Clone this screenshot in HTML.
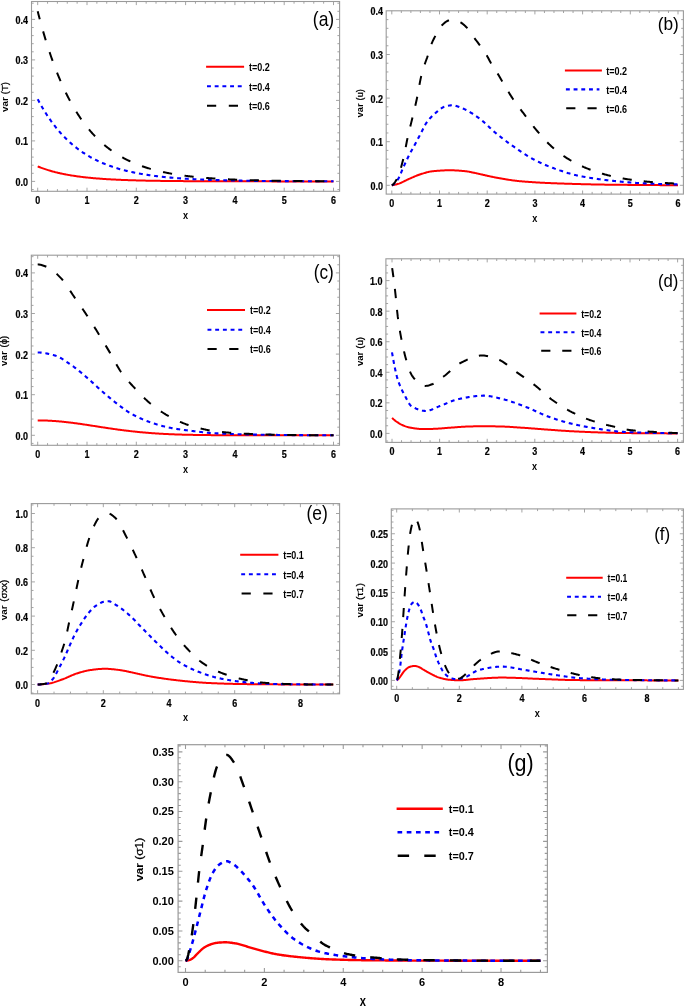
<!DOCTYPE html><html><head><meta charset="utf-8"><style>html,body{margin:0;padding:0;background:#fff;}svg text{font-family:"Liberation Sans", sans-serif;fill:#000;}</style></head><body>
<svg width="685" height="1008" viewBox="0 0 685 1008" style="display:block;filter:blur(0.3px)">
<rect width="685" height="1008" fill="#fff"/>
<g>
<rect x="31.5" y="1.5" width="308.10" height="189.80" fill="none" stroke="#9a9a9a" stroke-width="1.1"/>
<path d="M37.70,191.3v-3.60M37.70,1.5v3.60M47.56,191.3v-2.20M47.56,1.5v2.20M57.42,191.3v-2.20M57.42,1.5v2.20M67.28,191.3v-2.20M67.28,1.5v2.20M77.14,191.3v-2.20M77.14,1.5v2.20M87.00,191.3v-3.60M87.00,1.5v3.60M96.86,191.3v-2.20M96.86,1.5v2.20M106.72,191.3v-2.20M106.72,1.5v2.20M116.58,191.3v-2.20M116.58,1.5v2.20M126.44,191.3v-2.20M126.44,1.5v2.20M136.30,191.3v-3.60M136.30,1.5v3.60M146.16,191.3v-2.20M146.16,1.5v2.20M156.02,191.3v-2.20M156.02,1.5v2.20M165.88,191.3v-2.20M165.88,1.5v2.20M175.74,191.3v-2.20M175.74,1.5v2.20M185.60,191.3v-3.60M185.60,1.5v3.60M195.46,191.3v-2.20M195.46,1.5v2.20M205.32,191.3v-2.20M205.32,1.5v2.20M215.18,191.3v-2.20M215.18,1.5v2.20M225.04,191.3v-2.20M225.04,1.5v2.20M234.90,191.3v-3.60M234.90,1.5v3.60M244.76,191.3v-2.20M244.76,1.5v2.20M254.62,191.3v-2.20M254.62,1.5v2.20M264.48,191.3v-2.20M264.48,1.5v2.20M274.34,191.3v-2.20M274.34,1.5v2.20M284.20,191.3v-3.60M284.20,1.5v3.60M294.06,191.3v-2.20M294.06,1.5v2.20M303.92,191.3v-2.20M303.92,1.5v2.20M313.78,191.3v-2.20M313.78,1.5v2.20M323.64,191.3v-2.20M323.64,1.5v2.20M333.50,191.3v-3.60M333.50,1.5v3.60M31.5,189.50h2.20M339.6,189.50h-2.20M31.5,181.40h3.60M339.6,181.40h-3.60M31.5,173.30h2.20M339.6,173.30h-2.20M31.5,165.20h2.20M339.6,165.20h-2.20M31.5,157.10h2.20M339.6,157.10h-2.20M31.5,149.00h2.20M339.6,149.00h-2.20M31.5,140.90h3.60M339.6,140.90h-3.60M31.5,132.80h2.20M339.6,132.80h-2.20M31.5,124.70h2.20M339.6,124.70h-2.20M31.5,116.60h2.20M339.6,116.60h-2.20M31.5,108.50h2.20M339.6,108.50h-2.20M31.5,100.40h3.60M339.6,100.40h-3.60M31.5,92.30h2.20M339.6,92.30h-2.20M31.5,84.20h2.20M339.6,84.20h-2.20M31.5,76.10h2.20M339.6,76.10h-2.20M31.5,68.00h2.20M339.6,68.00h-2.20M31.5,59.90h3.60M339.6,59.90h-3.60M31.5,51.80h2.20M339.6,51.80h-2.20M31.5,43.70h2.20M339.6,43.70h-2.20M31.5,35.60h2.20M339.6,35.60h-2.20M31.5,27.50h2.20M339.6,27.50h-2.20M31.5,19.40h3.60M339.6,19.40h-3.60M31.5,11.30h2.20M339.6,11.30h-2.20M31.5,3.20h2.20M339.6,3.20h-2.20" stroke="#9a9a9a" stroke-width="0.90" fill="none"/>
<svg x="31.5" y="1.5" width="308.10" height="189.80" viewBox="31.5 1.5 308.10 189.80" overflow="hidden">
<path d="M37.70,166.42L38.44,166.72L39.18,167.01L39.92,167.30L40.67,167.58L41.41,167.86L42.15,168.13L42.89,168.40L43.63,168.66L44.37,168.92L45.11,169.17L45.85,169.41L46.60,169.65L47.34,169.89L48.08,170.12L48.82,170.35L49.56,170.57L50.30,170.79L51.04,171.00L51.79,171.21L52.53,171.42L53.27,171.62L54.01,171.81L54.75,172.01L55.49,172.19L56.23,172.38L56.98,172.56L57.72,172.74L58.46,172.91L59.20,173.08L59.94,173.25L60.68,173.41L61.42,173.57L62.16,173.73L62.91,173.89L63.65,174.04L64.39,174.18L65.13,174.33L65.87,174.47L66.61,174.61L67.35,174.75L68.10,174.88L68.84,175.01L69.58,175.14L70.32,175.27L71.06,175.39L71.80,175.51L72.54,175.63L73.28,175.74L74.03,175.86L74.77,175.97L75.51,176.08L76.25,176.19L76.99,176.29L77.73,176.39L78.47,176.49L79.22,176.59L79.96,176.69L80.70,176.78L81.44,176.88L82.18,176.97L82.92,177.06L83.66,177.14L84.41,177.23L85.15,177.31L85.89,177.40L86.63,177.48L87.37,177.55L88.11,177.63L88.85,177.71L89.59,177.78L90.34,177.85L91.08,177.93L91.82,178.00L92.56,178.06L93.30,178.13L94.04,178.20L94.78,178.26L95.53,178.32L96.27,178.39L97.01,178.45L97.75,178.51L98.49,178.56L99.23,178.62L99.97,178.68L100.72,178.73L101.46,178.79L102.20,178.84L102.94,178.89L103.68,178.94L104.42,178.99L105.16,179.04L105.90,179.09L106.65,179.13L107.39,179.18L108.13,179.22L108.87,179.27L109.61,179.31L110.35,179.35L111.09,179.39L111.84,179.43L112.58,179.47L113.32,179.51L114.06,179.55L114.80,179.59L115.54,179.62L116.28,179.66L117.02,179.69L117.77,179.73L118.51,179.76L119.25,179.79L119.99,179.83L120.73,179.86L121.47,179.89L122.21,179.92L122.96,179.95L123.70,179.98L124.44,180.01L125.18,180.03L125.92,180.06L126.66,180.09L127.40,180.12L128.15,180.14L128.89,180.17L129.63,180.19L130.37,180.22L131.11,180.24L131.85,180.26L132.59,180.29L133.33,180.31L134.08,180.33L134.82,180.35L135.56,180.37L136.30,180.39L137.04,180.41L137.78,180.43L138.52,180.45L139.27,180.47L140.01,180.49L140.75,180.51L141.49,180.53L142.23,180.54L142.97,180.56L143.71,180.58L144.45,180.59L145.20,180.61L145.94,180.63L146.68,180.64L147.42,180.66L148.16,180.67L148.90,180.69L149.64,180.70L150.39,180.72L151.13,180.73L151.87,180.74L152.61,180.76L153.35,180.77L154.09,180.78L154.83,180.79L155.58,180.81L156.32,180.82L157.06,180.83L157.80,180.84L158.54,180.85L159.28,180.86L160.02,180.87L160.76,180.88L161.51,180.89L162.25,180.91L162.99,180.92L163.73,180.92L164.47,180.93L165.21,180.94L165.95,180.95L166.70,180.96L167.44,180.97L168.18,180.98L168.92,180.99L169.66,181.00L170.40,181.00L171.14,181.01L171.88,181.02L172.63,181.03L173.37,181.04L174.11,181.04L174.85,181.05L175.59,181.06L176.33,181.06L177.07,181.07L177.82,181.08L178.56,181.08L179.30,181.09L180.04,181.10L180.78,181.10L181.52,181.11L182.26,181.11L183.01,181.12L183.75,181.13L184.49,181.13L185.23,181.14L185.97,181.14L186.71,181.15L187.45,181.15L188.19,181.16L188.94,181.16L189.68,181.17L190.42,181.17L191.16,181.18L191.90,181.18L192.64,181.18L193.38,181.19L194.13,181.19L194.87,181.20L195.61,181.20L196.35,181.21L197.09,181.21L197.83,181.21L198.57,181.22L199.32,181.22L200.06,181.22L200.80,181.23L201.54,181.23L202.28,181.23L203.02,181.24L203.76,181.24L204.50,181.24L205.25,181.25L205.99,181.25L206.73,181.25L207.47,181.26L208.21,181.26L208.95,181.26L209.69,181.27L210.44,181.27L211.18,181.27L211.92,181.27L212.66,181.28L213.40,181.28L214.14,181.28L214.88,181.28L215.62,181.29L216.37,181.29L217.11,181.29L217.85,181.29L218.59,181.29L219.33,181.30L220.07,181.30L220.81,181.30L221.56,181.30L222.30,181.30L223.04,181.31L223.78,181.31L224.52,181.31L225.26,181.31L226.00,181.31L226.75,181.32L227.49,181.32L228.23,181.32L228.97,181.32L229.71,181.32L230.45,181.32L231.19,181.33L231.93,181.33L232.68,181.33L233.42,181.33L234.16,181.33L234.90,181.33L235.64,181.33L236.38,181.34L237.12,181.34L237.87,181.34L238.61,181.34L239.35,181.34L240.09,181.34L240.83,181.34L241.57,181.34L242.31,181.34L243.05,181.35L243.80,181.35L244.54,181.35L245.28,181.35L246.02,181.35L246.76,181.35L247.50,181.35L248.24,181.35L248.99,181.35L249.73,181.35L250.47,181.36L251.21,181.36L251.95,181.36L252.69,181.36L253.43,181.36L254.18,181.36L254.92,181.36L255.66,181.36L256.40,181.36L257.14,181.36L257.88,181.36L258.62,181.36L259.36,181.37L260.11,181.37L260.85,181.37L261.59,181.37L262.33,181.37L263.07,181.37L263.81,181.37L264.55,181.37L265.30,181.37L266.04,181.37L266.78,181.37L267.52,181.37L268.26,181.37L269.00,181.37L269.74,181.37L270.48,181.37L271.23,181.37L271.97,181.38L272.71,181.38L273.45,181.38L274.19,181.38L274.93,181.38L275.67,181.38L276.42,181.38L277.16,181.38L277.90,181.38L278.64,181.38L279.38,181.38L280.12,181.38L280.86,181.38L281.61,181.38L282.35,181.38L283.09,181.38L283.83,181.38L284.57,181.38L285.31,181.38L286.05,181.38L286.79,181.38L287.54,181.38L288.28,181.38L289.02,181.38L289.76,181.38L290.50,181.39L291.24,181.39L291.98,181.39L292.73,181.39L293.47,181.39L294.21,181.39L294.95,181.39L295.69,181.39L296.43,181.39L297.17,181.39L297.92,181.39L298.66,181.39L299.40,181.39L300.14,181.39L300.88,181.39L301.62,181.39L302.36,181.39L303.10,181.39L303.85,181.39L304.59,181.39L305.33,181.39L306.07,181.39L306.81,181.39L307.55,181.39L308.29,181.39L309.04,181.39L309.78,181.39L310.52,181.39L311.26,181.39L312.00,181.39L312.74,181.39L313.48,181.39L314.22,181.39L314.97,181.39L315.71,181.39L316.45,181.39L317.19,181.39L317.93,181.39L318.67,181.39L319.41,181.39L320.16,181.39L320.90,181.39L321.64,181.39L322.38,181.39L323.12,181.39L323.86,181.39L324.60,181.39L325.35,181.39L326.09,181.39L326.83,181.39L327.57,181.39L328.31,181.39L329.05,181.39L329.79,181.39L330.53,181.40L331.28,181.40L332.02,181.40L332.76,181.40L333.50,181.40" fill="none" stroke="#ff0000" stroke-width="2.00" stroke-linejoin="round"/>
<path d="M37.70,99.19L38.44,100.58L39.18,101.96L39.92,103.31L40.67,104.63L41.41,105.94L42.15,107.22L42.89,108.48L43.63,109.72L44.37,110.94L45.11,112.14L45.85,113.31L46.60,114.47L47.34,115.61L48.08,116.73L48.82,117.83L49.56,118.91L50.30,119.97L51.04,121.01L51.79,122.04L52.53,123.05L53.27,124.04L54.01,125.02L54.75,125.97L55.49,126.92L56.23,127.84L56.98,128.75L57.72,129.65L58.46,130.53L59.20,131.39L59.94,132.24L60.68,133.08L61.42,133.90L62.16,134.71L62.91,135.50L63.65,136.28L64.39,137.05L65.13,137.80L65.87,138.54L66.61,139.27L67.35,139.99L68.10,140.69L68.84,141.38L69.58,142.06L70.32,142.73L71.06,143.39L71.80,144.03L72.54,144.67L73.28,145.29L74.03,145.91L74.77,146.51L75.51,147.10L76.25,147.69L76.99,148.26L77.73,148.82L78.47,149.38L79.22,149.92L79.96,150.46L80.70,150.98L81.44,151.50L82.18,152.01L82.92,152.51L83.66,153.00L84.41,153.48L85.15,153.95L85.89,154.42L86.63,154.88L87.37,155.33L88.11,155.77L88.85,156.21L89.59,156.64L90.34,157.06L91.08,157.47L91.82,157.88L92.56,158.28L93.30,158.67L94.04,159.06L94.78,159.44L95.53,159.81L96.27,160.18L97.01,160.54L97.75,160.89L98.49,161.24L99.23,161.58L99.97,161.92L100.72,162.25L101.46,162.58L102.20,162.90L102.94,163.21L103.68,163.52L104.42,163.82L105.16,164.12L105.90,164.42L106.65,164.71L107.39,164.99L108.13,165.27L108.87,165.54L109.61,165.81L110.35,166.08L111.09,166.34L111.84,166.59L112.58,166.85L113.32,167.09L114.06,167.34L114.80,167.57L115.54,167.81L116.28,168.04L117.02,168.27L117.77,168.49L118.51,168.71L119.25,168.93L119.99,169.14L120.73,169.35L121.47,169.55L122.21,169.75L122.96,169.95L123.70,170.15L124.44,170.34L125.18,170.52L125.92,170.71L126.66,170.89L127.40,171.07L128.15,171.25L128.89,171.42L129.63,171.59L130.37,171.75L131.11,171.92L131.85,172.08L132.59,172.24L133.33,172.39L134.08,172.55L134.82,172.70L135.56,172.85L136.30,172.99L137.04,173.13L137.78,173.27L138.52,173.41L139.27,173.55L140.01,173.68L140.75,173.81L141.49,173.94L142.23,174.07L142.97,174.19L143.71,174.32L144.45,174.44L145.20,174.55L145.94,174.67L146.68,174.79L147.42,174.90L148.16,175.01L148.90,175.12L149.64,175.22L150.39,175.33L151.13,175.43L151.87,175.53L152.61,175.63L153.35,175.73L154.09,175.83L154.83,175.92L155.58,176.01L156.32,176.11L157.06,176.20L157.80,176.28L158.54,176.37L159.28,176.46L160.02,176.54L160.76,176.62L161.51,176.71L162.25,176.78L162.99,176.86L163.73,176.94L164.47,177.02L165.21,177.09L165.95,177.16L166.70,177.24L167.44,177.31L168.18,177.38L168.92,177.44L169.66,177.51L170.40,177.58L171.14,177.64L171.88,177.71L172.63,177.77L173.37,177.83L174.11,177.89L174.85,177.95L175.59,178.01L176.33,178.07L177.07,178.12L177.82,178.18L178.56,178.23L179.30,178.29L180.04,178.34L180.78,178.39L181.52,178.44L182.26,178.49L183.01,178.54L183.75,178.59L184.49,178.64L185.23,178.69L185.97,178.73L186.71,178.78L187.45,178.82L188.19,178.87L188.94,178.91L189.68,178.95L190.42,178.99L191.16,179.04L191.90,179.08L192.64,179.11L193.38,179.15L194.13,179.19L194.87,179.23L195.61,179.27L196.35,179.30L197.09,179.34L197.83,179.37L198.57,179.41L199.32,179.44L200.06,179.47L200.80,179.51L201.54,179.54L202.28,179.57L203.02,179.60L203.76,179.63L204.50,179.66L205.25,179.69L205.99,179.72L206.73,179.75L207.47,179.78L208.21,179.81L208.95,179.83L209.69,179.86L210.44,179.89L211.18,179.91L211.92,179.94L212.66,179.96L213.40,179.99L214.14,180.01L214.88,180.03L215.62,180.06L216.37,180.08L217.11,180.10L217.85,180.12L218.59,180.15L219.33,180.17L220.07,180.19L220.81,180.21L221.56,180.23L222.30,180.25L223.04,180.27L223.78,180.29L224.52,180.31L225.26,180.33L226.00,180.34L226.75,180.36L227.49,180.38L228.23,180.40L228.97,180.41L229.71,180.43L230.45,180.45L231.19,180.46L231.93,180.48L232.68,180.49L233.42,180.51L234.16,180.52L234.90,180.54L235.64,180.55L236.38,180.57L237.12,180.58L237.87,180.60L238.61,180.61L239.35,180.62L240.09,180.64L240.83,180.65L241.57,180.66L242.31,180.68L243.05,180.69L243.80,180.70L244.54,180.71L245.28,180.72L246.02,180.73L246.76,180.75L247.50,180.76L248.24,180.77L248.99,180.78L249.73,180.79L250.47,180.80L251.21,180.81L251.95,180.82L252.69,180.83L253.43,180.84L254.18,180.85L254.92,180.86L255.66,180.87L256.40,180.88L257.14,180.89L257.88,180.89L258.62,180.90L259.36,180.91L260.11,180.92L260.85,180.93L261.59,180.94L262.33,180.94L263.07,180.95L263.81,180.96L264.55,180.97L265.30,180.97L266.04,180.98L266.78,180.99L267.52,181.00L268.26,181.00L269.00,181.01L269.74,181.02L270.48,181.02L271.23,181.03L271.97,181.03L272.71,181.04L273.45,181.05L274.19,181.05L274.93,181.06L275.67,181.06L276.42,181.07L277.16,181.08L277.90,181.08L278.64,181.09L279.38,181.09L280.12,181.10L280.86,181.10L281.61,181.11L282.35,181.11L283.09,181.12L283.83,181.12L284.57,181.13L285.31,181.13L286.05,181.14L286.79,181.14L287.54,181.15L288.28,181.15L289.02,181.15L289.76,181.16L290.50,181.16L291.24,181.17L291.98,181.17L292.73,181.17L293.47,181.18L294.21,181.18L294.95,181.19L295.69,181.19L296.43,181.19L297.17,181.20L297.92,181.20L298.66,181.20L299.40,181.21L300.14,181.21L300.88,181.21L301.62,181.22L302.36,181.22L303.10,181.22L303.85,181.23L304.59,181.23L305.33,181.23L306.07,181.23L306.81,181.24L307.55,181.24L308.29,181.24L309.04,181.25L309.78,181.25L310.52,181.25L311.26,181.25L312.00,181.26L312.74,181.26L313.48,181.26L314.22,181.26L314.97,181.26L315.71,181.27L316.45,181.27L317.19,181.27L317.93,181.27L318.67,181.28L319.41,181.28L320.16,181.28L320.90,181.28L321.64,181.28L322.38,181.29L323.12,181.29L323.86,181.29L324.60,181.29L325.35,181.29L326.09,181.30L326.83,181.30L327.57,181.30L328.31,181.30L329.05,181.30L329.79,181.30L330.53,181.31L331.28,181.31L332.02,181.31L332.76,181.31L333.50,181.31" fill="none" stroke="#0000ff" stroke-width="2.10" stroke-dasharray="3.90 3.80" stroke-linejoin="round"/>
<path d="M37.70,11.30L38.44,14.19L39.18,17.03L39.92,19.83L40.67,22.57L41.41,25.27L42.15,27.93L42.89,30.53L43.63,33.10L44.37,35.62L45.11,38.10L45.85,40.53L46.60,42.93L47.34,45.28L48.08,47.59L48.82,49.87L49.56,52.10L50.30,54.30L51.04,56.46L51.79,58.59L52.53,60.67L53.27,62.73L54.01,64.74L54.75,66.73L55.49,68.67L56.23,70.59L56.98,72.47L57.72,74.33L58.46,76.14L59.20,77.93L59.94,79.69L60.68,81.42L61.42,83.12L62.16,84.79L62.91,86.43L63.65,88.05L64.39,89.63L65.13,91.19L65.87,92.73L66.61,94.23L67.35,95.72L68.10,97.17L68.84,98.60L69.58,100.01L70.32,101.39L71.06,102.75L71.80,104.09L72.54,105.40L73.28,106.70L74.03,107.97L74.77,109.21L75.51,110.44L76.25,111.65L76.99,112.83L77.73,114.00L78.47,115.14L79.22,116.27L79.96,117.38L80.70,118.47L81.44,119.53L82.18,120.59L82.92,121.62L83.66,122.64L84.41,123.63L85.15,124.62L85.89,125.58L86.63,126.53L87.37,127.46L88.11,128.38L88.85,129.28L89.59,130.17L90.34,131.04L91.08,131.89L91.82,132.74L92.56,133.56L93.30,134.38L94.04,135.17L94.78,135.96L95.53,136.73L96.27,137.49L97.01,138.24L97.75,138.97L98.49,139.69L99.23,140.40L99.97,141.10L100.72,141.78L101.46,142.46L102.20,143.12L102.94,143.77L103.68,144.41L104.42,145.04L105.16,145.66L105.90,146.26L106.65,146.86L107.39,147.45L108.13,148.02L108.87,148.59L109.61,149.15L110.35,149.70L111.09,150.24L111.84,150.77L112.58,151.29L113.32,151.80L114.06,152.30L114.80,152.80L115.54,153.28L116.28,153.76L117.02,154.23L117.77,154.69L118.51,155.15L119.25,155.59L119.99,156.03L120.73,156.46L121.47,156.89L122.21,157.30L122.96,157.71L123.70,158.11L124.44,158.51L125.18,158.90L125.92,159.28L126.66,159.66L127.40,160.03L128.15,160.39L128.89,160.75L129.63,161.10L130.37,161.44L131.11,161.78L131.85,162.12L132.59,162.44L133.33,162.77L134.08,163.08L134.82,163.39L135.56,163.70L136.30,164.00L137.04,164.30L137.78,164.59L138.52,164.87L139.27,165.15L140.01,165.43L140.75,165.70L141.49,165.97L142.23,166.23L142.97,166.49L143.71,166.74L144.45,166.99L145.20,167.24L145.94,167.48L146.68,167.71L147.42,167.95L148.16,168.18L148.90,168.40L149.64,168.62L150.39,168.84L151.13,169.05L151.87,169.26L152.61,169.47L153.35,169.67L154.09,169.87L154.83,170.07L155.58,170.26L156.32,170.45L157.06,170.63L157.80,170.82L158.54,171.00L159.28,171.17L160.02,171.35L160.76,171.52L161.51,171.69L162.25,171.85L162.99,172.01L163.73,172.17L164.47,172.33L165.21,172.48L165.95,172.64L166.70,172.78L167.44,172.93L168.18,173.08L168.92,173.22L169.66,173.36L170.40,173.49L171.14,173.63L171.88,173.76L172.63,173.89L173.37,174.02L174.11,174.14L174.85,174.27L175.59,174.39L176.33,174.51L177.07,174.62L177.82,174.74L178.56,174.85L179.30,174.96L180.04,175.07L180.78,175.18L181.52,175.29L182.26,175.39L183.01,175.49L183.75,175.59L184.49,175.69L185.23,175.79L185.97,175.88L186.71,175.98L187.45,176.07L188.19,176.16L188.94,176.25L189.68,176.34L190.42,176.42L191.16,176.51L191.90,176.59L192.64,176.67L193.38,176.75L194.13,176.83L194.87,176.91L195.61,176.99L196.35,177.06L197.09,177.13L197.83,177.21L198.57,177.28L199.32,177.35L200.06,177.42L200.80,177.48L201.54,177.55L202.28,177.62L203.02,177.68L203.76,177.74L204.50,177.81L205.25,177.87L205.99,177.93L206.73,177.99L207.47,178.04L208.21,178.10L208.95,178.16L209.69,178.21L210.44,178.27L211.18,178.32L211.92,178.37L212.66,178.42L213.40,178.47L214.14,178.52L214.88,178.57L215.62,178.62L216.37,178.67L217.11,178.71L217.85,178.76L218.59,178.81L219.33,178.85L220.07,178.89L220.81,178.94L221.56,178.98L222.30,179.02L223.04,179.06L223.78,179.10L224.52,179.14L225.26,179.18L226.00,179.21L226.75,179.25L227.49,179.29L228.23,179.32L228.97,179.36L229.71,179.39L230.45,179.43L231.19,179.46L231.93,179.49L232.68,179.53L233.42,179.56L234.16,179.59L234.90,179.62L235.64,179.65L236.38,179.68L237.12,179.71L237.87,179.74L238.61,179.77L239.35,179.79L240.09,179.82L240.83,179.85L241.57,179.87L242.31,179.90L243.05,179.93L243.80,179.95L244.54,179.98L245.28,180.00L246.02,180.02L246.76,180.05L247.50,180.07L248.24,180.09L248.99,180.12L249.73,180.14L250.47,180.16L251.21,180.18L251.95,180.20L252.69,180.22L253.43,180.24L254.18,180.26L254.92,180.28L255.66,180.30L256.40,180.32L257.14,180.34L257.88,180.35L258.62,180.37L259.36,180.39L260.11,180.41L260.85,180.42L261.59,180.44L262.33,180.46L263.07,180.47L263.81,180.49L264.55,180.50L265.30,180.52L266.04,180.53L266.78,180.55L267.52,180.56L268.26,180.58L269.00,180.59L269.74,180.60L270.48,180.62L271.23,180.63L271.97,180.64L272.71,180.66L273.45,180.67L274.19,180.68L274.93,180.69L275.67,180.71L276.42,180.72L277.16,180.73L277.90,180.74L278.64,180.75L279.38,180.76L280.12,180.77L280.86,180.79L281.61,180.80L282.35,180.81L283.09,180.82L283.83,180.83L284.57,180.84L285.31,180.85L286.05,180.85L286.79,180.86L287.54,180.87L288.28,180.88L289.02,180.89L289.76,180.90L290.50,180.91L291.24,180.92L291.98,180.92L292.73,180.93L293.47,180.94L294.21,180.95L294.95,180.96L295.69,180.96L296.43,180.97L297.17,180.98L297.92,180.99L298.66,180.99L299.40,181.00L300.14,181.01L300.88,181.01L301.62,181.02L302.36,181.03L303.10,181.03L303.85,181.04L304.59,181.04L305.33,181.05L306.07,181.06L306.81,181.06L307.55,181.07L308.29,181.07L309.04,181.08L309.78,181.08L310.52,181.09L311.26,181.10L312.00,181.10L312.74,181.11L313.48,181.11L314.22,181.12L314.97,181.12L315.71,181.13L316.45,181.13L317.19,181.13L317.93,181.14L318.67,181.14L319.41,181.15L320.16,181.15L320.90,181.16L321.64,181.16L322.38,181.16L323.12,181.17L323.86,181.17L324.60,181.18L325.35,181.18L326.09,181.18L326.83,181.19L327.57,181.19L328.31,181.19L329.05,181.20L329.79,181.20L330.53,181.21L331.28,181.21L332.02,181.21L332.76,181.21L333.50,181.22" fill="none" stroke="#000000" stroke-width="2.00" stroke-dasharray="9.20 12.60" stroke-dashoffset="1.02" stroke-linejoin="round"/>
</svg>
<text transform="translate(37.70,204.05) scale(0.9,1)" text-anchor="middle" font-size="10" font-weight="bold" stroke="#000" stroke-width="0.2">0</text>
<text transform="translate(87.00,204.05) scale(0.9,1)" text-anchor="middle" font-size="10" font-weight="bold" stroke="#000" stroke-width="0.2">1</text>
<text transform="translate(136.30,204.05) scale(0.9,1)" text-anchor="middle" font-size="10" font-weight="bold" stroke="#000" stroke-width="0.2">2</text>
<text transform="translate(185.60,204.05) scale(0.9,1)" text-anchor="middle" font-size="10" font-weight="bold" stroke="#000" stroke-width="0.2">3</text>
<text transform="translate(234.90,204.05) scale(0.9,1)" text-anchor="middle" font-size="10" font-weight="bold" stroke="#000" stroke-width="0.2">4</text>
<text transform="translate(284.20,204.05) scale(0.9,1)" text-anchor="middle" font-size="10" font-weight="bold" stroke="#000" stroke-width="0.2">5</text>
<text transform="translate(333.50,204.05) scale(0.9,1)" text-anchor="middle" font-size="10" font-weight="bold" stroke="#000" stroke-width="0.2">6</text>
<text transform="translate(28.10,185.95) scale(0.9,1)" text-anchor="end" font-size="10" font-weight="bold" stroke="#000" stroke-width="0.2">0.0</text>
<text transform="translate(28.10,145.45) scale(0.9,1)" text-anchor="end" font-size="10" font-weight="bold" stroke="#000" stroke-width="0.2">0.1</text>
<text transform="translate(28.10,104.95) scale(0.9,1)" text-anchor="end" font-size="10" font-weight="bold" stroke="#000" stroke-width="0.2">0.2</text>
<text transform="translate(28.10,64.45) scale(0.9,1)" text-anchor="end" font-size="10" font-weight="bold" stroke="#000" stroke-width="0.2">0.3</text>
<text transform="translate(28.10,23.95) scale(0.9,1)" text-anchor="end" font-size="10" font-weight="bold" stroke="#000" stroke-width="0.2">0.4</text>
<text x="182.95" y="218.95" font-size="11.51" font-weight="bold" textLength="5.1" lengthAdjust="spacingAndGlyphs">x</text>
<g transform="translate(7.50,0) rotate(-90)">
<text x="-112.00" y="0" font-size="9.3" font-weight="bold" textLength="14.8" lengthAdjust="spacingAndGlyphs">var</text>
<text x="-94.20" y="0" font-size="8.3" stroke="#000" stroke-width="0.25" textLength="12.00" lengthAdjust="spacingAndGlyphs">(T)</text>
</g>
<text x="312.80" y="25.62" font-size="19.89" textLength="21.40" lengthAdjust="spacingAndGlyphs">(a)</text>
<path d="M206.10,66.70H244.10" fill="none" stroke="#ff0000" stroke-width="2.00"/>
<text x="249.00" y="71.05" font-size="10" font-weight="bold" textLength="20.8" lengthAdjust="spacingAndGlyphs">t=0.2</text>
<path d="M207.00,86.30H241.70" fill="none" stroke="#0000ff" stroke-width="2.10" stroke-dasharray="3.90 3.80"/>
<text x="249.00" y="90.65" font-size="10" font-weight="bold" textLength="20.8" lengthAdjust="spacingAndGlyphs">t=0.4</text>
<path d="M207.00,105.80H244.00" fill="none" stroke="#000000" stroke-width="2.00" stroke-dasharray="9.20 12.60" />
<text x="249.00" y="110.15" font-size="10" font-weight="bold" textLength="20.8" lengthAdjust="spacingAndGlyphs">t=0.6</text>
</g>
<g>
<rect x="386.2" y="10.8" width="297.20" height="183.30" fill="none" stroke="#9a9a9a" stroke-width="1.1"/>
<path d="M391.80,194.1v-3.60M391.80,10.8v3.60M401.34,194.1v-2.20M401.34,10.8v2.20M410.88,194.1v-2.20M410.88,10.8v2.20M420.42,194.1v-2.20M420.42,10.8v2.20M429.96,194.1v-2.20M429.96,10.8v2.20M439.50,194.1v-3.60M439.50,10.8v3.60M449.04,194.1v-2.20M449.04,10.8v2.20M458.58,194.1v-2.20M458.58,10.8v2.20M468.12,194.1v-2.20M468.12,10.8v2.20M477.66,194.1v-2.20M477.66,10.8v2.20M487.20,194.1v-3.60M487.20,10.8v3.60M496.74,194.1v-2.20M496.74,10.8v2.20M506.28,194.1v-2.20M506.28,10.8v2.20M515.82,194.1v-2.20M515.82,10.8v2.20M525.36,194.1v-2.20M525.36,10.8v2.20M534.90,194.1v-3.60M534.90,10.8v3.60M544.44,194.1v-2.20M544.44,10.8v2.20M553.98,194.1v-2.20M553.98,10.8v2.20M563.52,194.1v-2.20M563.52,10.8v2.20M573.06,194.1v-2.20M573.06,10.8v2.20M582.60,194.1v-3.60M582.60,10.8v3.60M592.14,194.1v-2.20M592.14,10.8v2.20M601.68,194.1v-2.20M601.68,10.8v2.20M611.22,194.1v-2.20M611.22,10.8v2.20M620.76,194.1v-2.20M620.76,10.8v2.20M630.30,194.1v-3.60M630.30,10.8v3.60M639.84,194.1v-2.20M639.84,10.8v2.20M649.38,194.1v-2.20M649.38,10.8v2.20M658.92,194.1v-2.20M658.92,10.8v2.20M668.46,194.1v-2.20M668.46,10.8v2.20M678.00,194.1v-3.60M678.00,10.8v3.60M386.2,185.30h3.60M683.4,185.30h-3.60M386.2,176.58h2.20M683.4,176.58h-2.20M386.2,167.86h2.20M683.4,167.86h-2.20M386.2,159.14h2.20M683.4,159.14h-2.20M386.2,150.42h2.20M683.4,150.42h-2.20M386.2,141.70h3.60M683.4,141.70h-3.60M386.2,132.98h2.20M683.4,132.98h-2.20M386.2,124.26h2.20M683.4,124.26h-2.20M386.2,115.54h2.20M683.4,115.54h-2.20M386.2,106.82h2.20M683.4,106.82h-2.20M386.2,98.10h3.60M683.4,98.10h-3.60M386.2,89.38h2.20M683.4,89.38h-2.20M386.2,80.66h2.20M683.4,80.66h-2.20M386.2,71.94h2.20M683.4,71.94h-2.20M386.2,63.22h2.20M683.4,63.22h-2.20M386.2,54.50h3.60M683.4,54.50h-3.60M386.2,45.78h2.20M683.4,45.78h-2.20M386.2,37.06h2.20M683.4,37.06h-2.20M386.2,28.34h2.20M683.4,28.34h-2.20M386.2,19.62h2.20M683.4,19.62h-2.20" stroke="#9a9a9a" stroke-width="0.90" fill="none"/>
<svg x="386.2" y="10.8" width="297.20" height="183.30" viewBox="386.2 10.8 297.20 183.30" overflow="hidden">
<path d="M391.80,185.30L392.52,185.19L393.23,185.06L393.95,184.92L394.67,184.77L395.39,184.60L396.10,184.43L396.82,184.24L397.54,184.04L398.26,183.83L398.97,183.59L399.69,183.32L400.41,183.03L401.12,182.73L401.84,182.40L402.56,182.06L403.28,181.72L403.99,181.36L404.71,181.00L405.43,180.64L406.15,180.28L406.86,179.93L407.58,179.58L408.30,179.25L409.02,178.93L409.73,178.62L410.45,178.31L411.17,178.00L411.88,177.69L412.60,177.37L413.32,177.06L414.04,176.75L414.75,176.44L415.47,176.14L416.19,175.84L416.91,175.55L417.62,175.27L418.34,175.00L419.06,174.74L419.77,174.49L420.49,174.25L421.21,174.03L421.93,173.81L422.64,173.59L423.36,173.36L424.08,173.14L424.80,172.93L425.51,172.72L426.23,172.51L426.95,172.32L427.66,172.13L428.38,171.95L429.10,171.79L429.82,171.64L430.53,171.51L431.25,171.39L431.97,171.29L432.69,171.22L433.40,171.15L434.12,171.08L434.84,171.02L435.55,170.96L436.27,170.90L436.99,170.84L437.71,170.78L438.42,170.73L439.14,170.68L439.86,170.63L440.58,170.58L441.29,170.54L442.01,170.49L442.73,170.46L443.45,170.42L444.16,170.39L444.88,170.36L445.60,170.33L446.31,170.31L447.03,170.29L447.75,170.28L448.47,170.27L449.18,170.26L449.90,170.26L450.62,170.26L451.34,170.27L452.05,170.28L452.77,170.30L453.49,170.32L454.20,170.35L454.92,170.38L455.64,170.41L456.36,170.45L457.07,170.50L457.79,170.54L458.51,170.59L459.23,170.65L459.94,170.70L460.66,170.76L461.38,170.82L462.09,170.89L462.81,170.95L463.53,171.02L464.25,171.09L464.96,171.16L465.68,171.23L466.40,171.30L467.12,171.40L467.83,171.51L468.55,171.64L469.27,171.78L469.98,171.93L470.70,172.08L471.42,172.24L472.14,172.40L472.85,172.55L473.57,172.70L474.29,172.84L475.01,172.99L475.72,173.14L476.44,173.30L477.16,173.45L477.88,173.61L478.59,173.77L479.31,173.93L480.03,174.10L480.74,174.26L481.46,174.42L482.18,174.59L482.90,174.75L483.61,174.92L484.33,175.09L485.05,175.25L485.77,175.42L486.48,175.58L487.20,175.74L487.92,175.91L488.63,176.07L489.35,176.23L490.07,176.38L490.79,176.54L491.50,176.69L492.22,176.84L492.94,176.99L493.66,177.13L494.37,177.27L495.09,177.41L495.81,177.55L496.52,177.68L497.24,177.80L497.96,177.93L498.68,178.06L499.39,178.18L500.11,178.31L500.83,178.44L501.55,178.56L502.26,178.69L502.98,178.81L503.70,178.93L504.42,179.06L505.13,179.18L505.85,179.30L506.57,179.42L507.28,179.53L508.00,179.65L508.72,179.76L509.44,179.87L510.15,179.98L510.87,180.09L511.59,180.19L512.31,180.30L513.02,180.39L513.74,180.49L514.46,180.58L515.17,180.67L515.89,180.76L516.61,180.85L517.33,180.93L518.04,181.00L518.76,181.08L519.48,181.14L520.20,181.21L520.91,181.27L521.63,181.33L522.35,181.39L523.06,181.45L523.78,181.51L524.50,181.57L525.22,181.63L525.93,181.68L526.65,181.74L527.37,181.79L528.09,181.85L528.80,181.90L529.52,181.95L530.24,182.00L530.95,182.05L531.67,182.10L532.39,182.15L533.11,182.20L533.82,182.24L534.54,182.29L535.26,182.33L535.98,182.38L536.69,182.42L537.41,182.46L538.13,182.51L538.85,182.55L539.56,182.59L540.28,182.63L541.00,182.67L541.71,182.71L542.43,182.74L543.15,182.78L543.87,182.82L544.58,182.85L545.30,182.89L546.02,182.92L546.74,182.95L547.45,182.99L548.17,183.02L548.89,183.05L549.60,183.08L550.32,183.11L551.04,183.14L551.76,183.17L552.47,183.20L553.19,183.23L553.91,183.26L554.63,183.28L555.34,183.31L556.06,183.34L556.78,183.36L557.49,183.39L558.21,183.41L558.93,183.44L559.65,183.46L560.36,183.49L561.08,183.51L561.80,183.54L562.52,183.56L563.23,183.59L563.95,183.61L564.67,183.64L565.38,183.66L566.10,183.69L566.82,183.71L567.54,183.73L568.25,183.76L568.97,183.78L569.69,183.80L570.41,183.82L571.12,183.85L571.84,183.87L572.56,183.89L573.28,183.91L573.99,183.93L574.71,183.95L575.43,183.98L576.14,184.00L576.86,184.02L577.58,184.04L578.30,184.06L579.01,184.08L579.73,184.10L580.45,184.12L581.17,184.14L581.88,184.16L582.60,184.17L583.32,184.19L584.03,184.21L584.75,184.23L585.47,184.25L586.19,184.26L586.90,184.28L587.62,184.30L588.34,184.32L589.06,184.33L589.77,184.35L590.49,184.36L591.21,184.38L591.92,184.40L592.64,184.41L593.36,184.43L594.08,184.44L594.79,184.45L595.51,184.47L596.23,184.48L596.95,184.50L597.66,184.51L598.38,184.52L599.10,184.54L599.82,184.55L600.53,184.56L601.25,184.57L601.97,184.58L602.68,184.59L603.40,184.61L604.12,184.62L604.84,184.63L605.55,184.64L606.27,184.65L606.99,184.66L607.71,184.66L608.42,184.67L609.14,184.68L609.86,184.69L610.57,184.70L611.29,184.71L612.01,184.71L612.73,184.72L613.44,184.73L614.16,184.74L614.88,184.75L615.60,184.75L616.31,184.76L617.03,184.77L617.75,184.78L618.46,184.79L619.18,184.79L619.90,184.80L620.62,184.81L621.33,184.82L622.05,184.82L622.77,184.83L623.49,184.84L624.20,184.85L624.92,184.85L625.64,184.86L626.35,184.87L627.07,184.87L627.79,184.88L628.51,184.89L629.22,184.90L629.94,184.90L630.66,184.91L631.38,184.92L632.09,184.92L632.81,184.93L633.53,184.94L634.25,184.94L634.96,184.95L635.68,184.96L636.40,184.96L637.11,184.97L637.83,184.98L638.55,184.98L639.27,184.99L639.98,184.99L640.70,185.00L641.42,185.01L642.14,185.01L642.85,185.02L643.57,185.02L644.29,185.03L645.00,185.03L645.72,185.04L646.44,185.04L647.16,185.05L647.87,185.05L648.59,185.06L649.31,185.06L650.03,185.07L650.74,185.07L651.46,185.08L652.18,185.08L652.89,185.09L653.61,185.09L654.33,185.10L655.05,185.10L655.76,185.10L656.48,185.11L657.20,185.11L657.92,185.12L658.63,185.12L659.35,185.12L660.07,185.13L660.78,185.13L661.50,185.13L662.22,185.14L662.94,185.14L663.65,185.14L664.37,185.14L665.09,185.15L665.81,185.15L666.52,185.15L667.24,185.15L667.96,185.16L668.68,185.16L669.39,185.16L670.11,185.16L670.83,185.16L671.54,185.16L672.26,185.16L672.98,185.17L673.70,185.17L674.41,185.17L675.13,185.17L675.85,185.17L676.57,185.17L677.28,185.17L678.00,185.17" fill="none" stroke="#ff0000" stroke-width="2.00" stroke-linejoin="round"/>
<path d="M391.80,185.30L392.52,185.01L393.23,184.57L393.95,184.02L394.67,183.35L395.39,182.60L396.10,181.77L396.82,180.88L397.54,179.95L398.26,178.92L398.97,177.61L399.69,176.09L400.41,174.42L401.12,172.65L401.84,170.86L402.56,169.11L403.28,167.45L403.99,165.90L404.71,164.35L405.43,162.81L406.15,161.28L406.86,159.76L407.58,158.27L408.30,156.80L409.02,155.36L409.73,153.97L410.45,152.62L411.17,151.30L411.88,150.01L412.60,148.73L413.32,147.46L414.04,146.18L414.75,144.87L415.47,143.54L416.19,142.19L416.91,140.82L417.62,139.44L418.34,138.05L419.06,136.67L419.77,135.29L420.49,133.92L421.21,132.57L421.93,131.18L422.64,129.75L423.36,128.32L424.08,126.90L424.80,125.54L425.51,124.25L426.23,123.07L426.95,122.03L427.66,121.07L428.38,120.17L429.10,119.30L429.82,118.48L430.53,117.70L431.25,116.95L431.97,116.23L432.69,115.54L433.40,114.87L434.12,114.22L434.84,113.60L435.55,112.98L436.27,112.35L436.99,111.72L437.71,111.10L438.42,110.49L439.14,109.90L439.86,109.33L440.58,108.80L441.29,108.30L442.01,107.85L442.73,107.46L443.45,107.12L444.16,106.85L444.88,106.63L445.60,106.42L446.31,106.21L447.03,106.02L447.75,105.84L448.47,105.68L449.18,105.55L449.90,105.43L450.62,105.35L451.34,105.31L452.05,105.30L452.77,105.33L453.49,105.41L454.20,105.52L454.92,105.68L455.64,105.86L456.36,106.07L457.07,106.30L457.79,106.55L458.51,106.82L459.23,107.09L459.94,107.37L460.66,107.65L461.38,107.92L462.09,108.19L462.81,108.47L463.53,108.77L464.25,109.08L464.96,109.42L465.68,109.76L466.40,110.12L467.12,110.50L467.83,110.89L468.55,111.29L469.27,111.71L469.98,112.13L470.70,112.57L471.42,113.01L472.14,113.47L472.85,113.93L473.57,114.40L474.29,114.87L475.01,115.35L475.72,115.84L476.44,116.33L477.16,116.82L477.88,117.32L478.59,117.82L479.31,118.35L480.03,118.89L480.74,119.46L481.46,120.04L482.18,120.64L482.90,121.26L483.61,121.89L484.33,122.53L485.05,123.18L485.77,123.84L486.48,124.51L487.20,125.18L487.92,125.86L488.63,126.54L489.35,127.22L490.07,127.90L490.79,128.57L491.50,129.24L492.22,129.91L492.94,130.56L493.66,131.21L494.37,131.85L495.09,132.47L495.81,133.08L496.52,133.68L497.24,134.26L497.96,134.83L498.68,135.41L499.39,135.98L500.11,136.55L500.83,137.11L501.55,137.67L502.26,138.23L502.98,138.78L503.70,139.34L504.42,139.88L505.13,140.43L505.85,140.97L506.57,141.51L507.28,142.04L508.00,142.57L508.72,143.10L509.44,143.62L510.15,144.15L510.87,144.66L511.59,145.18L512.31,145.69L513.02,146.19L513.74,146.69L514.46,147.19L515.17,147.69L515.89,148.18L516.61,148.67L517.33,149.17L518.04,149.66L518.76,150.15L519.48,150.64L520.20,151.12L520.91,151.61L521.63,152.09L522.35,152.57L523.06,153.05L523.78,153.52L524.50,153.99L525.22,154.45L525.93,154.91L526.65,155.36L527.37,155.81L528.09,156.25L528.80,156.68L529.52,157.11L530.24,157.53L530.95,157.95L531.67,158.35L532.39,158.75L533.11,159.13L533.82,159.51L534.54,159.88L535.26,160.25L535.98,160.61L536.69,160.97L537.41,161.32L538.13,161.67L538.85,162.02L539.56,162.36L540.28,162.70L541.00,163.03L541.71,163.36L542.43,163.69L543.15,164.01L543.87,164.33L544.58,164.64L545.30,164.95L546.02,165.26L546.74,165.56L547.45,165.86L548.17,166.15L548.89,166.44L549.60,166.73L550.32,167.01L551.04,167.29L551.76,167.56L552.47,167.83L553.19,168.10L553.91,168.36L554.63,168.62L555.34,168.88L556.06,169.13L556.78,169.38L557.49,169.64L558.21,169.89L558.93,170.13L559.65,170.38L560.36,170.63L561.08,170.87L561.80,171.11L562.52,171.35L563.23,171.58L563.95,171.82L564.67,172.05L565.38,172.28L566.10,172.50L566.82,172.72L567.54,172.94L568.25,173.15L568.97,173.36L569.69,173.57L570.41,173.77L571.12,173.97L571.84,174.17L572.56,174.36L573.28,174.54L573.99,174.73L574.71,174.90L575.43,175.07L576.14,175.24L576.86,175.40L577.58,175.56L578.30,175.71L579.01,175.85L579.73,176.00L580.45,176.14L581.17,176.28L581.88,176.42L582.60,176.55L583.32,176.69L584.03,176.82L584.75,176.95L585.47,177.08L586.19,177.20L586.90,177.33L587.62,177.45L588.34,177.57L589.06,177.69L589.77,177.81L590.49,177.93L591.21,178.04L591.92,178.15L592.64,178.26L593.36,178.37L594.08,178.48L594.79,178.59L595.51,178.69L596.23,178.80L596.95,178.90L597.66,179.00L598.38,179.10L599.10,179.20L599.82,179.29L600.53,179.39L601.25,179.48L601.97,179.57L602.68,179.67L603.40,179.75L604.12,179.84L604.84,179.93L605.55,180.02L606.27,180.10L606.99,180.19L607.71,180.27L608.42,180.35L609.14,180.43L609.86,180.51L610.57,180.59L611.29,180.67L612.01,180.75L612.73,180.83L613.44,180.90L614.16,180.98L614.88,181.06L615.60,181.13L616.31,181.21L617.03,181.28L617.75,181.36L618.46,181.43L619.18,181.50L619.90,181.57L620.62,181.64L621.33,181.71L622.05,181.78L622.77,181.85L623.49,181.92L624.20,181.98L624.92,182.05L625.64,182.11L626.35,182.18L627.07,182.24L627.79,182.30L628.51,182.36L629.22,182.42L629.94,182.47L630.66,182.53L631.38,182.59L632.09,182.64L632.81,182.69L633.53,182.74L634.25,182.79L634.96,182.84L635.68,182.88L636.40,182.93L637.11,182.97L637.83,183.01L638.55,183.05L639.27,183.09L639.98,183.13L640.70,183.16L641.42,183.20L642.14,183.23L642.85,183.27L643.57,183.31L644.29,183.34L645.00,183.38L645.72,183.41L646.44,183.45L647.16,183.48L647.87,183.51L648.59,183.55L649.31,183.58L650.03,183.61L650.74,183.65L651.46,183.68L652.18,183.71L652.89,183.74L653.61,183.77L654.33,183.81L655.05,183.84L655.76,183.87L656.48,183.89L657.20,183.92L657.92,183.95L658.63,183.98L659.35,184.01L660.07,184.03L660.78,184.06L661.50,184.08L662.22,184.11L662.94,184.13L663.65,184.15L664.37,184.18L665.09,184.20L665.81,184.22L666.52,184.24L667.24,184.26L667.96,184.28L668.68,184.29L669.39,184.31L670.11,184.32L670.83,184.34L671.54,184.35L672.26,184.37L672.98,184.38L673.70,184.39L674.41,184.40L675.13,184.41L675.85,184.41L676.57,184.42L677.28,184.42L678.00,184.43" fill="none" stroke="#0000ff" stroke-width="2.10" stroke-dasharray="3.90 3.80" stroke-linejoin="round"/>
<path d="M391.80,185.30L392.52,184.92L393.23,184.33L393.95,183.55L394.67,182.61L395.39,181.55L396.10,180.39L396.82,179.16L397.54,177.81L398.26,176.17L398.97,174.24L399.69,172.08L400.41,169.71L401.12,167.17L401.84,164.50L402.56,161.74L403.28,158.92L403.99,155.94L404.71,152.52L405.43,148.81L406.15,144.99L406.86,141.27L407.58,137.81L408.30,134.64L409.02,131.61L409.73,128.67L410.45,125.77L411.17,122.87L411.88,119.94L412.60,116.93L413.32,113.94L414.04,110.96L414.75,107.96L415.47,104.90L416.19,101.75L416.91,98.48L417.62,94.94L418.34,91.08L419.06,87.07L419.77,83.12L420.49,79.40L421.21,76.11L421.93,73.31L422.64,70.78L423.36,68.45L424.08,66.24L424.80,64.06L425.51,61.99L426.23,60.02L426.95,58.06L427.66,55.97L428.38,53.67L429.10,51.22L429.82,48.78L430.53,46.50L431.25,44.54L431.97,42.80L432.69,41.18L433.40,39.68L434.12,38.25L434.84,36.88L435.55,35.54L436.27,34.18L436.99,32.84L437.71,31.52L438.42,30.25L439.14,29.05L439.86,27.94L440.58,26.93L441.29,26.05L442.01,25.30L442.73,24.58L443.45,23.88L444.16,23.22L444.88,22.60L445.60,22.04L446.31,21.54L447.03,21.11L447.75,20.77L448.47,20.52L449.18,20.33L449.90,20.15L450.62,19.99L451.34,19.86L452.05,19.74L452.77,19.67L453.49,19.62L454.20,19.64L454.92,19.74L455.64,19.93L456.36,20.18L457.07,20.50L457.79,20.85L458.51,21.24L459.23,21.64L459.94,22.04L460.66,22.44L461.38,22.88L462.09,23.38L462.81,23.92L463.53,24.50L464.25,25.12L464.96,25.78L465.68,26.47L466.40,27.18L467.12,27.92L467.83,28.70L468.55,29.57L469.27,30.52L469.98,31.53L470.70,32.58L471.42,33.66L472.14,34.75L472.85,35.83L473.57,36.88L474.29,37.89L475.01,38.85L475.72,39.80L476.44,40.74L477.16,41.68L477.88,42.62L478.59,43.58L479.31,44.55L480.03,45.55L480.74,46.54L481.46,47.54L482.18,48.54L482.90,49.56L483.61,50.59L484.33,51.65L485.05,52.73L485.77,53.84L486.48,54.98L487.20,56.18L487.92,57.47L488.63,58.82L489.35,60.19L490.07,61.53L490.79,62.83L491.50,64.04L492.22,65.20L492.94,66.33L493.66,67.43L494.37,68.52L495.09,69.61L495.81,70.70L496.52,71.81L497.24,72.95L497.96,74.12L498.68,75.34L499.39,76.57L500.11,77.82L500.83,79.06L501.55,80.28L502.26,81.49L502.98,82.71L503.70,83.92L504.42,85.14L505.13,86.35L505.85,87.56L506.57,88.77L507.28,89.97L508.00,91.16L508.72,92.33L509.44,93.50L510.15,94.65L510.87,95.78L511.59,96.90L512.31,97.99L513.02,99.07L513.74,100.12L514.46,101.15L515.17,102.17L515.89,103.18L516.61,104.17L517.33,105.14L518.04,106.11L518.76,107.07L519.48,108.02L520.20,108.97L520.91,109.91L521.63,110.85L522.35,111.78L523.06,112.72L523.78,113.66L524.50,114.60L525.22,115.54L525.93,116.49L526.65,117.45L527.37,118.40L528.09,119.36L528.80,120.31L529.52,121.26L530.24,122.21L530.95,123.16L531.67,124.10L532.39,125.03L533.11,125.95L533.82,126.87L534.54,127.77L535.26,128.66L535.98,129.54L536.69,130.41L537.41,131.26L538.13,132.10L538.85,132.93L539.56,133.76L540.28,134.59L541.00,135.41L541.71,136.23L542.43,137.04L543.15,137.85L543.87,138.64L544.58,139.43L545.30,140.21L546.02,140.98L546.74,141.74L547.45,142.49L548.17,143.22L548.89,143.95L549.60,144.65L550.32,145.34L551.04,146.02L551.76,146.68L552.47,147.32L553.19,147.95L553.91,148.56L554.63,149.16L555.34,149.76L556.06,150.34L556.78,150.92L557.49,151.49L558.21,152.05L558.93,152.60L559.65,153.14L560.36,153.68L561.08,154.20L561.80,154.72L562.52,155.23L563.23,155.73L563.95,156.22L564.67,156.70L565.38,157.18L566.10,157.64L566.82,158.10L567.54,158.55L568.25,158.98L568.97,159.41L569.69,159.84L570.41,160.25L571.12,160.67L571.84,161.07L572.56,161.47L573.28,161.87L573.99,162.26L574.71,162.65L575.43,163.03L576.14,163.40L576.86,163.77L577.58,164.14L578.30,164.50L579.01,164.85L579.73,165.20L580.45,165.54L581.17,165.88L581.88,166.21L582.60,166.53L583.32,166.85L584.03,167.17L584.75,167.47L585.47,167.77L586.19,168.07L586.90,168.36L587.62,168.64L588.34,168.92L589.06,169.20L589.77,169.47L590.49,169.74L591.21,170.01L591.92,170.27L592.64,170.53L593.36,170.79L594.08,171.04L594.79,171.29L595.51,171.54L596.23,171.78L596.95,172.02L597.66,172.26L598.38,172.49L599.10,172.72L599.82,172.95L600.53,173.17L601.25,173.39L601.97,173.61L602.68,173.82L603.40,174.03L604.12,174.23L604.84,174.43L605.55,174.63L606.27,174.82L606.99,175.01L607.71,175.19L608.42,175.37L609.14,175.55L609.86,175.72L610.57,175.89L611.29,176.06L612.01,176.23L612.73,176.39L613.44,176.55L614.16,176.71L614.88,176.86L615.60,177.02L616.31,177.17L617.03,177.32L617.75,177.47L618.46,177.61L619.18,177.75L619.90,177.89L620.62,178.03L621.33,178.16L622.05,178.30L622.77,178.43L623.49,178.55L624.20,178.68L624.92,178.80L625.64,178.92L626.35,179.04L627.07,179.15L627.79,179.26L628.51,179.37L629.22,179.48L629.94,179.58L630.66,179.68L631.38,179.78L632.09,179.88L632.81,179.98L633.53,180.07L634.25,180.17L634.96,180.26L635.68,180.36L636.40,180.45L637.11,180.54L637.83,180.63L638.55,180.71L639.27,180.80L639.98,180.88L640.70,180.97L641.42,181.05L642.14,181.13L642.85,181.21L643.57,181.29L644.29,181.36L645.00,181.44L645.72,181.51L646.44,181.58L647.16,181.65L647.87,181.72L648.59,181.79L649.31,181.85L650.03,181.92L650.74,181.98L651.46,182.04L652.18,182.10L652.89,182.15L653.61,182.21L654.33,182.26L655.05,182.31L655.76,182.36L656.48,182.42L657.20,182.47L657.92,182.52L658.63,182.57L659.35,182.62L660.07,182.66L660.78,182.71L661.50,182.76L662.22,182.80L662.94,182.85L663.65,182.89L664.37,182.94L665.09,182.98L665.81,183.02L666.52,183.06L667.24,183.10L667.96,183.14L668.68,183.18L669.39,183.22L670.11,183.25L670.83,183.29L671.54,183.32L672.26,183.35L672.98,183.38L673.70,183.41L674.41,183.44L675.13,183.47L675.85,183.49L676.57,183.51L677.28,183.54L678.00,183.56" fill="none" stroke="#000000" stroke-width="2.00" stroke-dasharray="9.20 12.05" stroke-dashoffset="1.13" stroke-linejoin="round"/>
</svg>
<text transform="translate(391.80,207.15) scale(0.9,1)" text-anchor="middle" font-size="10" font-weight="bold" stroke="#000" stroke-width="0.2">0</text>
<text transform="translate(439.50,207.15) scale(0.9,1)" text-anchor="middle" font-size="10" font-weight="bold" stroke="#000" stroke-width="0.2">1</text>
<text transform="translate(487.20,207.15) scale(0.9,1)" text-anchor="middle" font-size="10" font-weight="bold" stroke="#000" stroke-width="0.2">2</text>
<text transform="translate(534.90,207.15) scale(0.9,1)" text-anchor="middle" font-size="10" font-weight="bold" stroke="#000" stroke-width="0.2">3</text>
<text transform="translate(582.60,207.15) scale(0.9,1)" text-anchor="middle" font-size="10" font-weight="bold" stroke="#000" stroke-width="0.2">4</text>
<text transform="translate(630.30,207.15) scale(0.9,1)" text-anchor="middle" font-size="10" font-weight="bold" stroke="#000" stroke-width="0.2">5</text>
<text transform="translate(678.00,207.15) scale(0.9,1)" text-anchor="middle" font-size="10" font-weight="bold" stroke="#000" stroke-width="0.2">6</text>
<text transform="translate(383.00,189.85) scale(0.9,1)" text-anchor="end" font-size="10" font-weight="bold" stroke="#000" stroke-width="0.2">0.0</text>
<text transform="translate(383.00,146.25) scale(0.9,1)" text-anchor="end" font-size="10" font-weight="bold" stroke="#000" stroke-width="0.2">0.1</text>
<text transform="translate(383.00,102.65) scale(0.9,1)" text-anchor="end" font-size="10" font-weight="bold" stroke="#000" stroke-width="0.2">0.2</text>
<text transform="translate(383.00,59.05) scale(0.9,1)" text-anchor="end" font-size="10" font-weight="bold" stroke="#000" stroke-width="0.2">0.3</text>
<text transform="translate(383.00,15.45) scale(0.9,1)" text-anchor="end" font-size="10" font-weight="bold" stroke="#000" stroke-width="0.2">0.4</text>
<text x="532.25" y="221.75" font-size="11.51" font-weight="bold" textLength="5.1" lengthAdjust="spacingAndGlyphs">x</text>
<g transform="translate(363.10,0) rotate(-90)">
<text x="-117.40" y="0" font-size="9.8" font-weight="bold" textLength="14.0" lengthAdjust="spacingAndGlyphs">var</text>
<text x="-100.40" y="0" font-size="8.2" stroke="#000" stroke-width="0.25" textLength="11.10" lengthAdjust="spacingAndGlyphs">(u)</text>
</g>
<text x="657.70" y="29.99" font-size="19.12" textLength="21.10" lengthAdjust="spacingAndGlyphs">(b)</text>
<path d="M564.90,70.50H601.90" fill="none" stroke="#ff0000" stroke-width="2.00"/>
<text x="606.20" y="74.85" font-size="10" font-weight="bold" textLength="20.8" lengthAdjust="spacingAndGlyphs">t=0.2</text>
<path d="M565.90,89.40H599.40" fill="none" stroke="#0000ff" stroke-width="2.10" stroke-dasharray="3.90 3.80"/>
<text x="606.20" y="93.75" font-size="10" font-weight="bold" textLength="20.8" lengthAdjust="spacingAndGlyphs">t=0.4</text>
<path d="M566.20,108.20H602.00" fill="none" stroke="#000000" stroke-width="2.00" stroke-dasharray="9.20 12.05" />
<text x="606.20" y="112.55" font-size="10" font-weight="bold" textLength="20.8" lengthAdjust="spacingAndGlyphs">t=0.6</text>
</g>
<g>
<rect x="31.3" y="255.2" width="308.20" height="190.10" fill="none" stroke="#9a9a9a" stroke-width="1.1"/>
<path d="M37.70,445.3v-3.60M37.70,255.2v3.60M47.56,445.3v-2.20M47.56,255.2v2.20M57.42,445.3v-2.20M57.42,255.2v2.20M67.28,445.3v-2.20M67.28,255.2v2.20M77.14,445.3v-2.20M77.14,255.2v2.20M87.00,445.3v-3.60M87.00,255.2v3.60M96.86,445.3v-2.20M96.86,255.2v2.20M106.72,445.3v-2.20M106.72,255.2v2.20M116.58,445.3v-2.20M116.58,255.2v2.20M126.44,445.3v-2.20M126.44,255.2v2.20M136.30,445.3v-3.60M136.30,255.2v3.60M146.16,445.3v-2.20M146.16,255.2v2.20M156.02,445.3v-2.20M156.02,255.2v2.20M165.88,445.3v-2.20M165.88,255.2v2.20M175.74,445.3v-2.20M175.74,255.2v2.20M185.60,445.3v-3.60M185.60,255.2v3.60M195.46,445.3v-2.20M195.46,255.2v2.20M205.32,445.3v-2.20M205.32,255.2v2.20M215.18,445.3v-2.20M215.18,255.2v2.20M225.04,445.3v-2.20M225.04,255.2v2.20M234.90,445.3v-3.60M234.90,255.2v3.60M244.76,445.3v-2.20M244.76,255.2v2.20M254.62,445.3v-2.20M254.62,255.2v2.20M264.48,445.3v-2.20M264.48,255.2v2.20M274.34,445.3v-2.20M274.34,255.2v2.20M284.20,445.3v-3.60M284.20,255.2v3.60M294.06,445.3v-2.20M294.06,255.2v2.20M303.92,445.3v-2.20M303.92,255.2v2.20M313.78,445.3v-2.20M313.78,255.2v2.20M323.64,445.3v-2.20M323.64,255.2v2.20M333.50,445.3v-3.60M333.50,255.2v3.60M31.3,443.42h2.20M339.5,443.42h-2.20M31.3,435.30h3.60M339.5,435.30h-3.60M31.3,427.18h2.20M339.5,427.18h-2.20M31.3,419.06h2.20M339.5,419.06h-2.20M31.3,410.94h2.20M339.5,410.94h-2.20M31.3,402.82h2.20M339.5,402.82h-2.20M31.3,394.70h3.60M339.5,394.70h-3.60M31.3,386.58h2.20M339.5,386.58h-2.20M31.3,378.46h2.20M339.5,378.46h-2.20M31.3,370.34h2.20M339.5,370.34h-2.20M31.3,362.22h2.20M339.5,362.22h-2.20M31.3,354.10h3.60M339.5,354.10h-3.60M31.3,345.98h2.20M339.5,345.98h-2.20M31.3,337.86h2.20M339.5,337.86h-2.20M31.3,329.74h2.20M339.5,329.74h-2.20M31.3,321.62h2.20M339.5,321.62h-2.20M31.3,313.50h3.60M339.5,313.50h-3.60M31.3,305.38h2.20M339.5,305.38h-2.20M31.3,297.26h2.20M339.5,297.26h-2.20M31.3,289.14h2.20M339.5,289.14h-2.20M31.3,281.02h2.20M339.5,281.02h-2.20M31.3,272.90h3.60M339.5,272.90h-3.60M31.3,264.78h2.20M339.5,264.78h-2.20M31.3,256.66h2.20M339.5,256.66h-2.20" stroke="#9a9a9a" stroke-width="0.90" fill="none"/>
<svg x="31.3" y="255.2" width="308.20" height="190.10" viewBox="31.3 255.2 308.20 190.10" overflow="hidden">
<path d="M37.70,420.40L38.44,420.40L39.18,420.40L39.92,420.41L40.67,420.42L41.41,420.43L42.15,420.44L42.89,420.46L43.63,420.48L44.37,420.50L45.11,420.52L45.85,420.55L46.60,420.57L47.34,420.60L48.08,420.64L48.82,420.67L49.56,420.71L50.30,420.75L51.04,420.79L51.79,420.83L52.53,420.88L53.27,420.93L54.01,420.98L54.75,421.03L55.49,421.08L56.23,421.14L56.98,421.20L57.72,421.26L58.46,421.32L59.20,421.39L59.94,421.45L60.68,421.52L61.42,421.59L62.16,421.66L62.91,421.74L63.65,421.81L64.39,421.89L65.13,421.97L65.87,422.05L66.61,422.14L67.35,422.22L68.10,422.31L68.84,422.39L69.58,422.48L70.32,422.57L71.06,422.66L71.80,422.76L72.54,422.85L73.28,422.95L74.03,423.05L74.77,423.14L75.51,423.24L76.25,423.34L76.99,423.45L77.73,423.55L78.47,423.65L79.22,423.76L79.96,423.86L80.70,423.97L81.44,424.08L82.18,424.18L82.92,424.29L83.66,424.40L84.41,424.51L85.15,424.62L85.89,424.74L86.63,424.85L87.37,424.96L88.11,425.07L88.85,425.19L89.59,425.30L90.34,425.42L91.08,425.53L91.82,425.64L92.56,425.76L93.30,425.87L94.04,425.99L94.78,426.10L95.53,426.22L96.27,426.34L97.01,426.45L97.75,426.57L98.49,426.68L99.23,426.80L99.97,426.91L100.72,427.03L101.46,427.14L102.20,427.25L102.94,427.37L103.68,427.48L104.42,427.59L105.16,427.71L105.90,427.82L106.65,427.93L107.39,428.04L108.13,428.15L108.87,428.26L109.61,428.37L110.35,428.48L111.09,428.59L111.84,428.70L112.58,428.81L113.32,428.91L114.06,429.02L114.80,429.12L115.54,429.23L116.28,429.33L117.02,429.43L117.77,429.53L118.51,429.64L119.25,429.74L119.99,429.83L120.73,429.93L121.47,430.03L122.21,430.13L122.96,430.22L123.70,430.32L124.44,430.41L125.18,430.50L125.92,430.60L126.66,430.69L127.40,430.78L128.15,430.86L128.89,430.95L129.63,431.04L130.37,431.12L131.11,431.21L131.85,431.29L132.59,431.37L133.33,431.46L134.08,431.54L134.82,431.61L135.56,431.69L136.30,431.77L137.04,431.85L137.78,431.92L138.52,431.99L139.27,432.07L140.01,432.14L140.75,432.21L141.49,432.28L142.23,432.35L142.97,432.41L143.71,432.48L144.45,432.55L145.20,432.61L145.94,432.67L146.68,432.73L147.42,432.80L148.16,432.85L148.90,432.91L149.64,432.97L150.39,433.03L151.13,433.08L151.87,433.14L152.61,433.19L153.35,433.25L154.09,433.30L154.83,433.35L155.58,433.40L156.32,433.45L157.06,433.49L157.80,433.54L158.54,433.59L159.28,433.63L160.02,433.68L160.76,433.72L161.51,433.76L162.25,433.80L162.99,433.84L163.73,433.88L164.47,433.92L165.21,433.96L165.95,434.00L166.70,434.03L167.44,434.07L168.18,434.10L168.92,434.14L169.66,434.17L170.40,434.20L171.14,434.23L171.88,434.26L172.63,434.30L173.37,434.32L174.11,434.35L174.85,434.38L175.59,434.41L176.33,434.44L177.07,434.46L177.82,434.49L178.56,434.51L179.30,434.54L180.04,434.56L180.78,434.58L181.52,434.60L182.26,434.63L183.01,434.65L183.75,434.67L184.49,434.69L185.23,434.71L185.97,434.73L186.71,434.74L187.45,434.76L188.19,434.78L188.94,434.80L189.68,434.81L190.42,434.83L191.16,434.84L191.90,434.86L192.64,434.87L193.38,434.89L194.13,434.90L194.87,434.92L195.61,434.93L196.35,434.94L197.09,434.95L197.83,434.97L198.57,434.98L199.32,434.99L200.06,435.00L200.80,435.01L201.54,435.02L202.28,435.03L203.02,435.04L203.76,435.05L204.50,435.06L205.25,435.07L205.99,435.08L206.73,435.08L207.47,435.09L208.21,435.10L208.95,435.11L209.69,435.11L210.44,435.12L211.18,435.13L211.92,435.13L212.66,435.14L213.40,435.15L214.14,435.15L214.88,435.16L215.62,435.16L216.37,435.17L217.11,435.17L217.85,435.18L218.59,435.18L219.33,435.19L220.07,435.19L220.81,435.20L221.56,435.20L222.30,435.20L223.04,435.21L223.78,435.21L224.52,435.22L225.26,435.22L226.00,435.22L226.75,435.23L227.49,435.23L228.23,435.23L228.97,435.23L229.71,435.24L230.45,435.24L231.19,435.24L231.93,435.24L232.68,435.25L233.42,435.25L234.16,435.25L234.90,435.25L235.64,435.26L236.38,435.26L237.12,435.26L237.87,435.26L238.61,435.26L239.35,435.26L240.09,435.27L240.83,435.27L241.57,435.27L242.31,435.27L243.05,435.27L243.80,435.27L244.54,435.27L245.28,435.27L246.02,435.28L246.76,435.28L247.50,435.28L248.24,435.28L248.99,435.28L249.73,435.28L250.47,435.28L251.21,435.28L251.95,435.28L252.69,435.28L253.43,435.28L254.18,435.29L254.92,435.29L255.66,435.29L256.40,435.29L257.14,435.29L257.88,435.29L258.62,435.29L259.36,435.29L260.11,435.29L260.85,435.29L261.59,435.29L262.33,435.29L263.07,435.29L263.81,435.29L264.55,435.29L265.30,435.29L266.04,435.29L266.78,435.29L267.52,435.29L268.26,435.29L269.00,435.29L269.74,435.29L270.48,435.30L271.23,435.30L271.97,435.30L272.71,435.30L273.45,435.30L274.19,435.30L274.93,435.30L275.67,435.30L276.42,435.30L277.16,435.30L277.90,435.30L278.64,435.30L279.38,435.30L280.12,435.30L280.86,435.30L281.61,435.30L282.35,435.30L283.09,435.30L283.83,435.30L284.57,435.30L285.31,435.30L286.05,435.30L286.79,435.30L287.54,435.30L288.28,435.30L289.02,435.30L289.76,435.30L290.50,435.30L291.24,435.30L291.98,435.30L292.73,435.30L293.47,435.30L294.21,435.30L294.95,435.30L295.69,435.30L296.43,435.30L297.17,435.30L297.92,435.30L298.66,435.30L299.40,435.30L300.14,435.30L300.88,435.30L301.62,435.30L302.36,435.30L303.10,435.30L303.85,435.30L304.59,435.30L305.33,435.30L306.07,435.30L306.81,435.30L307.55,435.30L308.29,435.30L309.04,435.30L309.78,435.30L310.52,435.30L311.26,435.30L312.00,435.30L312.74,435.30L313.48,435.30L314.22,435.30L314.97,435.30L315.71,435.30L316.45,435.30L317.19,435.30L317.93,435.30L318.67,435.30L319.41,435.30L320.16,435.30L320.90,435.30L321.64,435.30L322.38,435.30L323.12,435.30L323.86,435.30L324.60,435.30L325.35,435.30L326.09,435.30L326.83,435.30L327.57,435.30L328.31,435.30L329.05,435.30L329.79,435.30L330.53,435.30L331.28,435.30L332.02,435.30L332.76,435.30L333.50,435.30" fill="none" stroke="#ff0000" stroke-width="2.00" stroke-linejoin="round"/>
<path d="M37.70,352.48L38.44,352.48L39.18,352.51L39.92,352.55L40.67,352.60L41.41,352.66L42.15,352.74L42.89,352.83L43.63,352.94L44.37,353.05L45.11,353.17L45.85,353.30L46.60,353.45L47.34,353.60L48.08,353.75L48.82,353.92L49.56,354.09L50.30,354.26L51.04,354.44L51.79,354.63L52.53,354.82L53.27,355.01L54.01,355.20L54.75,355.40L55.49,355.62L56.23,355.88L56.98,356.17L57.72,356.49L58.46,356.83L59.20,357.20L59.94,357.60L60.68,358.01L61.42,358.44L62.16,358.89L62.91,359.36L63.65,359.84L64.39,360.32L65.13,360.82L65.87,361.33L66.61,361.83L67.35,362.35L68.10,362.86L68.84,363.37L69.58,363.88L70.32,364.38L71.06,364.88L71.80,365.39L72.54,365.91L73.28,366.44L74.03,366.99L74.77,367.54L75.51,368.11L76.25,368.68L76.99,369.27L77.73,369.86L78.47,370.46L79.22,371.07L79.96,371.68L80.70,372.30L81.44,372.92L82.18,373.54L82.92,374.17L83.66,374.80L84.41,375.43L85.15,376.07L85.89,376.70L86.63,377.33L87.37,377.96L88.11,378.61L88.85,379.26L89.59,379.92L90.34,380.59L91.08,381.26L91.82,381.94L92.56,382.63L93.30,383.32L94.04,384.01L94.78,384.70L95.53,385.39L96.27,386.08L97.01,386.77L97.75,387.45L98.49,388.13L99.23,388.80L99.97,389.47L100.72,390.13L101.46,390.78L102.20,391.43L102.94,392.07L103.68,392.72L104.42,393.36L105.16,394.00L105.90,394.64L106.65,395.28L107.39,395.91L108.13,396.54L108.87,397.17L109.61,397.79L110.35,398.40L111.09,399.02L111.84,399.62L112.58,400.22L113.32,400.81L114.06,401.40L114.80,401.98L115.54,402.55L116.28,403.13L117.02,403.70L117.77,404.28L118.51,404.85L119.25,405.43L119.99,406.00L120.73,406.57L121.47,407.13L122.21,407.69L122.96,408.24L123.70,408.79L124.44,409.32L125.18,409.85L125.92,410.37L126.66,410.88L127.40,411.37L128.15,411.85L128.89,412.32L129.63,412.78L130.37,413.22L131.11,413.64L131.85,414.05L132.59,414.45L133.33,414.84L134.08,415.23L134.82,415.62L135.56,416.00L136.30,416.37L137.04,416.74L137.78,417.10L138.52,417.46L139.27,417.81L140.01,418.16L140.75,418.50L141.49,418.83L142.23,419.16L142.97,419.48L143.71,419.80L144.45,420.11L145.20,420.42L145.94,420.72L146.68,421.01L147.42,421.30L148.16,421.58L148.90,421.85L149.64,422.12L150.39,422.38L151.13,422.64L151.87,422.89L152.61,423.13L153.35,423.37L154.09,423.61L154.83,423.84L155.58,424.07L156.32,424.30L157.06,424.52L157.80,424.74L158.54,424.95L159.28,425.16L160.02,425.37L160.76,425.57L161.51,425.77L162.25,425.96L162.99,426.15L163.73,426.34L164.47,426.52L165.21,426.70L165.95,426.87L166.70,427.04L167.44,427.21L168.18,427.37L168.92,427.52L169.66,427.67L170.40,427.82L171.14,427.96L171.88,428.10L172.63,428.23L173.37,428.36L174.11,428.49L174.85,428.62L175.59,428.74L176.33,428.86L177.07,428.97L177.82,429.09L178.56,429.20L179.30,429.31L180.04,429.42L180.78,429.52L181.52,429.63L182.26,429.73L183.01,429.83L183.75,429.93L184.49,430.03L185.23,430.12L185.97,430.22L186.71,430.31L187.45,430.40L188.19,430.49L188.94,430.58L189.68,430.67L190.42,430.76L191.16,430.85L191.90,430.94L192.64,431.03L193.38,431.12L194.13,431.21L194.87,431.30L195.61,431.39L196.35,431.48L197.09,431.57L197.83,431.65L198.57,431.74L199.32,431.83L200.06,431.92L200.80,432.00L201.54,432.08L202.28,432.17L203.02,432.25L203.76,432.33L204.50,432.41L205.25,432.48L205.99,432.56L206.73,432.63L207.47,432.70L208.21,432.77L208.95,432.83L209.69,432.90L210.44,432.96L211.18,433.01L211.92,433.07L212.66,433.12L213.40,433.17L214.14,433.21L214.88,433.25L215.62,433.29L216.37,433.33L217.11,433.37L217.85,433.40L218.59,433.44L219.33,433.47L220.07,433.51L220.81,433.54L221.56,433.58L222.30,433.61L223.04,433.64L223.78,433.68L224.52,433.71L225.26,433.74L226.00,433.77L226.75,433.80L227.49,433.83L228.23,433.86L228.97,433.89L229.71,433.92L230.45,433.95L231.19,433.98L231.93,434.00L232.68,434.03L233.42,434.06L234.16,434.08L234.90,434.11L235.64,434.13L236.38,434.16L237.12,434.18L237.87,434.20L238.61,434.23L239.35,434.25L240.09,434.27L240.83,434.29L241.57,434.31L242.31,434.34L243.05,434.36L243.80,434.38L244.54,434.39L245.28,434.41L246.02,434.43L246.76,434.45L247.50,434.47L248.24,434.48L248.99,434.50L249.73,434.52L250.47,434.53L251.21,434.55L251.95,434.56L252.69,434.58L253.43,434.59L254.18,434.61L254.92,434.62L255.66,434.63L256.40,434.64L257.14,434.66L257.88,434.67L258.62,434.68L259.36,434.69L260.11,434.70L260.85,434.71L261.59,434.72L262.33,434.73L263.07,434.74L263.81,434.75L264.55,434.76L265.30,434.77L266.04,434.78L266.78,434.79L267.52,434.80L268.26,434.81L269.00,434.82L269.74,434.83L270.48,434.84L271.23,434.85L271.97,434.86L272.71,434.86L273.45,434.87L274.19,434.88L274.93,434.89L275.67,434.90L276.42,434.91L277.16,434.92L277.90,434.93L278.64,434.94L279.38,434.95L280.12,434.95L280.86,434.96L281.61,434.97L282.35,434.98L283.09,434.99L283.83,435.00L284.57,435.00L285.31,435.01L286.05,435.02L286.79,435.03L287.54,435.04L288.28,435.04L289.02,435.05L289.76,435.06L290.50,435.07L291.24,435.07L291.98,435.08L292.73,435.09L293.47,435.09L294.21,435.10L294.95,435.11L295.69,435.12L296.43,435.12L297.17,435.13L297.92,435.14L298.66,435.14L299.40,435.15L300.14,435.15L300.88,435.16L301.62,435.17L302.36,435.17L303.10,435.18L303.85,435.18L304.59,435.19L305.33,435.19L306.07,435.20L306.81,435.20L307.55,435.21L308.29,435.21L309.04,435.22L309.78,435.22L310.52,435.23L311.26,435.23L312.00,435.24L312.74,435.24L313.48,435.24L314.22,435.25L314.97,435.25L315.71,435.26L316.45,435.26L317.19,435.26L317.93,435.27L318.67,435.27L319.41,435.27L320.16,435.27L320.90,435.28L321.64,435.28L322.38,435.28L323.12,435.28L323.86,435.29L324.60,435.29L325.35,435.29L326.09,435.29L326.83,435.29L327.57,435.29L328.31,435.30L329.05,435.30L329.79,435.30L330.53,435.30L331.28,435.30L332.02,435.30L332.76,435.30L333.50,435.30" fill="none" stroke="#0000ff" stroke-width="2.10" stroke-dasharray="3.90 3.80" stroke-linejoin="round"/>
<path d="M37.70,264.37L38.44,264.44L39.18,264.54L39.92,264.67L40.67,264.83L41.41,265.01L42.15,265.22L42.89,265.44L43.63,265.69L44.37,265.96L45.11,266.23L45.85,266.52L46.60,266.82L47.34,267.12L48.08,267.44L48.82,267.81L49.56,268.21L50.30,268.66L51.04,269.14L51.79,269.67L52.53,270.22L53.27,270.81L54.01,271.42L54.75,272.06L55.49,272.73L56.23,273.42L56.98,274.12L57.72,274.85L58.46,275.59L59.20,276.34L59.94,277.10L60.68,277.87L61.42,278.65L62.16,279.46L62.91,280.33L63.65,281.25L64.39,282.22L65.13,283.23L65.87,284.28L66.61,285.35L67.35,286.46L68.10,287.58L68.84,288.72L69.58,289.86L70.32,291.01L71.06,292.16L71.80,293.30L72.54,294.43L73.28,295.54L74.03,296.63L74.77,297.70L75.51,298.76L76.25,299.83L76.99,300.89L77.73,301.96L78.47,303.02L79.22,304.09L79.96,305.16L80.70,306.23L81.44,307.30L82.18,308.38L82.92,309.46L83.66,310.55L84.41,311.65L85.15,312.75L85.89,313.85L86.63,314.97L87.37,316.09L88.11,317.22L88.85,318.36L89.59,319.51L90.34,320.66L91.08,321.82L91.82,322.98L92.56,324.15L93.30,325.32L94.04,326.50L94.78,327.69L95.53,328.87L96.27,330.06L97.01,331.26L97.75,332.45L98.49,333.65L99.23,334.86L99.97,336.06L100.72,337.27L101.46,338.49L102.20,339.71L102.94,340.94L103.68,342.16L104.42,343.40L105.16,344.63L105.90,345.88L106.65,347.12L107.39,348.37L108.13,349.62L108.87,350.87L109.61,352.13L110.35,353.40L111.09,354.69L111.84,356.01L112.58,357.35L113.32,358.71L114.06,360.08L114.80,361.45L115.54,362.82L116.28,364.17L117.02,365.50L117.77,366.80L118.51,368.06L119.25,369.28L119.99,370.45L120.73,371.56L121.47,372.60L122.21,373.62L122.96,374.61L123.70,375.57L124.44,376.51L125.18,377.43L125.92,378.33L126.66,379.21L127.40,380.08L128.15,380.93L128.89,381.76L129.63,382.59L130.37,383.40L131.11,384.21L131.85,385.01L132.59,385.81L133.33,386.61L134.08,387.40L134.82,388.20L135.56,389.00L136.30,389.79L137.04,390.59L137.78,391.38L138.52,392.17L139.27,392.95L140.01,393.73L140.75,394.50L141.49,395.26L142.23,396.02L142.97,396.76L143.71,397.50L144.45,398.22L145.20,398.94L145.94,399.64L146.68,400.33L147.42,401.00L148.16,401.66L148.90,402.30L149.64,402.93L150.39,403.54L151.13,404.14L151.87,404.73L152.61,405.32L153.35,405.90L154.09,406.47L154.83,407.04L155.58,407.60L156.32,408.15L157.06,408.69L157.80,409.23L158.54,409.76L159.28,410.28L160.02,410.79L160.76,411.30L161.51,411.79L162.25,412.28L162.99,412.76L163.73,413.23L164.47,413.69L165.21,414.14L165.95,414.59L166.70,415.02L167.44,415.44L168.18,415.86L168.92,416.26L169.66,416.66L170.40,417.06L171.14,417.45L171.88,417.83L172.63,418.22L173.37,418.60L174.11,418.97L174.85,419.34L175.59,419.71L176.33,420.07L177.07,420.42L177.82,420.77L178.56,421.12L179.30,421.46L180.04,421.79L180.78,422.11L181.52,422.43L182.26,422.74L183.01,423.05L183.75,423.35L184.49,423.64L185.23,423.92L185.97,424.20L186.71,424.46L187.45,424.72L188.19,424.97L188.94,425.21L189.68,425.45L190.42,425.67L191.16,425.89L191.90,426.11L192.64,426.33L193.38,426.54L194.13,426.75L194.87,426.96L195.61,427.17L196.35,427.37L197.09,427.57L197.83,427.77L198.57,427.97L199.32,428.16L200.06,428.34L200.80,428.53L201.54,428.71L202.28,428.88L203.02,429.06L203.76,429.23L204.50,429.39L205.25,429.55L205.99,429.71L206.73,429.86L207.47,430.01L208.21,430.15L208.95,430.29L209.69,430.42L210.44,430.55L211.18,430.67L211.92,430.79L212.66,430.90L213.40,431.01L214.14,431.11L214.88,431.20L215.62,431.29L216.37,431.38L217.11,431.47L217.85,431.56L218.59,431.64L219.33,431.72L220.07,431.80L220.81,431.88L221.56,431.96L222.30,432.04L223.04,432.11L223.78,432.19L224.52,432.26L225.26,432.33L226.00,432.40L226.75,432.46L227.49,432.53L228.23,432.59L228.97,432.66L229.71,432.72L230.45,432.78L231.19,432.84L231.93,432.90L232.68,432.95L233.42,433.01L234.16,433.06L234.90,433.11L235.64,433.16L236.38,433.21L237.12,433.26L237.87,433.31L238.61,433.35L239.35,433.39L240.09,433.44L240.83,433.48L241.57,433.52L242.31,433.56L243.05,433.59L243.80,433.63L244.54,433.67L245.28,433.70L246.02,433.73L246.76,433.77L247.50,433.80L248.24,433.83L248.99,433.86L249.73,433.90L250.47,433.93L251.21,433.96L251.95,433.99L252.69,434.02L253.43,434.05L254.18,434.08L254.92,434.11L255.66,434.14L256.40,434.16L257.14,434.19L257.88,434.22L258.62,434.25L259.36,434.27L260.11,434.30L260.85,434.33L261.59,434.35L262.33,434.38L263.07,434.40L263.81,434.42L264.55,434.45L265.30,434.47L266.04,434.49L266.78,434.52L267.52,434.54L268.26,434.56L269.00,434.58L269.74,434.60L270.48,434.62L271.23,434.64L271.97,434.66L272.71,434.68L273.45,434.69L274.19,434.71L274.93,434.73L275.67,434.74L276.42,434.76L277.16,434.78L277.90,434.79L278.64,434.80L279.38,434.82L280.12,434.83L280.86,434.84L281.61,434.86L282.35,434.87L283.09,434.88L283.83,434.89L284.57,434.90L285.31,434.91L286.05,434.92L286.79,434.93L287.54,434.94L288.28,434.95L289.02,434.96L289.76,434.97L290.50,434.98L291.24,434.99L291.98,434.99L292.73,435.00L293.47,435.01L294.21,435.02L294.95,435.03L295.69,435.04L296.43,435.05L297.17,435.06L297.92,435.07L298.66,435.07L299.40,435.08L300.14,435.09L300.88,435.10L301.62,435.11L302.36,435.11L303.10,435.12L303.85,435.13L304.59,435.14L305.33,435.15L306.07,435.15L306.81,435.16L307.55,435.17L308.29,435.17L309.04,435.18L309.78,435.19L310.52,435.19L311.26,435.20L312.00,435.21L312.74,435.21L313.48,435.22L314.22,435.22L314.97,435.23L315.71,435.23L316.45,435.24L317.19,435.24L317.93,435.25L318.67,435.25L319.41,435.26L320.16,435.26L320.90,435.27L321.64,435.27L322.38,435.27L323.12,435.28L323.86,435.28L324.60,435.28L325.35,435.29L326.09,435.29L326.83,435.29L327.57,435.29L328.31,435.29L329.05,435.30L329.79,435.30L330.53,435.30L331.28,435.30L332.02,435.30L332.76,435.30L333.50,435.30" fill="none" stroke="#000000" stroke-width="2.00" stroke-dasharray="9.20 12.55" stroke-dashoffset="0.22" stroke-linejoin="round"/>
</svg>
<text transform="translate(37.70,458.25) scale(0.9,1)" text-anchor="middle" font-size="10" font-weight="bold" stroke="#000" stroke-width="0.2">0</text>
<text transform="translate(87.00,458.25) scale(0.9,1)" text-anchor="middle" font-size="10" font-weight="bold" stroke="#000" stroke-width="0.2">1</text>
<text transform="translate(136.30,458.25) scale(0.9,1)" text-anchor="middle" font-size="10" font-weight="bold" stroke="#000" stroke-width="0.2">2</text>
<text transform="translate(185.60,458.25) scale(0.9,1)" text-anchor="middle" font-size="10" font-weight="bold" stroke="#000" stroke-width="0.2">3</text>
<text transform="translate(234.90,458.25) scale(0.9,1)" text-anchor="middle" font-size="10" font-weight="bold" stroke="#000" stroke-width="0.2">4</text>
<text transform="translate(284.20,458.25) scale(0.9,1)" text-anchor="middle" font-size="10" font-weight="bold" stroke="#000" stroke-width="0.2">5</text>
<text transform="translate(333.50,458.25) scale(0.9,1)" text-anchor="middle" font-size="10" font-weight="bold" stroke="#000" stroke-width="0.2">6</text>
<text transform="translate(28.10,439.85) scale(0.9,1)" text-anchor="end" font-size="10" font-weight="bold" stroke="#000" stroke-width="0.2">0.0</text>
<text transform="translate(28.10,399.25) scale(0.9,1)" text-anchor="end" font-size="10" font-weight="bold" stroke="#000" stroke-width="0.2">0.1</text>
<text transform="translate(28.10,358.65) scale(0.9,1)" text-anchor="end" font-size="10" font-weight="bold" stroke="#000" stroke-width="0.2">0.2</text>
<text transform="translate(28.10,318.05) scale(0.9,1)" text-anchor="end" font-size="10" font-weight="bold" stroke="#000" stroke-width="0.2">0.3</text>
<text transform="translate(28.10,277.45) scale(0.9,1)" text-anchor="end" font-size="10" font-weight="bold" stroke="#000" stroke-width="0.2">0.4</text>
<text x="182.95" y="472.95" font-size="11.51" font-weight="bold" textLength="5.1" lengthAdjust="spacingAndGlyphs">x</text>
<g transform="translate(7.20,0) rotate(-90)">
<text x="-365.90" y="0" font-size="9.2" font-weight="bold" textLength="14.6" lengthAdjust="spacingAndGlyphs">var</text>
<text x="-347.50" y="0" font-size="8.3" stroke="#000" stroke-width="0.25" textLength="11.70" lengthAdjust="spacingAndGlyphs">(ϕ)</text>
</g>
<text x="313.80" y="279.32" font-size="19.89" textLength="20.00" lengthAdjust="spacingAndGlyphs">(c)</text>
<path d="M207.00,310.00H245.00" fill="none" stroke="#ff0000" stroke-width="2.00"/>
<text x="250.00" y="314.35" font-size="10" font-weight="bold" textLength="20.8" lengthAdjust="spacingAndGlyphs">t=0.2</text>
<path d="M207.50,329.70H242.50" fill="none" stroke="#0000ff" stroke-width="2.10" stroke-dasharray="3.90 3.80"/>
<text x="250.00" y="334.05" font-size="10" font-weight="bold" textLength="20.8" lengthAdjust="spacingAndGlyphs">t=0.4</text>
<path d="M207.50,348.90H245.00" fill="none" stroke="#000000" stroke-width="2.00" stroke-dasharray="9.20 12.55" />
<text x="250.00" y="353.25" font-size="10" font-weight="bold" textLength="20.8" lengthAdjust="spacingAndGlyphs">t=0.6</text>
</g>
<g>
<rect x="385.9" y="258.8" width="297.50" height="183.60" fill="none" stroke="#9a9a9a" stroke-width="1.1"/>
<path d="M392.00,442.4v-3.60M392.00,258.8v3.60M401.52,442.4v-2.20M401.52,258.8v2.20M411.04,442.4v-2.20M411.04,258.8v2.20M420.56,442.4v-2.20M420.56,258.8v2.20M430.08,442.4v-2.20M430.08,258.8v2.20M439.60,442.4v-3.60M439.60,258.8v3.60M449.12,442.4v-2.20M449.12,258.8v2.20M458.64,442.4v-2.20M458.64,258.8v2.20M468.16,442.4v-2.20M468.16,258.8v2.20M477.68,442.4v-2.20M477.68,258.8v2.20M487.20,442.4v-3.60M487.20,258.8v3.60M496.72,442.4v-2.20M496.72,258.8v2.20M506.24,442.4v-2.20M506.24,258.8v2.20M515.76,442.4v-2.20M515.76,258.8v2.20M525.28,442.4v-2.20M525.28,258.8v2.20M534.80,442.4v-3.60M534.80,258.8v3.60M544.32,442.4v-2.20M544.32,258.8v2.20M553.84,442.4v-2.20M553.84,258.8v2.20M563.36,442.4v-2.20M563.36,258.8v2.20M572.88,442.4v-2.20M572.88,258.8v2.20M582.40,442.4v-3.60M582.40,258.8v3.60M591.92,442.4v-2.20M591.92,258.8v2.20M601.44,442.4v-2.20M601.44,258.8v2.20M610.96,442.4v-2.20M610.96,258.8v2.20M620.48,442.4v-2.20M620.48,258.8v2.20M630.00,442.4v-3.60M630.00,258.8v3.60M639.52,442.4v-2.20M639.52,258.8v2.20M649.04,442.4v-2.20M649.04,258.8v2.20M658.56,442.4v-2.20M658.56,258.8v2.20M668.08,442.4v-2.20M668.08,258.8v2.20M677.60,442.4v-3.60M677.60,258.8v3.60M385.9,441.04h2.20M683.4,441.04h-2.20M385.9,433.40h3.60M683.4,433.40h-3.60M385.9,425.76h2.20M683.4,425.76h-2.20M385.9,418.12h2.20M683.4,418.12h-2.20M385.9,410.48h2.20M683.4,410.48h-2.20M385.9,402.84h3.60M683.4,402.84h-3.60M385.9,395.20h2.20M683.4,395.20h-2.20M385.9,387.56h2.20M683.4,387.56h-2.20M385.9,379.92h2.20M683.4,379.92h-2.20M385.9,372.28h3.60M683.4,372.28h-3.60M385.9,364.64h2.20M683.4,364.64h-2.20M385.9,357.00h2.20M683.4,357.00h-2.20M385.9,349.36h2.20M683.4,349.36h-2.20M385.9,341.72h3.60M683.4,341.72h-3.60M385.9,334.08h2.20M683.4,334.08h-2.20M385.9,326.44h2.20M683.4,326.44h-2.20M385.9,318.80h2.20M683.4,318.80h-2.20M385.9,311.16h3.60M683.4,311.16h-3.60M385.9,303.52h2.20M683.4,303.52h-2.20M385.9,295.88h2.20M683.4,295.88h-2.20M385.9,288.24h2.20M683.4,288.24h-2.20M385.9,280.60h3.60M683.4,280.60h-3.60M385.9,272.96h2.20M683.4,272.96h-2.20M385.9,265.32h2.20M683.4,265.32h-2.20" stroke="#9a9a9a" stroke-width="0.90" fill="none"/>
<svg x="385.9" y="258.8" width="297.50" height="183.60" viewBox="385.9 258.8 297.50 183.60" overflow="hidden">
<path d="M392.00,417.97L392.72,418.60L393.43,419.22L394.15,419.81L394.86,420.38L395.58,420.93L396.29,421.46L397.01,421.96L397.73,422.45L398.44,422.93L399.16,423.39L399.87,423.82L400.59,424.22L401.31,424.59L402.02,424.92L402.74,425.24L403.45,425.55L404.17,425.84L404.88,426.12L405.60,426.38L406.32,426.63L407.03,426.85L407.75,427.06L408.46,427.24L409.18,427.41L409.89,427.56L410.61,427.71L411.33,427.85L412.04,427.98L412.76,428.10L413.47,428.21L414.19,428.31L414.91,428.41L415.62,428.49L416.34,428.57L417.05,428.65L417.77,428.73L418.48,428.81L419.20,428.88L419.92,428.95L420.63,429.01L421.35,429.06L422.06,429.09L422.78,429.11L423.49,429.12L424.21,429.12L424.93,429.11L425.64,429.10L426.36,429.09L427.07,429.08L427.79,429.06L428.51,429.04L429.22,429.02L429.94,429.00L430.65,428.97L431.37,428.95L432.08,428.92L432.80,428.89L433.52,428.87L434.23,428.84L434.95,428.81L435.66,428.78L436.38,428.75L437.09,428.71L437.81,428.67L438.53,428.62L439.24,428.57L439.96,428.52L440.67,428.47L441.39,428.41L442.11,428.36L442.82,428.30L443.54,428.24L444.25,428.18L444.97,428.12L445.68,428.05L446.40,427.99L447.12,427.93L447.83,427.87L448.55,427.82L449.26,427.76L449.98,427.70L450.69,427.65L451.41,427.60L452.13,427.55L452.84,427.50L453.56,427.45L454.27,427.39L454.99,427.34L455.71,427.29L456.42,427.23L457.14,427.18L457.85,427.12L458.57,427.07L459.28,427.02L460.00,426.97L460.72,426.92L461.43,426.87L462.15,426.82L462.86,426.77L463.58,426.73L464.29,426.69L465.01,426.65L465.73,426.62L466.44,426.59L467.16,426.56L467.87,426.53L468.59,426.51L469.31,426.49L470.02,426.47L470.74,426.45L471.45,426.43L472.17,426.41L472.88,426.39L473.60,426.37L474.32,426.35L475.03,426.34L475.75,426.32L476.46,426.30L477.18,426.29L477.89,426.28L478.61,426.26L479.33,426.25L480.04,426.24L480.76,426.23L481.47,426.23L482.19,426.22L482.91,426.22L483.62,426.22L484.34,426.22L485.05,426.22L485.77,426.22L486.48,426.23L487.20,426.23L487.92,426.24L488.63,426.25L489.35,426.26L490.06,426.27L490.78,426.28L491.49,426.29L492.21,426.30L492.93,426.32L493.64,426.33L494.36,426.35L495.07,426.36L495.79,426.38L496.51,426.40L497.22,426.42L497.94,426.43L498.65,426.45L499.37,426.47L500.08,426.49L500.80,426.51L501.52,426.52L502.23,426.55L502.95,426.57L503.66,426.59L504.38,426.62L505.09,426.65L505.81,426.68L506.53,426.71L507.24,426.75L507.96,426.79L508.67,426.82L509.39,426.86L510.11,426.91L510.82,426.95L511.54,426.99L512.25,427.04L512.97,427.08L513.68,427.13L514.40,427.18L515.12,427.23L515.83,427.28L516.55,427.33L517.26,427.38L517.98,427.43L518.69,427.48L519.41,427.53L520.13,427.58L520.84,427.63L521.56,427.68L522.27,427.73L522.99,427.78L523.71,427.83L524.42,427.87L525.14,427.92L525.85,427.97L526.57,428.02L527.28,428.07L528.00,428.12L528.72,428.17L529.43,428.22L530.15,428.28L530.86,428.33L531.58,428.38L532.29,428.44L533.01,428.49L533.73,428.55L534.44,428.61L535.16,428.66L535.87,428.72L536.59,428.77L537.31,428.83L538.02,428.89L538.74,428.94L539.45,429.00L540.17,429.06L540.88,429.11L541.60,429.17L542.32,429.23L543.03,429.28L543.75,429.34L544.46,429.39L545.18,429.45L545.89,429.50L546.61,429.55L547.33,429.61L548.04,429.66L548.76,429.71L549.47,429.76L550.19,429.81L550.91,429.86L551.62,429.91L552.34,429.97L553.05,430.02L553.77,430.07L554.48,430.12L555.20,430.17L555.92,430.22L556.63,430.28L557.35,430.33L558.06,430.38L558.78,430.43L559.49,430.48L560.21,430.53L560.93,430.58L561.64,430.63L562.36,430.68L563.07,430.72L563.79,430.77L564.51,430.82L565.22,430.87L565.94,430.91L566.65,430.96L567.37,431.00L568.08,431.04L568.80,431.09L569.52,431.13L570.23,431.17L570.95,431.21L571.66,431.25L572.38,431.28L573.09,431.32L573.81,431.36L574.53,431.40L575.24,431.43L575.96,431.47L576.67,431.50L577.39,431.54L578.11,431.57L578.82,431.61L579.54,431.64L580.25,431.67L580.97,431.71L581.68,431.74L582.40,431.77L583.12,431.80L583.83,431.83L584.55,431.86L585.26,431.90L585.98,431.93L586.69,431.96L587.41,431.98L588.13,432.01L588.84,432.04L589.56,432.07L590.27,432.10L590.99,432.13L591.71,432.15L592.42,432.18L593.14,432.21L593.85,432.23L594.57,432.26L595.28,432.28L596.00,432.31L596.72,432.33L597.43,432.36L598.15,432.38L598.86,432.40L599.58,432.43L600.29,432.45L601.01,432.48L601.73,432.50L602.44,432.52L603.16,432.54L603.87,432.57L604.59,432.59L605.31,432.61L606.02,432.63L606.74,432.66L607.45,432.68L608.17,432.70L608.88,432.72L609.60,432.74L610.32,432.76L611.03,432.78L611.75,432.80L612.46,432.81L613.18,432.83L613.89,432.85L614.61,432.86L615.33,432.88L616.04,432.89L616.76,432.91L617.47,432.92L618.19,432.93L618.91,432.95L619.62,432.96L620.34,432.97L621.05,432.98L621.77,432.99L622.48,433.00L623.20,433.02L623.92,433.03L624.63,433.04L625.35,433.05L626.06,433.06L626.78,433.07L627.49,433.08L628.21,433.09L628.93,433.10L629.64,433.10L630.36,433.11L631.07,433.12L631.79,433.13L632.51,433.14L633.22,433.15L633.94,433.16L634.65,433.16L635.37,433.17L636.08,433.18L636.80,433.19L637.52,433.19L638.23,433.20L638.95,433.21L639.66,433.21L640.38,433.22L641.09,433.22L641.81,433.23L642.53,433.23L643.24,433.24L643.96,433.25L644.67,433.25L645.39,433.25L646.11,433.26L646.82,433.26L647.54,433.27L648.25,433.27L648.97,433.28L649.68,433.28L650.40,433.29L651.12,433.29L651.83,433.30L652.55,433.30L653.26,433.31L653.98,433.31L654.69,433.31L655.41,433.32L656.13,433.32L656.84,433.33L657.56,433.33L658.27,433.34L658.99,433.34L659.71,433.34L660.42,433.35L661.14,433.35L661.85,433.35L662.57,433.36L663.28,433.36L664.00,433.36L664.72,433.37L665.43,433.37L666.15,433.37L666.86,433.38L667.58,433.38L668.29,433.38L669.01,433.38L669.73,433.39L670.44,433.39L671.16,433.39L671.87,433.39L672.59,433.39L673.31,433.39L674.02,433.40L674.74,433.40L675.45,433.40L676.17,433.40L676.88,433.40L677.60,433.40" fill="none" stroke="#ff0000" stroke-width="2.00" stroke-linejoin="round"/>
<path d="M392.00,352.42L392.72,356.53L393.43,360.51L394.15,364.32L394.86,367.92L395.58,371.27L396.29,374.34L397.01,377.10L397.73,379.51L398.44,381.64L399.16,383.61L399.87,385.43L400.59,387.13L401.31,388.72L402.02,390.23L402.74,391.66L403.45,393.04L404.17,394.39L404.88,395.72L405.60,397.08L406.32,398.47L407.03,399.85L407.75,401.20L408.46,402.47L409.18,403.62L409.89,404.64L410.61,405.47L411.33,406.08L412.04,406.51L412.76,406.92L413.47,407.31L414.19,407.69L414.91,408.05L415.62,408.39L416.34,408.72L417.05,409.02L417.77,409.31L418.48,409.57L419.20,409.82L419.92,410.04L420.63,410.24L421.35,410.41L422.06,410.57L422.78,410.69L423.49,410.79L424.21,410.87L424.93,410.92L425.64,410.94L426.36,410.92L427.07,410.86L427.79,410.76L428.51,410.62L429.22,410.44L429.94,410.23L430.65,409.99L431.37,409.73L432.08,409.45L432.80,409.15L433.52,408.83L434.23,408.51L434.95,408.19L435.66,407.86L436.38,407.53L437.09,407.22L437.81,406.91L438.53,406.61L439.24,406.33L439.96,406.07L440.67,405.80L441.39,405.53L442.11,405.24L442.82,404.95L443.54,404.65L444.25,404.34L444.97,404.03L445.68,403.72L446.40,403.41L447.12,403.10L447.83,402.78L448.55,402.48L449.26,402.17L449.98,401.87L450.69,401.58L451.41,401.29L452.13,401.01L452.84,400.74L453.56,400.48L454.27,400.24L454.99,400.01L455.71,399.79L456.42,399.59L457.14,399.40L457.85,399.24L458.57,399.09L459.28,398.94L460.00,398.80L460.72,398.65L461.43,398.50L462.15,398.36L462.86,398.22L463.58,398.08L464.29,397.94L465.01,397.80L465.73,397.66L466.44,397.53L467.16,397.40L467.87,397.27L468.59,397.15L469.31,397.03L470.02,396.91L470.74,396.80L471.45,396.69L472.17,396.58L472.88,396.48L473.60,396.39L474.32,396.29L475.03,396.21L475.75,396.13L476.46,396.05L477.18,395.98L477.89,395.92L478.61,395.86L479.33,395.81L480.04,395.77L480.76,395.73L481.47,395.70L482.19,395.68L482.91,395.67L483.62,395.66L484.34,395.66L485.05,395.68L485.77,395.72L486.48,395.77L487.20,395.83L487.92,395.91L488.63,396.00L489.35,396.10L490.06,396.21L490.78,396.33L491.49,396.47L492.21,396.61L492.93,396.75L493.64,396.91L494.36,397.07L495.07,397.24L495.79,397.41L496.51,397.58L497.22,397.76L497.94,397.94L498.65,398.12L499.37,398.30L500.08,398.48L500.80,398.66L501.52,398.84L502.23,399.01L502.95,399.18L503.66,399.35L504.38,399.53L505.09,399.72L505.81,399.91L506.53,400.11L507.24,400.32L507.96,400.53L508.67,400.74L509.39,400.96L510.11,401.19L510.82,401.42L511.54,401.65L512.25,401.89L512.97,402.13L513.68,402.38L514.40,402.63L515.12,402.88L515.83,403.14L516.55,403.40L517.26,403.66L517.98,403.92L518.69,404.18L519.41,404.45L520.13,404.72L520.84,404.98L521.56,405.25L522.27,405.52L522.99,405.79L523.71,406.07L524.42,406.34L525.14,406.61L525.85,406.88L526.57,407.16L527.28,407.45L528.00,407.74L528.72,408.04L529.43,408.35L530.15,408.66L530.86,408.97L531.58,409.29L532.29,409.62L533.01,409.94L533.73,410.27L534.44,410.60L535.16,410.94L535.87,411.27L536.59,411.60L537.31,411.93L538.02,412.27L538.74,412.60L539.45,412.93L540.17,413.25L540.88,413.58L541.60,413.90L542.32,414.22L543.03,414.53L543.75,414.84L544.46,415.14L545.18,415.43L545.89,415.72L546.61,416.00L547.33,416.28L548.04,416.54L548.76,416.80L549.47,417.05L550.19,417.30L550.91,417.55L551.62,417.80L552.34,418.04L553.05,418.29L553.77,418.53L554.48,418.76L555.20,419.00L555.92,419.23L556.63,419.46L557.35,419.69L558.06,419.92L558.78,420.14L559.49,420.37L560.21,420.58L560.93,420.80L561.64,421.01L562.36,421.23L563.07,421.43L563.79,421.64L564.51,421.84L565.22,422.04L565.94,422.24L566.65,422.43L567.37,422.63L568.08,422.81L568.80,423.00L569.52,423.18L570.23,423.36L570.95,423.54L571.66,423.71L572.38,423.88L573.09,424.05L573.81,424.22L574.53,424.38L575.24,424.54L575.96,424.70L576.67,424.86L577.39,425.02L578.11,425.18L578.82,425.33L579.54,425.48L580.25,425.63L580.97,425.78L581.68,425.93L582.40,426.07L583.12,426.22L583.83,426.36L584.55,426.50L585.26,426.63L585.98,426.77L586.69,426.90L587.41,427.04L588.13,427.17L588.84,427.29L589.56,427.42L590.27,427.54L590.99,427.67L591.71,427.79L592.42,427.91L593.14,428.02L593.85,428.14L594.57,428.25L595.28,428.36L596.00,428.47L596.72,428.58L597.43,428.70L598.15,428.81L598.86,428.92L599.58,429.03L600.29,429.14L601.01,429.25L601.73,429.37L602.44,429.48L603.16,429.59L603.87,429.69L604.59,429.80L605.31,429.91L606.02,430.02L606.74,430.12L607.45,430.22L608.17,430.33L608.88,430.43L609.60,430.52L610.32,430.62L611.03,430.71L611.75,430.81L612.46,430.90L613.18,430.98L613.89,431.07L614.61,431.15L615.33,431.23L616.04,431.30L616.76,431.38L617.47,431.44L618.19,431.51L618.91,431.57L619.62,431.63L620.34,431.69L621.05,431.74L621.77,431.78L622.48,431.83L623.20,431.87L623.92,431.90L624.63,431.93L625.35,431.97L626.06,432.00L626.78,432.03L627.49,432.07L628.21,432.10L628.93,432.13L629.64,432.16L630.36,432.19L631.07,432.22L631.79,432.25L632.51,432.27L633.22,432.30L633.94,432.33L634.65,432.35L635.37,432.38L636.08,432.40L636.80,432.43L637.52,432.45L638.23,432.48L638.95,432.50L639.66,432.52L640.38,432.54L641.09,432.57L641.81,432.59L642.53,432.61L643.24,432.63L643.96,432.65L644.67,432.67L645.39,432.69L646.11,432.71L646.82,432.72L647.54,432.74L648.25,432.76L648.97,432.78L649.68,432.79L650.40,432.81L651.12,432.83L651.83,432.84L652.55,432.86L653.26,432.87L653.98,432.89L654.69,432.90L655.41,432.92L656.13,432.93L656.84,432.95L657.56,432.96L658.27,432.97L658.99,432.99L659.71,433.00L660.42,433.01L661.14,433.03L661.85,433.04L662.57,433.05L663.28,433.06L664.00,433.07L664.72,433.09L665.43,433.10L666.15,433.11L666.86,433.12L667.58,433.13L668.29,433.14L669.01,433.15L669.73,433.16L670.44,433.17L671.16,433.18L671.87,433.19L672.59,433.20L673.31,433.20L674.02,433.21L674.74,433.22L675.45,433.23L676.17,433.23L676.88,433.24L677.60,433.25" fill="none" stroke="#0000ff" stroke-width="2.10" stroke-dasharray="3.90 3.80" stroke-linejoin="round"/>
<path d="M392.00,267.15L392.72,271.98L393.43,277.23L394.15,282.85L394.86,288.79L395.58,295.08L396.29,302.43L397.01,309.98L397.73,316.47L398.44,321.74L399.16,326.50L399.87,330.84L400.59,334.86L401.31,338.65L402.02,342.27L402.74,345.72L403.45,349.00L404.17,352.09L404.88,354.97L405.60,357.65L406.32,360.16L407.03,362.61L407.75,364.99L408.46,367.25L409.18,369.35L409.89,371.27L410.61,372.96L411.33,374.39L412.04,375.58L412.76,376.66L413.47,377.63L414.19,378.50L414.91,379.28L415.62,379.97L416.34,380.58L417.05,381.16L417.77,381.74L418.48,382.31L419.20,382.86L419.92,383.39L420.63,383.89L421.35,384.36L422.06,384.77L422.78,385.13L423.49,385.43L424.21,385.66L424.93,385.81L425.64,385.88L426.36,385.86L427.07,385.79L427.79,385.66L428.51,385.49L429.22,385.29L429.94,385.06L430.65,384.81L431.37,384.54L432.08,384.28L432.80,384.01L433.52,383.71L434.23,383.36L434.95,382.98L435.66,382.55L436.38,382.09L437.09,381.59L437.81,381.08L438.53,380.54L439.24,379.99L439.96,379.42L440.67,378.85L441.39,378.27L442.11,377.70L442.82,377.13L443.54,376.57L444.25,376.03L444.97,375.49L445.68,374.92L446.40,374.34L447.12,373.73L447.83,373.11L448.55,372.48L449.26,371.84L449.98,371.19L450.69,370.54L451.41,369.89L452.13,369.25L452.84,368.61L453.56,367.98L454.27,367.36L454.99,366.76L455.71,366.18L456.42,365.61L457.14,365.08L457.85,364.57L458.57,364.09L459.28,363.65L460.00,363.24L460.72,362.87L461.43,362.52L462.15,362.16L462.86,361.80L463.58,361.44L464.29,361.08L465.01,360.73L465.73,360.38L466.44,360.03L467.16,359.69L467.87,359.36L468.59,359.03L469.31,358.71L470.02,358.40L470.74,358.10L471.45,357.81L472.17,357.53L472.88,357.27L473.60,357.02L474.32,356.78L475.03,356.56L475.75,356.36L476.46,356.18L477.18,356.01L477.89,355.87L478.61,355.75L479.33,355.64L480.04,355.56L480.76,355.51L481.47,355.48L482.19,355.47L482.91,355.49L483.62,355.53L484.34,355.60L485.05,355.68L485.77,355.78L486.48,355.90L487.20,356.04L487.92,356.19L488.63,356.36L489.35,356.54L490.06,356.74L490.78,356.94L491.49,357.16L492.21,357.38L492.93,357.61L493.64,357.85L494.36,358.10L495.07,358.35L495.79,358.60L496.51,358.85L497.22,359.11L497.94,359.37L498.65,359.63L499.37,359.93L500.08,360.26L500.80,360.63L501.52,361.02L502.23,361.43L502.95,361.88L503.66,362.34L504.38,362.82L505.09,363.33L505.81,363.84L506.53,364.38L507.24,364.92L507.96,365.48L508.67,366.04L509.39,366.61L510.11,367.18L510.82,367.75L511.54,368.33L512.25,368.90L512.97,369.47L513.68,370.03L514.40,370.58L515.12,371.12L515.83,371.65L516.55,372.16L517.26,372.67L517.98,373.17L518.69,373.66L519.41,374.16L520.13,374.66L520.84,375.15L521.56,375.65L522.27,376.14L522.99,376.64L523.71,377.13L524.42,377.63L525.14,378.13L525.85,378.63L526.57,379.13L527.28,379.64L528.00,380.14L528.72,380.66L529.43,381.17L530.15,381.69L530.86,382.21L531.58,382.74L532.29,383.27L533.01,383.81L533.73,384.35L534.44,384.90L535.16,385.46L535.87,386.03L536.59,386.62L537.31,387.22L538.02,387.82L538.74,388.44L539.45,389.06L540.17,389.68L540.88,390.32L541.60,390.95L542.32,391.59L543.03,392.22L543.75,392.86L544.46,393.50L545.18,394.13L545.89,394.75L546.61,395.38L547.33,395.99L548.04,396.60L548.76,397.20L549.47,397.78L550.19,398.36L550.91,398.92L551.62,399.47L552.34,400.00L553.05,400.51L553.77,401.02L554.48,401.52L555.20,402.02L555.92,402.51L556.63,403.00L557.35,403.48L558.06,403.96L558.78,404.44L559.49,404.90L560.21,405.37L560.93,405.83L561.64,406.28L562.36,406.73L563.07,407.17L563.79,407.60L564.51,408.04L565.22,408.46L565.94,408.88L566.65,409.30L567.37,409.70L568.08,410.11L568.80,410.50L569.52,410.89L570.23,411.28L570.95,411.65L571.66,412.03L572.38,412.39L573.09,412.75L573.81,413.11L574.53,413.47L575.24,413.82L575.96,414.17L576.67,414.51L577.39,414.86L578.11,415.19L578.82,415.53L579.54,415.85L580.25,416.18L580.97,416.50L581.68,416.81L582.40,417.12L583.12,417.43L583.83,417.73L584.55,418.03L585.26,418.32L585.98,418.60L586.69,418.88L587.41,419.15L588.13,419.42L588.84,419.68L589.56,419.94L590.27,420.18L590.99,420.43L591.71,420.67L592.42,420.90L593.14,421.13L593.85,421.36L594.57,421.58L595.28,421.80L596.00,422.02L596.72,422.23L597.43,422.44L598.15,422.65L598.86,422.86L599.58,423.06L600.29,423.25L601.01,423.45L601.73,423.64L602.44,423.83L603.16,424.02L603.87,424.21L604.59,424.39L605.31,424.58L606.02,424.76L606.74,424.93L607.45,425.11L608.17,425.28L608.88,425.46L609.60,425.63L610.32,425.80L611.03,425.97L611.75,426.14L612.46,426.31L613.18,426.48L613.89,426.65L614.61,426.82L615.33,427.00L616.04,427.17L616.76,427.34L617.47,427.51L618.19,427.68L618.91,427.85L619.62,428.02L620.34,428.19L621.05,428.35L621.77,428.51L622.48,428.67L623.20,428.82L623.92,428.97L624.63,429.11L625.35,429.26L626.06,429.39L626.78,429.52L627.49,429.65L628.21,429.77L628.93,429.89L629.64,429.99L630.36,430.10L631.07,430.19L631.79,430.28L632.51,430.36L633.22,430.43L633.94,430.51L634.65,430.58L635.37,430.64L636.08,430.71L636.80,430.77L637.52,430.83L638.23,430.89L638.95,430.95L639.66,431.00L640.38,431.06L641.09,431.11L641.81,431.16L642.53,431.21L643.24,431.26L643.96,431.31L644.67,431.35L645.39,431.40L646.11,431.44L646.82,431.49L647.54,431.53L648.25,431.57L648.97,431.61L649.68,431.66L650.40,431.70L651.12,431.74L651.83,431.78L652.55,431.83L653.26,431.87L653.98,431.91L654.69,431.95L655.41,432.00L656.13,432.04L656.84,432.08L657.56,432.12L658.27,432.16L658.99,432.20L659.71,432.24L660.42,432.28L661.14,432.32L661.85,432.36L662.57,432.40L663.28,432.44L664.00,432.47L664.72,432.51L665.43,432.55L666.15,432.58L666.86,432.62L667.58,432.65L668.29,432.69L669.01,432.72L669.73,432.76L670.44,432.79L671.16,432.82L671.87,432.86L672.59,432.89L673.31,432.92L674.02,432.95L674.74,432.98L675.45,433.01L676.17,433.04L676.88,433.07L677.60,433.09" fill="none" stroke="#000000" stroke-width="2.00" stroke-dasharray="9.20 11.85" stroke-dashoffset="-0.96" stroke-linejoin="round"/>
</svg>
<text transform="translate(392.00,455.45) scale(0.9,1)" text-anchor="middle" font-size="10" font-weight="bold" stroke="#000" stroke-width="0.2">0</text>
<text transform="translate(439.60,455.45) scale(0.9,1)" text-anchor="middle" font-size="10" font-weight="bold" stroke="#000" stroke-width="0.2">1</text>
<text transform="translate(487.20,455.45) scale(0.9,1)" text-anchor="middle" font-size="10" font-weight="bold" stroke="#000" stroke-width="0.2">2</text>
<text transform="translate(534.80,455.45) scale(0.9,1)" text-anchor="middle" font-size="10" font-weight="bold" stroke="#000" stroke-width="0.2">3</text>
<text transform="translate(582.40,455.45) scale(0.9,1)" text-anchor="middle" font-size="10" font-weight="bold" stroke="#000" stroke-width="0.2">4</text>
<text transform="translate(630.00,455.45) scale(0.9,1)" text-anchor="middle" font-size="10" font-weight="bold" stroke="#000" stroke-width="0.2">5</text>
<text transform="translate(677.60,455.45) scale(0.9,1)" text-anchor="middle" font-size="10" font-weight="bold" stroke="#000" stroke-width="0.2">6</text>
<text transform="translate(382.60,437.95) scale(0.9,1)" text-anchor="end" font-size="10" font-weight="bold" stroke="#000" stroke-width="0.2">0.0</text>
<text transform="translate(382.60,407.39) scale(0.9,1)" text-anchor="end" font-size="10" font-weight="bold" stroke="#000" stroke-width="0.2">0.2</text>
<text transform="translate(382.60,376.83) scale(0.9,1)" text-anchor="end" font-size="10" font-weight="bold" stroke="#000" stroke-width="0.2">0.4</text>
<text transform="translate(382.60,346.27) scale(0.9,1)" text-anchor="end" font-size="10" font-weight="bold" stroke="#000" stroke-width="0.2">0.6</text>
<text transform="translate(382.60,315.71) scale(0.9,1)" text-anchor="end" font-size="10" font-weight="bold" stroke="#000" stroke-width="0.2">0.8</text>
<text transform="translate(382.60,285.15) scale(0.9,1)" text-anchor="end" font-size="10" font-weight="bold" stroke="#000" stroke-width="0.2">1.0</text>
<text x="532.05" y="470.05" font-size="11.51" font-weight="bold" textLength="5.1" lengthAdjust="spacingAndGlyphs">x</text>
<g transform="translate(363.20,0) rotate(-90)">
<text x="-366.10" y="0" font-size="9.8" font-weight="bold" textLength="14.3" lengthAdjust="spacingAndGlyphs">var</text>
<text x="-348.80" y="0" font-size="8.2" stroke="#000" stroke-width="0.25" textLength="11.90" lengthAdjust="spacingAndGlyphs">(u)</text>
</g>
<text x="657.90" y="286.91" font-size="19.01" textLength="20.50" lengthAdjust="spacingAndGlyphs">(d)</text>
<path d="M539.60,313.40H576.40" fill="none" stroke="#ff0000" stroke-width="2.00"/>
<text x="581.20" y="317.75" font-size="10" font-weight="bold" textLength="20.2" lengthAdjust="spacingAndGlyphs">t=0.2</text>
<path d="M540.50,332.20H574.50" fill="none" stroke="#0000ff" stroke-width="2.10" stroke-dasharray="3.90 3.80"/>
<text x="581.20" y="336.55" font-size="10" font-weight="bold" textLength="20.2" lengthAdjust="spacingAndGlyphs">t=0.4</text>
<path d="M541.20,350.80H576.00" fill="none" stroke="#000000" stroke-width="2.00" stroke-dasharray="9.20 11.85" />
<text x="581.20" y="355.15" font-size="10" font-weight="bold" textLength="20.2" lengthAdjust="spacingAndGlyphs">t=0.6</text>
</g>
<g>
<rect x="31.3" y="503.6" width="308.30" height="190.20" fill="none" stroke="#9a9a9a" stroke-width="1.1"/>
<path d="M37.60,693.8v-3.60M37.60,503.6v3.60M54.03,693.8v-2.20M54.03,503.6v2.20M70.45,693.8v-2.20M70.45,503.6v2.20M86.88,693.8v-2.20M86.88,503.6v2.20M103.30,693.8v-3.60M103.30,503.6v3.60M119.72,693.8v-2.20M119.72,503.6v2.20M136.15,693.8v-2.20M136.15,503.6v2.20M152.58,693.8v-2.20M152.58,503.6v2.20M169.00,693.8v-3.60M169.00,503.6v3.60M185.43,693.8v-2.20M185.43,503.6v2.20M201.85,693.8v-2.20M201.85,503.6v2.20M218.28,693.8v-2.20M218.28,503.6v2.20M234.70,693.8v-3.60M234.70,503.6v3.60M251.12,693.8v-2.20M251.12,503.6v2.20M267.55,693.8v-2.20M267.55,503.6v2.20M283.98,693.8v-2.20M283.98,503.6v2.20M300.40,693.8v-3.60M300.40,503.6v3.60M316.83,693.8v-2.20M316.83,503.6v2.20M333.25,693.8v-2.20M333.25,503.6v2.20M31.3,693.05h2.20M339.6,693.05h-2.20M31.3,684.50h3.60M339.6,684.50h-3.60M31.3,675.95h2.20M339.6,675.95h-2.20M31.3,667.40h2.20M339.6,667.40h-2.20M31.3,658.85h2.20M339.6,658.85h-2.20M31.3,650.30h3.60M339.6,650.30h-3.60M31.3,641.75h2.20M339.6,641.75h-2.20M31.3,633.20h2.20M339.6,633.20h-2.20M31.3,624.65h2.20M339.6,624.65h-2.20M31.3,616.10h3.60M339.6,616.10h-3.60M31.3,607.55h2.20M339.6,607.55h-2.20M31.3,599.00h2.20M339.6,599.00h-2.20M31.3,590.45h2.20M339.6,590.45h-2.20M31.3,581.90h3.60M339.6,581.90h-3.60M31.3,573.35h2.20M339.6,573.35h-2.20M31.3,564.80h2.20M339.6,564.80h-2.20M31.3,556.25h2.20M339.6,556.25h-2.20M31.3,547.70h3.60M339.6,547.70h-3.60M31.3,539.15h2.20M339.6,539.15h-2.20M31.3,530.60h2.20M339.6,530.60h-2.20M31.3,522.05h2.20M339.6,522.05h-2.20M31.3,513.50h3.60M339.6,513.50h-3.60M31.3,504.95h2.20M339.6,504.95h-2.20" stroke="#9a9a9a" stroke-width="0.90" fill="none"/>
<svg x="31.3" y="503.6" width="308.30" height="190.20" viewBox="31.3 503.6 308.30 190.20" overflow="hidden">
<path d="M37.60,684.50L38.34,684.49L39.08,684.48L39.82,684.45L40.56,684.41L41.30,684.36L42.05,684.30L42.79,684.24L43.53,684.16L44.27,684.09L45.01,684.00L45.75,683.91L46.49,683.82L47.23,683.72L47.97,683.63L48.71,683.53L49.46,683.42L50.20,683.30L50.94,683.15L51.68,682.99L52.42,682.80L53.16,682.60L53.90,682.39L54.64,682.16L55.38,681.92L56.12,681.67L56.87,681.41L57.61,681.14L58.35,680.87L59.09,680.60L59.83,680.32L60.57,680.05L61.31,679.77L62.05,679.50L62.79,679.23L63.53,678.97L64.28,678.68L65.02,678.39L65.76,678.08L66.50,677.76L67.24,677.43L67.98,677.10L68.72,676.77L69.46,676.43L70.20,676.10L70.94,675.76L71.68,675.43L72.43,675.11L73.17,674.80L73.91,674.50L74.65,674.21L75.39,673.93L76.13,673.67L76.87,673.43L77.61,673.20L78.35,672.98L79.09,672.76L79.84,672.54L80.58,672.32L81.32,672.11L82.06,671.90L82.80,671.70L83.54,671.50L84.28,671.31L85.02,671.13L85.76,670.95L86.50,670.78L87.25,670.63L87.99,670.48L88.73,670.34L89.47,670.21L90.21,670.09L90.95,669.99L91.69,669.90L92.43,669.80L93.17,669.71L93.91,669.61L94.66,669.52L95.40,669.43L96.14,669.35L96.88,669.27L97.62,669.19L98.36,669.12L99.10,669.05L99.84,668.99L100.58,668.93L101.32,668.88L102.07,668.84L102.81,668.81L103.55,668.79L104.29,668.77L105.03,668.77L105.77,668.77L106.51,668.79L107.25,668.82L107.99,668.85L108.73,668.89L109.47,668.94L110.22,669.00L110.96,669.06L111.70,669.13L112.44,669.20L113.18,669.28L113.92,669.36L114.66,669.44L115.40,669.53L116.14,669.62L116.88,669.70L117.63,669.79L118.37,669.88L119.11,669.97L119.85,670.06L120.59,670.17L121.33,670.28L122.07,670.40L122.81,670.53L123.55,670.66L124.29,670.80L125.04,670.95L125.78,671.10L126.52,671.26L127.26,671.41L128.00,671.57L128.74,671.74L129.48,671.90L130.22,672.06L130.96,672.22L131.70,672.39L132.45,672.54L133.19,672.70L133.93,672.86L134.67,673.02L135.41,673.18L136.15,673.35L136.89,673.52L137.63,673.69L138.37,673.86L139.11,674.04L139.85,674.21L140.60,674.39L141.34,674.56L142.08,674.73L142.82,674.90L143.56,675.07L144.30,675.23L145.04,675.39L145.78,675.54L146.52,675.69L147.26,675.83L148.01,675.97L148.75,676.11L149.49,676.25L150.23,676.38L150.97,676.52L151.71,676.65L152.45,676.78L153.19,676.91L153.93,677.04L154.67,677.16L155.42,677.29L156.16,677.41L156.90,677.53L157.64,677.65L158.38,677.77L159.12,677.89L159.86,678.00L160.60,678.11L161.34,678.23L162.08,678.34L162.83,678.45L163.57,678.55L164.31,678.66L165.05,678.76L165.79,678.87L166.53,678.97L167.27,679.07L168.01,679.17L168.75,679.27L169.49,679.37L170.23,679.46L170.98,679.56L171.72,679.65L172.46,679.75L173.20,679.84L173.94,679.93L174.68,680.02L175.42,680.11L176.16,680.20L176.90,680.28L177.64,680.37L178.39,680.45L179.13,680.53L179.87,680.61L180.61,680.69L181.35,680.77L182.09,680.85L182.83,680.92L183.57,681.00L184.31,681.07L185.05,681.14L185.80,681.21L186.54,681.28L187.28,681.35L188.02,681.42L188.76,681.49L189.50,681.56L190.24,681.63L190.98,681.70L191.72,681.76L192.46,681.83L193.21,681.90L193.95,681.96L194.69,682.03L195.43,682.09L196.17,682.15L196.91,682.21L197.65,682.27L198.39,682.33L199.13,682.39L199.87,682.45L200.62,682.50L201.36,682.55L202.10,682.61L202.84,682.66L203.58,682.70L204.32,682.75L205.06,682.80L205.80,682.84L206.54,682.88L207.28,682.92L208.02,682.96L208.77,682.99L209.51,683.03L210.25,683.06L210.99,683.10L211.73,683.13L212.47,683.17L213.21,683.20L213.95,683.23L214.69,683.26L215.43,683.30L216.18,683.33L216.92,683.36L217.66,683.39L218.40,683.42L219.14,683.45L219.88,683.48L220.62,683.50L221.36,683.53L222.10,683.56L222.84,683.58L223.59,683.61L224.33,683.64L225.07,683.66L225.81,683.68L226.55,683.71L227.29,683.73L228.03,683.75L228.77,683.77L229.51,683.80L230.25,683.82L231.00,683.83L231.74,683.85L232.48,683.87L233.22,683.89L233.96,683.91L234.70,683.92L235.44,683.94L236.18,683.95L236.92,683.97L237.66,683.98L238.40,683.99L239.15,684.01L239.89,684.02L240.63,684.03L241.37,684.04L242.11,684.06L242.85,684.07L243.59,684.08L244.33,684.09L245.07,684.10L245.81,684.11L246.56,684.12L247.30,684.13L248.04,684.14L248.78,684.15L249.52,684.16L250.26,684.17L251.00,684.18L251.74,684.19L252.48,684.20L253.22,684.21L253.97,684.22L254.71,684.23L255.45,684.24L256.19,684.24L256.93,684.25L257.67,684.26L258.41,684.26L259.15,684.27L259.89,684.28L260.63,684.28L261.38,684.29L262.12,684.30L262.86,684.30L263.60,684.31L264.34,684.31L265.08,684.32L265.82,684.32L266.56,684.32L267.30,684.33L268.04,684.33L268.78,684.33L269.53,684.34L270.27,684.34L271.01,684.34L271.75,684.35L272.49,684.35L273.23,684.35L273.97,684.36L274.71,684.36L275.45,684.36L276.19,684.37L276.94,684.37L277.68,684.37L278.42,684.38L279.16,684.38L279.90,684.38L280.64,684.39L281.38,684.39L282.12,684.39L282.86,684.39L283.60,684.40L284.35,684.40L285.09,684.40L285.83,684.41L286.57,684.41L287.31,684.41L288.05,684.41L288.79,684.42L289.53,684.42L290.27,684.42L291.01,684.42L291.76,684.43L292.50,684.43L293.24,684.43L293.98,684.43L294.72,684.44L295.46,684.44L296.20,684.44L296.94,684.44L297.68,684.44L298.42,684.45L299.17,684.45L299.91,684.45L300.65,684.45L301.39,684.46L302.13,684.46L302.87,684.46L303.61,684.46L304.35,684.46L305.09,684.46L305.83,684.47L306.57,684.47L307.32,684.47L308.06,684.47L308.80,684.47L309.54,684.47L310.28,684.48L311.02,684.48L311.76,684.48L312.50,684.48L313.24,684.48L313.98,684.48L314.73,684.48L315.47,684.49L316.21,684.49L316.95,684.49L317.69,684.49L318.43,684.49L319.17,684.49L319.91,684.49L320.65,684.49L321.39,684.49L322.14,684.49L322.88,684.49L323.62,684.50L324.36,684.50L325.10,684.50L325.84,684.50L326.58,684.50L327.32,684.50L328.06,684.50L328.80,684.50L329.55,684.50L330.29,684.50L331.03,684.50L331.77,684.50L332.51,684.50L333.25,684.50" fill="none" stroke="#ff0000" stroke-width="2.00" stroke-linejoin="round"/>
<path d="M37.60,684.50L38.34,684.49L39.08,684.48L39.82,684.45L40.56,684.41L41.30,684.36L42.05,684.30L42.79,684.23L43.53,684.15L44.27,684.05L45.01,683.95L45.75,683.84L46.49,683.71L47.23,683.58L47.97,683.43L48.71,683.12L49.46,682.64L50.20,682.00L50.94,681.24L51.68,680.40L52.42,679.51L53.16,678.60L53.90,677.64L54.64,676.50L55.38,675.22L56.12,673.83L56.87,672.37L57.61,670.89L58.35,669.42L59.09,668.00L59.83,666.60L60.57,665.20L61.31,663.78L62.05,662.34L62.79,660.88L63.53,659.39L64.28,657.86L65.02,656.28L65.76,654.64L66.50,652.94L67.24,651.22L67.98,649.49L68.72,647.77L69.46,646.08L70.20,644.43L70.94,642.78L71.68,641.12L72.43,639.48L73.17,637.86L73.91,636.29L74.65,634.78L75.39,633.35L76.13,631.98L76.87,630.66L77.61,629.38L78.35,628.14L79.09,626.92L79.84,625.73L80.58,624.56L81.32,623.41L82.06,622.25L82.80,621.10L83.54,619.95L84.28,618.80L85.02,617.68L85.76,616.59L86.50,615.54L87.25,614.54L87.99,613.61L88.73,612.73L89.47,611.86L90.21,611.01L90.95,610.18L91.69,609.39L92.43,608.63L93.17,607.91L93.91,607.24L94.66,606.63L95.40,606.08L96.14,605.58L96.88,605.10L97.62,604.63L98.36,604.17L99.10,603.73L99.84,603.32L100.58,602.93L101.32,602.58L102.07,602.27L102.81,602.00L103.55,601.78L104.29,601.62L105.03,601.51L105.77,601.41L106.51,601.32L107.25,601.26L107.99,601.23L108.73,601.25L109.47,601.37L110.22,601.57L110.96,601.86L111.70,602.20L112.44,602.61L113.18,603.05L113.92,603.53L114.66,604.02L115.40,604.52L116.14,605.02L116.88,605.50L117.63,605.96L118.37,606.43L119.11,606.92L119.85,607.42L120.59,607.95L121.33,608.50L122.07,609.06L122.81,609.63L123.55,610.22L124.29,610.83L125.04,611.44L125.78,612.06L126.52,612.69L127.26,613.33L128.00,613.98L128.74,614.62L129.48,615.28L130.22,615.95L130.96,616.64L131.70,617.35L132.45,618.07L133.19,618.81L133.93,619.56L134.67,620.32L135.41,621.09L136.15,621.87L136.89,622.65L137.63,623.44L138.37,624.23L139.11,625.01L139.85,625.80L140.60,626.57L141.34,627.35L142.08,628.11L142.82,628.86L143.56,629.61L144.30,630.35L145.04,631.10L145.78,631.84L146.52,632.59L147.26,633.33L148.01,634.08L148.75,634.82L149.49,635.56L150.23,636.30L150.97,637.04L151.71,637.77L152.45,638.51L153.19,639.24L153.93,639.97L154.67,640.69L155.42,641.42L156.16,642.14L156.90,642.85L157.64,643.57L158.38,644.28L159.12,645.00L159.86,645.73L160.60,646.45L161.34,647.18L162.08,647.90L162.83,648.62L163.57,649.34L164.31,650.05L165.05,650.76L165.79,651.46L166.53,652.14L167.27,652.82L168.01,653.49L168.75,654.15L169.49,654.79L170.23,655.41L170.98,656.02L171.72,656.62L172.46,657.21L173.20,657.79L173.94,658.36L174.68,658.93L175.42,659.48L176.16,660.03L176.90,660.56L177.64,661.09L178.39,661.60L179.13,662.10L179.87,662.59L180.61,663.06L181.35,663.51L182.09,663.95L182.83,664.38L183.57,664.80L184.31,665.21L185.05,665.62L185.80,666.02L186.54,666.41L187.28,666.80L188.02,667.17L188.76,667.55L189.50,667.91L190.24,668.27L190.98,668.62L191.72,668.97L192.46,669.31L193.21,669.64L193.95,669.97L194.69,670.29L195.43,670.60L196.17,670.90L196.91,671.20L197.65,671.49L198.39,671.78L199.13,672.06L199.87,672.34L200.62,672.62L201.36,672.89L202.10,673.16L202.84,673.43L203.58,673.69L204.32,673.96L205.06,674.21L205.80,674.47L206.54,674.72L207.28,674.97L208.02,675.21L208.77,675.45L209.51,675.69L210.25,675.92L210.99,676.14L211.73,676.36L212.47,676.58L213.21,676.79L213.95,676.99L214.69,677.19L215.43,677.38L216.18,677.57L216.92,677.75L217.66,677.92L218.40,678.09L219.14,678.25L219.88,678.40L220.62,678.55L221.36,678.70L222.10,678.85L222.84,678.99L223.59,679.13L224.33,679.27L225.07,679.41L225.81,679.55L226.55,679.68L227.29,679.81L228.03,679.94L228.77,680.06L229.51,680.19L230.25,680.31L231.00,680.43L231.74,680.54L232.48,680.66L233.22,680.77L233.96,680.88L234.70,680.99L235.44,681.09L236.18,681.19L236.92,681.29L237.66,681.39L238.40,681.49L239.15,681.58L239.89,681.67L240.63,681.76L241.37,681.84L242.11,681.93L242.85,682.01L243.59,682.08L244.33,682.16L245.07,682.23L245.81,682.30L246.56,682.37L247.30,682.44L248.04,682.51L248.78,682.58L249.52,682.65L250.26,682.71L251.00,682.78L251.74,682.84L252.48,682.91L253.22,682.97L253.97,683.03L254.71,683.09L255.45,683.15L256.19,683.21L256.93,683.26L257.67,683.32L258.41,683.37L259.15,683.42L259.89,683.46L260.63,683.51L261.38,683.55L262.12,683.59L262.86,683.63L263.60,683.67L264.34,683.70L265.08,683.73L265.82,683.76L266.56,683.79L267.30,683.81L268.04,683.83L268.78,683.85L269.53,683.87L270.27,683.89L271.01,683.90L271.75,683.92L272.49,683.94L273.23,683.95L273.97,683.97L274.71,683.99L275.45,684.00L276.19,684.02L276.94,684.03L277.68,684.04L278.42,684.06L279.16,684.07L279.90,684.08L280.64,684.10L281.38,684.11L282.12,684.12L282.86,684.13L283.60,684.14L284.35,684.16L285.09,684.17L285.83,684.18L286.57,684.19L287.31,684.20L288.05,684.21L288.79,684.21L289.53,684.22L290.27,684.23L291.01,684.24L291.76,684.25L292.50,684.26L293.24,684.26L293.98,684.27L294.72,684.28L295.46,684.29L296.20,684.29L296.94,684.30L297.68,684.31L298.42,684.31L299.17,684.32L299.91,684.33L300.65,684.33L301.39,684.34L302.13,684.34L302.87,684.35L303.61,684.35L304.35,684.36L305.09,684.37L305.83,684.37L306.57,684.38L307.32,684.38L308.06,684.39L308.80,684.39L309.54,684.40L310.28,684.40L311.02,684.41L311.76,684.41L312.50,684.42L313.24,684.42L313.98,684.43L314.73,684.43L315.47,684.44L316.21,684.44L316.95,684.45L317.69,684.45L318.43,684.46L319.17,684.46L319.91,684.46L320.65,684.47L321.39,684.47L322.14,684.47L322.88,684.48L323.62,684.48L324.36,684.48L325.10,684.49L325.84,684.49L326.58,684.49L327.32,684.49L328.06,684.49L328.80,684.50L329.55,684.50L330.29,684.50L331.03,684.50L331.77,684.50L332.51,684.50L333.25,684.50" fill="none" stroke="#0000ff" stroke-width="2.10" stroke-dasharray="3.90 3.80" stroke-linejoin="round"/>
<path d="M37.60,684.50L38.34,684.49L39.08,684.47L39.82,684.43L40.56,684.37L41.30,684.30L42.05,684.21L42.79,684.11L43.53,683.99L44.27,683.86L45.01,683.71L45.75,683.55L46.49,683.38L47.23,683.13L47.97,682.55L48.71,681.67L49.46,680.54L50.20,679.23L50.94,677.79L51.68,676.28L52.42,674.75L53.16,673.27L53.90,671.83L54.64,670.27L55.38,668.62L56.12,666.88L56.87,665.06L57.61,663.19L58.35,661.27L59.09,659.24L59.83,657.10L60.57,654.90L61.31,652.66L62.05,650.42L62.79,648.21L63.53,645.96L64.28,643.60L65.02,641.06L65.76,638.26L66.50,635.00L67.24,631.42L67.98,627.74L68.72,624.19L69.46,620.86L70.20,617.61L70.94,614.37L71.68,611.10L72.43,607.73L73.17,604.29L73.91,600.80L74.65,597.30L75.39,593.81L76.13,590.30L76.87,586.76L77.61,583.25L78.35,579.85L79.09,576.60L79.84,573.44L80.58,570.35L81.32,567.32L82.06,564.36L82.80,561.46L83.54,558.59L84.28,555.73L85.02,552.88L85.76,550.06L86.50,547.30L87.25,544.63L87.99,542.08L88.73,539.67L89.47,537.42L90.21,535.26L90.95,533.20L91.69,531.25L92.43,529.43L93.17,527.75L93.91,526.21L94.66,524.67L95.40,523.17L96.14,521.75L96.88,520.46L97.62,519.32L98.36,518.40L99.10,517.72L99.84,517.16L100.58,516.63L101.32,516.12L102.07,515.64L102.81,515.20L103.55,514.80L104.29,514.44L105.03,514.14L105.77,513.88L106.51,513.69L107.25,513.56L107.99,513.50L108.73,513.54L109.47,513.71L110.22,514.00L110.96,514.41L111.70,514.90L112.44,515.46L113.18,516.07L113.92,516.71L114.66,517.37L115.40,518.03L116.14,518.79L116.88,519.68L117.63,520.67L118.37,521.77L119.11,522.95L119.85,524.22L120.59,525.54L121.33,526.92L122.07,528.35L122.81,529.80L123.55,531.27L124.29,532.75L125.04,534.23L125.78,535.69L126.52,537.13L127.26,538.53L128.00,539.96L128.74,541.41L129.48,542.89L130.22,544.40L130.96,545.93L131.70,547.48L132.45,549.04L133.19,550.62L133.93,552.21L134.67,553.81L135.41,555.41L136.15,557.02L136.89,558.63L137.63,560.24L138.37,561.86L139.11,563.50L139.85,565.16L140.60,566.82L141.34,568.50L142.08,570.18L142.82,571.87L143.56,573.56L144.30,575.24L145.04,576.93L145.78,578.62L146.52,580.33L147.26,582.07L148.01,583.82L148.75,585.57L149.49,587.32L150.23,589.05L150.97,590.76L151.71,592.44L152.45,594.08L153.19,595.67L153.93,597.20L154.67,598.71L155.42,600.19L156.16,601.65L156.90,603.09L157.64,604.51L158.38,605.91L159.12,607.29L159.86,608.65L160.60,609.99L161.34,611.32L162.08,612.63L162.83,613.94L163.57,615.23L164.31,616.50L165.05,617.77L165.79,619.04L166.53,620.29L167.27,621.54L168.01,622.77L168.75,623.99L169.49,625.20L170.23,626.39L170.98,627.57L171.72,628.73L172.46,629.87L173.20,630.99L173.94,632.10L174.68,633.18L175.42,634.24L176.16,635.28L176.90,636.30L177.64,637.30L178.39,638.29L179.13,639.26L179.87,640.21L180.61,641.15L181.35,642.06L182.09,642.96L182.83,643.83L183.57,644.69L184.31,645.52L185.05,646.34L185.80,647.15L186.54,647.95L187.28,648.76L188.02,649.55L188.76,650.35L189.50,651.14L190.24,651.92L190.98,652.69L191.72,653.45L192.46,654.21L193.21,654.95L193.95,655.68L194.69,656.40L195.43,657.10L196.17,657.79L196.91,658.47L197.65,659.13L198.39,659.77L199.13,660.39L199.87,661.00L200.62,661.58L201.36,662.14L202.10,662.68L202.84,663.20L203.58,663.69L204.32,664.17L205.06,664.64L205.80,665.10L206.54,665.56L207.28,666.00L208.02,666.43L208.77,666.86L209.51,667.28L210.25,667.69L210.99,668.09L211.73,668.48L212.47,668.87L213.21,669.24L213.95,669.61L214.69,669.97L215.43,670.33L216.18,670.67L216.92,671.01L217.66,671.34L218.40,671.67L219.14,671.98L219.88,672.29L220.62,672.59L221.36,672.89L222.10,673.18L222.84,673.46L223.59,673.73L224.33,674.00L225.07,674.26L225.81,674.52L226.55,674.78L227.29,675.03L228.03,675.27L228.77,675.52L229.51,675.76L230.25,675.99L231.00,676.22L231.74,676.45L232.48,676.67L233.22,676.89L233.96,677.10L234.70,677.31L235.44,677.52L236.18,677.72L236.92,677.92L237.66,678.11L238.40,678.30L239.15,678.48L239.89,678.66L240.63,678.84L241.37,679.01L242.11,679.18L242.85,679.34L243.59,679.49L244.33,679.65L245.07,679.79L245.81,679.94L246.56,680.08L247.30,680.22L248.04,680.36L248.78,680.50L249.52,680.63L250.26,680.77L251.00,680.90L251.74,681.03L252.48,681.16L253.22,681.29L253.97,681.41L254.71,681.54L255.45,681.66L256.19,681.77L256.93,681.88L257.67,681.99L258.41,682.10L259.15,682.20L259.89,682.30L260.63,682.39L261.38,682.48L262.12,682.56L262.86,682.64L263.60,682.72L264.34,682.79L265.08,682.85L265.82,682.91L266.56,682.96L267.30,683.01L268.04,683.06L268.78,683.11L269.53,683.15L270.27,683.20L271.01,683.24L271.75,683.29L272.49,683.33L273.23,683.37L273.97,683.42L274.71,683.46L275.45,683.50L276.19,683.54L276.94,683.58L277.68,683.62L278.42,683.65L279.16,683.69L279.90,683.73L280.64,683.76L281.38,683.80L282.12,683.83L282.86,683.86L283.60,683.89L284.35,683.92L285.09,683.95L285.83,683.98L286.57,684.01L287.31,684.03L288.05,684.06L288.79,684.08L289.53,684.11L290.27,684.13L291.01,684.15L291.76,684.17L292.50,684.19L293.24,684.21L293.98,684.23L294.72,684.24L295.46,684.26L296.20,684.27L296.94,684.28L297.68,684.30L298.42,684.31L299.17,684.32L299.91,684.32L300.65,684.33L301.39,684.34L302.13,684.34L302.87,684.35L303.61,684.36L304.35,684.36L305.09,684.37L305.83,684.38L306.57,684.38L307.32,684.39L308.06,684.39L308.80,684.40L309.54,684.41L310.28,684.41L311.02,684.42L311.76,684.42L312.50,684.43L313.24,684.43L313.98,684.44L314.73,684.44L315.47,684.44L316.21,684.45L316.95,684.45L317.69,684.46L318.43,684.46L319.17,684.46L319.91,684.47L320.65,684.47L321.39,684.47L322.14,684.48L322.88,684.48L323.62,684.48L324.36,684.49L325.10,684.49L325.84,684.49L326.58,684.49L327.32,684.49L328.06,684.49L328.80,684.50L329.55,684.50L330.29,684.50L331.03,684.50L331.77,684.50L332.51,684.50L333.25,684.50" fill="none" stroke="#000000" stroke-width="2.00" stroke-dasharray="9.20 12.55" stroke-dashoffset="-0.22" stroke-linejoin="round"/>
</svg>
<text transform="translate(37.60,707.15) scale(0.9,1)" text-anchor="middle" font-size="10" font-weight="bold" stroke="#000" stroke-width="0.2">0</text>
<text transform="translate(103.30,707.15) scale(0.9,1)" text-anchor="middle" font-size="10" font-weight="bold" stroke="#000" stroke-width="0.2">2</text>
<text transform="translate(169.00,707.15) scale(0.9,1)" text-anchor="middle" font-size="10" font-weight="bold" stroke="#000" stroke-width="0.2">4</text>
<text transform="translate(234.70,707.15) scale(0.9,1)" text-anchor="middle" font-size="10" font-weight="bold" stroke="#000" stroke-width="0.2">6</text>
<text transform="translate(300.40,707.15) scale(0.9,1)" text-anchor="middle" font-size="10" font-weight="bold" stroke="#000" stroke-width="0.2">8</text>
<text transform="translate(28.10,689.05) scale(0.9,1)" text-anchor="end" font-size="10" font-weight="bold" stroke="#000" stroke-width="0.2">0.0</text>
<text transform="translate(28.10,654.85) scale(0.9,1)" text-anchor="end" font-size="10" font-weight="bold" stroke="#000" stroke-width="0.2">0.2</text>
<text transform="translate(28.10,620.65) scale(0.9,1)" text-anchor="end" font-size="10" font-weight="bold" stroke="#000" stroke-width="0.2">0.4</text>
<text transform="translate(28.10,586.45) scale(0.9,1)" text-anchor="end" font-size="10" font-weight="bold" stroke="#000" stroke-width="0.2">0.6</text>
<text transform="translate(28.10,552.25) scale(0.9,1)" text-anchor="end" font-size="10" font-weight="bold" stroke="#000" stroke-width="0.2">0.8</text>
<text transform="translate(28.10,518.05) scale(0.9,1)" text-anchor="end" font-size="10" font-weight="bold" stroke="#000" stroke-width="0.2">1.0</text>
<text x="182.95" y="721.45" font-size="11.51" font-weight="bold" textLength="5.1" lengthAdjust="spacingAndGlyphs">x</text>
<g transform="translate(7.45,0) rotate(-90)">
<text x="-620.20" y="0" font-size="9.5" font-weight="bold" textLength="14.7" lengthAdjust="spacingAndGlyphs">var</text>
<text x="-601.80" y="0" font-size="8.8" stroke="#000" stroke-width="0.25" textLength="22.10" lengthAdjust="spacingAndGlyphs">(σxx)</text>
</g>
<text x="306.40" y="520.30" font-size="20.00" textLength="21.30" lengthAdjust="spacingAndGlyphs">(e)</text>
<path d="M240.20,554.70H278.40" fill="none" stroke="#ff0000" stroke-width="2.00"/>
<text x="283.20" y="559.05" font-size="10" font-weight="bold" textLength="20.6" lengthAdjust="spacingAndGlyphs">t=0.1</text>
<path d="M241.20,574.20H276.00" fill="none" stroke="#0000ff" stroke-width="2.10" stroke-dasharray="3.90 3.80"/>
<text x="283.20" y="578.55" font-size="10" font-weight="bold" textLength="20.6" lengthAdjust="spacingAndGlyphs">t=0.4</text>
<path d="M241.60,593.50H278.00" fill="none" stroke="#000000" stroke-width="2.00" stroke-dasharray="9.20 12.55" />
<text x="283.20" y="597.85" font-size="10" font-weight="bold" textLength="20.6" lengthAdjust="spacingAndGlyphs">t=0.7</text>
</g>
<g>
<rect x="391.3" y="508.9" width="292.10" height="180.50" fill="none" stroke="#9a9a9a" stroke-width="1.1"/>
<path d="M396.70,689.4v-3.60M396.70,508.9v3.60M412.35,689.4v-2.20M412.35,508.9v2.20M428.00,689.4v-2.20M428.00,508.9v2.20M443.65,689.4v-2.20M443.65,508.9v2.20M459.30,689.4v-3.60M459.30,508.9v3.60M474.95,689.4v-2.20M474.95,508.9v2.20M490.60,689.4v-2.20M490.60,508.9v2.20M506.25,689.4v-2.20M506.25,508.9v2.20M521.90,689.4v-3.60M521.90,508.9v3.60M537.55,689.4v-2.20M537.55,508.9v2.20M553.20,689.4v-2.20M553.20,508.9v2.20M568.85,689.4v-2.20M568.85,508.9v2.20M584.50,689.4v-3.60M584.50,508.9v3.60M600.15,689.4v-2.20M600.15,508.9v2.20M615.80,689.4v-2.20M615.80,508.9v2.20M631.45,689.4v-2.20M631.45,508.9v2.20M647.10,689.4v-3.60M647.10,508.9v3.60M662.75,689.4v-2.20M662.75,508.9v2.20M678.40,689.4v-2.20M678.40,508.9v2.20M391.3,686.27h2.20M683.4,686.27h-2.20M391.3,680.40h3.60M683.4,680.40h-3.60M391.3,674.53h2.20M683.4,674.53h-2.20M391.3,668.67h2.20M683.4,668.67h-2.20M391.3,662.80h2.20M683.4,662.80h-2.20M391.3,656.94h2.20M683.4,656.94h-2.20M391.3,651.07h3.60M683.4,651.07h-3.60M391.3,645.20h2.20M683.4,645.20h-2.20M391.3,639.34h2.20M683.4,639.34h-2.20M391.3,633.47h2.20M683.4,633.47h-2.20M391.3,627.61h2.20M683.4,627.61h-2.20M391.3,621.74h3.60M683.4,621.74h-3.60M391.3,615.87h2.20M683.4,615.87h-2.20M391.3,610.01h2.20M683.4,610.01h-2.20M391.3,604.14h2.20M683.4,604.14h-2.20M391.3,598.28h2.20M683.4,598.28h-2.20M391.3,592.41h3.60M683.4,592.41h-3.60M391.3,586.54h2.20M683.4,586.54h-2.20M391.3,580.68h2.20M683.4,580.68h-2.20M391.3,574.81h2.20M683.4,574.81h-2.20M391.3,568.95h2.20M683.4,568.95h-2.20M391.3,563.08h3.60M683.4,563.08h-3.60M391.3,557.21h2.20M683.4,557.21h-2.20M391.3,551.35h2.20M683.4,551.35h-2.20M391.3,545.48h2.20M683.4,545.48h-2.20M391.3,539.62h2.20M683.4,539.62h-2.20M391.3,533.75h3.60M683.4,533.75h-3.60M391.3,527.88h2.20M683.4,527.88h-2.20M391.3,522.02h2.20M683.4,522.02h-2.20M391.3,516.15h2.20M683.4,516.15h-2.20M391.3,510.29h2.20M683.4,510.29h-2.20" stroke="#9a9a9a" stroke-width="0.90" fill="none"/>
<svg x="391.3" y="508.9" width="292.10" height="180.50" viewBox="391.3 508.9 292.10 180.50" overflow="hidden">
<path d="M396.70,680.40L397.41,679.90L398.11,679.31L398.82,678.59L399.52,677.73L400.23,676.76L400.94,675.72L401.64,674.65L402.35,673.59L403.05,672.57L403.76,671.63L404.47,670.80L405.17,670.11L405.88,669.45L406.58,668.81L407.29,668.21L408.00,667.69L408.70,667.26L409.41,666.95L410.11,666.73L410.82,666.53L411.53,666.35L412.23,666.19L412.94,666.06L413.64,665.97L414.35,665.92L415.06,665.92L415.76,666.00L416.47,666.16L417.17,666.37L417.88,666.63L418.59,666.92L419.29,667.22L420.00,667.53L420.70,667.90L421.41,668.34L422.12,668.82L422.82,669.27L423.53,669.69L424.23,670.11L424.94,670.54L425.65,670.96L426.35,671.38L427.06,671.79L427.76,672.19L428.47,672.59L429.18,672.97L429.88,673.34L430.59,673.70L431.29,674.07L432.00,674.43L432.71,674.80L433.41,675.16L434.12,675.51L434.82,675.86L435.53,676.19L436.24,676.51L436.94,676.81L437.65,677.09L438.35,677.36L439.06,677.60L439.77,677.81L440.47,678.01L441.18,678.20L441.88,678.39L442.59,678.57L443.30,678.74L444.00,678.91L444.71,679.07L445.42,679.22L446.12,679.35L446.83,679.47L447.53,679.58L448.24,679.68L448.95,679.76L449.65,679.82L450.36,679.87L451.06,679.92L451.77,679.97L452.48,680.02L453.18,680.06L453.89,680.10L454.59,680.14L455.30,680.18L456.01,680.21L456.71,680.23L457.42,680.25L458.12,680.27L458.83,680.28L459.54,680.28L460.24,680.28L460.95,680.26L461.65,680.24L462.36,680.20L463.07,680.16L463.77,680.10L464.48,680.05L465.18,679.98L465.89,679.91L466.60,679.84L467.30,679.76L468.01,679.68L468.71,679.60L469.42,679.52L470.13,679.44L470.83,679.37L471.54,679.29L472.24,679.22L472.95,679.15L473.66,679.09L474.36,679.03L475.07,678.98L475.77,678.94L476.48,678.89L477.19,678.84L477.89,678.79L478.60,678.74L479.30,678.69L480.01,678.64L480.72,678.59L481.42,678.54L482.13,678.49L482.83,678.44L483.54,678.39L484.25,678.34L484.95,678.29L485.66,678.25L486.36,678.20L487.07,678.15L487.78,678.11L488.48,678.06L489.19,678.02L489.89,677.98L490.60,677.94L491.31,677.90L492.01,677.86L492.72,677.83L493.42,677.79L494.13,677.76L494.84,677.73L495.54,677.71L496.25,677.68L496.95,677.66L497.66,677.64L498.37,677.62L499.07,677.61L499.78,677.60L500.48,677.59L501.19,677.59L501.90,677.58L502.60,677.59L503.31,677.59L504.01,677.59L504.72,677.60L505.43,677.61L506.13,677.62L506.84,677.63L507.54,677.64L508.25,677.65L508.96,677.67L509.66,677.68L510.37,677.70L511.07,677.72L511.78,677.74L512.49,677.76L513.19,677.78L513.90,677.80L514.60,677.83L515.31,677.85L516.02,677.88L516.72,677.91L517.43,677.93L518.13,677.96L518.84,677.99L519.55,678.02L520.25,678.05L520.96,678.08L521.66,678.11L522.37,678.14L523.08,678.17L523.78,678.21L524.49,678.24L525.19,678.27L525.90,678.30L526.61,678.34L527.31,678.37L528.02,678.40L528.72,678.44L529.43,678.47L530.14,678.50L530.84,678.53L531.55,678.57L532.25,678.60L532.96,678.63L533.67,678.66L534.37,678.69L535.08,678.72L535.78,678.76L536.49,678.79L537.20,678.81L537.90,678.84L538.61,678.87L539.32,678.90L540.02,678.92L540.73,678.95L541.43,678.98L542.14,679.00L542.85,679.02L543.55,679.05L544.26,679.07L544.96,679.10L545.67,679.13L546.38,679.15L547.08,679.18L547.79,679.21L548.49,679.23L549.20,679.26L549.91,679.29L550.61,679.32L551.32,679.35L552.02,679.38L552.73,679.41L553.44,679.43L554.14,679.46L554.85,679.49L555.55,679.52L556.26,679.55L556.97,679.58L557.67,679.60L558.38,679.63L559.08,679.66L559.79,679.69L560.50,679.71L561.20,679.74L561.91,679.76L562.61,679.79L563.32,679.81L564.03,679.84L564.73,679.86L565.44,679.88L566.14,679.90L566.85,679.93L567.56,679.95L568.26,679.96L568.97,679.98L569.67,680.00L570.38,680.02L571.09,680.03L571.79,680.04L572.50,680.06L573.20,680.07L573.91,680.08L574.62,680.09L575.32,680.10L576.03,680.10L576.73,680.11L577.44,680.11L578.15,680.12L578.85,680.12L579.56,680.12L580.26,680.13L580.97,680.13L581.68,680.14L582.38,680.14L583.09,680.14L583.79,680.15L584.50,680.15L585.21,680.16L585.91,680.16L586.62,680.16L587.32,680.17L588.03,680.17L588.74,680.18L589.44,680.18L590.15,680.18L590.85,680.19L591.56,680.19L592.27,680.19L592.97,680.20L593.68,680.20L594.38,680.20L595.09,680.21L595.80,680.21L596.50,680.21L597.21,680.22L597.91,680.22L598.62,680.22L599.33,680.23L600.03,680.23L600.74,680.23L601.44,680.24L602.15,680.24L602.86,680.24L603.56,680.25L604.27,680.25L604.97,680.25L605.68,680.26L606.39,680.26L607.09,680.26L607.80,680.26L608.50,680.27L609.21,680.27L609.92,680.27L610.62,680.28L611.33,680.28L612.03,680.28L612.74,680.28L613.45,680.29L614.15,680.29L614.86,680.29L615.56,680.29L616.27,680.30L616.98,680.30L617.68,680.30L618.39,680.30L619.09,680.31L619.80,680.31L620.51,680.31L621.21,680.31L621.92,680.31L622.62,680.32L623.33,680.32L624.04,680.32L624.74,680.32L625.45,680.33L626.15,680.33L626.86,680.33L627.57,680.33L628.27,680.33L628.98,680.34L629.68,680.34L630.39,680.34L631.10,680.34L631.80,680.34L632.51,680.34L633.22,680.35L633.92,680.35L634.63,680.35L635.33,680.35L636.04,680.35L636.75,680.35L637.45,680.36L638.16,680.36L638.86,680.36L639.57,680.36L640.28,680.36L640.98,680.36L641.69,680.36L642.39,680.37L643.10,680.37L643.81,680.37L644.51,680.37L645.22,680.37L645.92,680.37L646.63,680.37L647.34,680.38L648.04,680.38L648.75,680.38L649.45,680.38L650.16,680.38L650.87,680.38L651.57,680.38L652.28,680.38L652.98,680.38L653.69,680.38L654.40,680.39L655.10,680.39L655.81,680.39L656.51,680.39L657.22,680.39L657.93,680.39L658.63,680.39L659.34,680.39L660.04,680.39L660.75,680.39L661.46,680.39L662.16,680.39L662.87,680.39L663.57,680.39L664.28,680.39L664.99,680.40L665.69,680.40L666.40,680.40L667.10,680.40L667.81,680.40L668.52,680.40L669.22,680.40L669.93,680.40L670.63,680.40L671.34,680.40L672.05,680.40L672.75,680.40L673.46,680.40L674.16,680.40L674.87,680.40L675.58,680.40L676.28,680.40L676.99,680.40L677.69,680.40L678.40,680.40" fill="none" stroke="#ff0000" stroke-width="2.00" stroke-linejoin="round"/>
<path d="M396.70,680.40L397.41,679.28L398.11,677.11L398.82,674.20L399.52,670.85L400.23,666.29L400.94,659.98L401.64,653.71L402.35,648.58L403.05,643.84L403.76,639.29L404.47,634.82L405.17,630.24L405.88,625.67L406.58,621.39L407.29,617.72L408.00,614.43L408.70,611.43L409.41,608.91L410.11,606.99L410.82,605.33L411.53,603.96L412.23,603.06L412.94,602.57L413.64,602.16L414.35,601.89L415.06,601.80L415.76,602.00L416.47,602.51L417.17,603.29L417.88,604.26L418.59,605.37L419.29,606.57L420.00,607.79L420.70,609.39L421.41,611.41L422.12,613.59L422.82,615.67L423.53,617.50L424.23,619.23L424.94,621.00L425.65,622.92L426.35,625.12L427.06,627.64L427.76,630.30L428.47,632.94L429.18,635.66L429.88,638.41L430.59,640.95L431.29,643.08L432.00,644.94L432.71,646.68L433.41,648.46L434.12,650.44L434.82,652.63L435.53,654.89L436.24,657.06L436.94,658.98L437.65,660.71L438.35,662.33L439.06,663.86L439.77,665.32L440.47,666.74L441.18,668.15L441.88,669.50L442.59,670.74L443.30,671.83L444.00,672.75L444.71,673.58L445.42,674.35L446.12,675.04L446.83,675.65L447.53,676.17L448.24,676.62L448.95,677.04L449.65,677.43L450.36,677.78L451.06,678.09L451.77,678.35L452.48,678.57L453.18,678.75L453.89,678.93L454.59,679.08L455.30,679.22L456.01,679.31L456.71,679.34L457.42,679.33L458.12,679.26L458.83,679.15L459.54,679.01L460.24,678.83L460.95,678.63L461.65,678.41L462.36,678.17L463.07,677.91L463.77,677.65L464.48,677.39L465.18,677.13L465.89,676.87L466.60,676.60L467.30,676.28L468.01,675.93L468.71,675.54L469.42,675.13L470.13,674.70L470.83,674.25L471.54,673.79L472.24,673.34L472.95,672.88L473.66,672.44L474.36,672.01L475.07,671.61L475.77,671.23L476.48,670.88L477.19,670.57L477.89,670.31L478.60,670.10L479.30,669.93L480.01,669.76L480.72,669.59L481.42,669.42L482.13,669.26L482.83,669.10L483.54,668.94L484.25,668.79L484.95,668.64L485.66,668.49L486.36,668.35L487.07,668.21L487.78,668.07L488.48,667.94L489.19,667.82L489.89,667.70L490.60,667.58L491.31,667.47L492.01,667.37L492.72,667.27L493.42,667.18L494.13,667.09L494.84,667.01L495.54,666.94L496.25,666.87L496.95,666.81L497.66,666.76L498.37,666.72L499.07,666.68L499.78,666.65L500.48,666.63L501.19,666.62L501.90,666.61L502.60,666.62L503.31,666.64L504.01,666.67L504.72,666.71L505.43,666.76L506.13,666.82L506.84,666.89L507.54,666.96L508.25,667.05L508.96,667.14L509.66,667.24L510.37,667.34L511.07,667.45L511.78,667.57L512.49,667.69L513.19,667.82L513.90,667.94L514.60,668.08L515.31,668.21L516.02,668.35L516.72,668.48L517.43,668.62L518.13,668.76L518.84,668.90L519.55,669.04L520.25,669.17L520.96,669.31L521.66,669.44L522.37,669.57L523.08,669.70L523.78,669.82L524.49,669.94L525.19,670.05L525.90,670.16L526.61,670.27L527.31,670.39L528.02,670.50L528.72,670.62L529.43,670.73L530.14,670.85L530.84,670.97L531.55,671.08L532.25,671.20L532.96,671.32L533.67,671.44L534.37,671.56L535.08,671.68L535.78,671.80L536.49,671.93L537.20,672.05L537.90,672.17L538.61,672.29L539.32,672.41L540.02,672.53L540.73,672.65L541.43,672.78L542.14,672.90L542.85,673.02L543.55,673.13L544.26,673.25L544.96,673.37L545.67,673.49L546.38,673.60L547.08,673.72L547.79,673.83L548.49,673.95L549.20,674.06L549.91,674.17L550.61,674.28L551.32,674.39L552.02,674.49L552.73,674.60L553.44,674.70L554.14,674.80L554.85,674.90L555.55,675.01L556.26,675.11L556.97,675.22L557.67,675.32L558.38,675.43L559.08,675.54L559.79,675.64L560.50,675.75L561.20,675.86L561.91,675.96L562.61,676.07L563.32,676.17L564.03,676.28L564.73,676.38L565.44,676.48L566.14,676.58L566.85,676.68L567.56,676.78L568.26,676.88L568.97,676.98L569.67,677.07L570.38,677.17L571.09,677.26L571.79,677.35L572.50,677.43L573.20,677.52L573.91,677.60L574.62,677.68L575.32,677.76L576.03,677.83L576.73,677.90L577.44,677.97L578.15,678.03L578.85,678.10L579.56,678.15L580.26,678.21L580.97,678.26L581.68,678.31L582.38,678.36L583.09,678.40L583.79,678.45L584.50,678.49L585.21,678.54L585.91,678.58L586.62,678.63L587.32,678.67L588.03,678.71L588.74,678.75L589.44,678.79L590.15,678.83L590.85,678.87L591.56,678.91L592.27,678.95L592.97,678.99L593.68,679.03L594.38,679.06L595.09,679.10L595.80,679.14L596.50,679.17L597.21,679.20L597.91,679.24L598.62,679.27L599.33,679.30L600.03,679.33L600.74,679.36L601.44,679.39L602.15,679.42L602.86,679.45L603.56,679.48L604.27,679.50L604.97,679.53L605.68,679.55L606.39,679.58L607.09,679.60L607.80,679.62L608.50,679.64L609.21,679.66L609.92,679.68L610.62,679.70L611.33,679.72L612.03,679.74L612.74,679.75L613.45,679.77L614.15,679.78L614.86,679.80L615.56,679.81L616.27,679.82L616.98,679.83L617.68,679.84L618.39,679.86L619.09,679.87L619.80,679.88L620.51,679.89L621.21,679.90L621.92,679.91L622.62,679.92L623.33,679.93L624.04,679.94L624.74,679.95L625.45,679.96L626.15,679.98L626.86,679.99L627.57,680.00L628.27,680.01L628.98,680.02L629.68,680.03L630.39,680.04L631.10,680.05L631.80,680.06L632.51,680.06L633.22,680.07L633.92,680.08L634.63,680.09L635.33,680.10L636.04,680.11L636.75,680.12L637.45,680.13L638.16,680.14L638.86,680.15L639.57,680.15L640.28,680.16L640.98,680.17L641.69,680.18L642.39,680.19L643.10,680.19L643.81,680.20L644.51,680.21L645.22,680.22L645.92,680.22L646.63,680.23L647.34,680.24L648.04,680.25L648.75,680.25L649.45,680.26L650.16,680.27L650.87,680.27L651.57,680.28L652.28,680.28L652.98,680.29L653.69,680.30L654.40,680.30L655.10,680.31L655.81,680.31L656.51,680.32L657.22,680.32L657.93,680.33L658.63,680.33L659.34,680.34L660.04,680.34L660.75,680.35L661.46,680.35L662.16,680.35L662.87,680.36L663.57,680.36L664.28,680.36L664.99,680.37L665.69,680.37L666.40,680.37L667.10,680.38L667.81,680.38L668.52,680.38L669.22,680.38L669.93,680.39L670.63,680.39L671.34,680.39L672.05,680.39L672.75,680.39L673.46,680.40L674.16,680.40L674.87,680.40L675.58,680.40L676.28,680.40L676.99,680.40L677.69,680.40L678.40,680.40" fill="none" stroke="#0000ff" stroke-width="2.10" stroke-dasharray="3.90 3.80" stroke-linejoin="round"/>
<path d="M396.70,680.40L397.41,678.71L398.11,675.09L398.82,670.26L399.52,662.10L400.23,655.00L400.94,648.03L401.64,639.03L402.35,629.49L403.05,619.24L403.76,608.56L404.47,597.96L405.17,587.79L405.88,578.18L406.58,569.41L407.29,560.41L408.00,552.43L408.70,545.63L409.41,538.97L410.11,533.64L410.82,529.72L411.53,526.56L412.23,523.85L412.94,521.46L413.64,519.90L414.35,518.96L415.06,518.33L415.76,518.33L416.47,519.49L417.17,521.14L417.88,522.90L418.59,525.08L419.29,527.66L420.00,530.72L420.70,534.81L421.41,539.39L422.12,543.90L422.82,548.52L423.53,552.84L424.23,556.92L424.94,561.02L425.65,565.28L426.35,569.62L427.06,574.01L427.76,578.44L428.47,582.90L429.18,587.37L429.88,591.85L430.59,596.42L431.29,601.10L432.00,605.83L432.71,610.53L433.41,615.12L434.12,619.53L434.82,623.69L435.53,627.64L436.24,631.46L436.94,635.15L437.65,638.67L438.35,642.02L439.06,645.18L439.77,648.16L440.47,650.95L441.18,653.56L441.88,656.04L442.59,658.44L443.30,660.70L444.00,662.78L444.71,664.63L445.42,666.30L446.12,667.89L446.83,669.37L447.53,670.73L448.24,671.96L448.95,673.03L449.65,673.98L450.36,674.93L451.06,675.88L451.77,676.77L452.48,677.58L453.18,678.26L453.89,678.79L454.59,679.12L455.30,679.23L456.01,679.19L456.71,679.10L457.42,678.97L458.12,678.81L458.83,678.62L459.54,678.41L460.24,678.18L460.95,677.85L461.65,677.43L462.36,676.93L463.07,676.38L463.77,675.78L464.48,675.16L465.18,674.54L465.89,673.93L466.60,673.32L467.30,672.66L468.01,671.96L468.71,671.24L469.42,670.49L470.13,669.73L470.83,668.95L471.54,668.17L472.24,667.39L472.95,666.62L473.66,665.87L474.36,665.14L475.07,664.43L475.77,663.76L476.48,663.13L477.19,662.52L477.89,661.92L478.60,661.32L479.30,660.74L480.01,660.19L480.72,659.65L481.42,659.15L482.13,658.68L482.83,658.25L483.54,657.86L484.25,657.46L484.95,657.07L485.66,656.67L486.36,656.27L487.07,655.87L487.78,655.48L488.48,655.10L489.19,654.72L489.89,654.35L490.60,654.00L491.31,653.66L492.01,653.34L492.72,653.03L493.42,652.75L494.13,652.49L494.84,652.25L495.54,652.04L496.25,651.85L496.95,651.70L497.66,651.58L498.37,651.49L499.07,651.44L499.78,651.42L500.48,651.43L501.19,651.46L501.90,651.50L502.60,651.55L503.31,651.62L504.01,651.70L504.72,651.79L505.43,651.89L506.13,652.01L506.84,652.13L507.54,652.26L508.25,652.40L508.96,652.54L509.66,652.70L510.37,652.86L511.07,653.02L511.78,653.19L512.49,653.36L513.19,653.54L513.90,653.72L514.60,653.90L515.31,654.08L516.02,654.26L516.72,654.44L517.43,654.62L518.13,654.80L518.84,654.98L519.55,655.17L520.25,655.38L520.96,655.59L521.66,655.82L522.37,656.07L523.08,656.32L523.78,656.58L524.49,656.85L525.19,657.13L525.90,657.41L526.61,657.70L527.31,658.00L528.02,658.30L528.72,658.60L529.43,658.91L530.14,659.22L530.84,659.53L531.55,659.84L532.25,660.15L532.96,660.46L533.67,660.77L534.37,661.08L535.08,661.38L535.78,661.67L536.49,661.96L537.20,662.25L537.90,662.53L538.61,662.79L539.32,663.05L540.02,663.31L540.73,663.56L541.43,663.82L542.14,664.07L542.85,664.32L543.55,664.57L544.26,664.82L544.96,665.07L545.67,665.32L546.38,665.57L547.08,665.81L547.79,666.06L548.49,666.30L549.20,666.54L549.91,666.78L550.61,667.02L551.32,667.25L552.02,667.49L552.73,667.72L553.44,667.95L554.14,668.18L554.85,668.40L555.55,668.62L556.26,668.84L556.97,669.06L557.67,669.28L558.38,669.49L559.08,669.70L559.79,669.90L560.50,670.10L561.20,670.30L561.91,670.50L562.61,670.71L563.32,670.91L564.03,671.10L564.73,671.30L565.44,671.50L566.14,671.70L566.85,671.89L567.56,672.09L568.26,672.28L568.97,672.47L569.67,672.66L570.38,672.85L571.09,673.03L571.79,673.22L572.50,673.40L573.20,673.58L573.91,673.75L574.62,673.92L575.32,674.10L576.03,674.26L576.73,674.43L577.44,674.59L578.15,674.75L578.85,674.90L579.56,675.05L580.26,675.20L580.97,675.34L581.68,675.48L582.38,675.61L583.09,675.74L583.79,675.87L584.50,675.99L585.21,676.11L585.91,676.24L586.62,676.36L587.32,676.48L588.03,676.60L588.74,676.72L589.44,676.83L590.15,676.95L590.85,677.06L591.56,677.18L592.27,677.29L592.97,677.40L593.68,677.51L594.38,677.61L595.09,677.71L595.80,677.82L596.50,677.91L597.21,678.01L597.91,678.10L598.62,678.19L599.33,678.28L600.03,678.36L600.74,678.44L601.44,678.52L602.15,678.59L602.86,678.66L603.56,678.73L604.27,678.79L604.97,678.85L605.68,678.90L606.39,678.95L607.09,679.00L607.80,679.04L608.50,679.08L609.21,679.12L609.92,679.16L610.62,679.20L611.33,679.23L612.03,679.27L612.74,679.31L613.45,679.34L614.15,679.37L614.86,679.41L615.56,679.44L616.27,679.47L616.98,679.50L617.68,679.53L618.39,679.56L619.09,679.59L619.80,679.61L620.51,679.64L621.21,679.67L621.92,679.69L622.62,679.71L623.33,679.74L624.04,679.76L624.74,679.78L625.45,679.80L626.15,679.82L626.86,679.83L627.57,679.85L628.27,679.87L628.98,679.88L629.68,679.90L630.39,679.91L631.10,679.92L631.80,679.94L632.51,679.95L633.22,679.96L633.92,679.97L634.63,679.98L635.33,680.00L636.04,680.01L636.75,680.02L637.45,680.03L638.16,680.04L638.86,680.05L639.57,680.06L640.28,680.07L640.98,680.08L641.69,680.09L642.39,680.10L643.10,680.11L643.81,680.12L644.51,680.13L645.22,680.14L645.92,680.15L646.63,680.16L647.34,680.17L648.04,680.18L648.75,680.19L649.45,680.20L650.16,680.21L650.87,680.22L651.57,680.23L652.28,680.23L652.98,680.24L653.69,680.25L654.40,680.26L655.10,680.27L655.81,680.27L656.51,680.28L657.22,680.29L657.93,680.30L658.63,680.30L659.34,680.31L660.04,680.31L660.75,680.32L661.46,680.33L662.16,680.33L662.87,680.34L663.57,680.34L664.28,680.35L664.99,680.35L665.69,680.36L666.40,680.36L667.10,680.37L667.81,680.37L668.52,680.37L669.22,680.38L669.93,680.38L670.63,680.38L671.34,680.39L672.05,680.39L672.75,680.39L673.46,680.39L674.16,680.40L674.87,680.40L675.58,680.40L676.28,680.40L676.99,680.40L677.69,680.40L678.40,680.40" fill="none" stroke="#000000" stroke-width="2.00" stroke-dasharray="9.20 11.70" stroke-dashoffset="-0.97" stroke-linejoin="round"/>
</svg>
<text transform="translate(396.70,702.45) scale(0.9,1)" text-anchor="middle" font-size="10" font-weight="bold" stroke="#000" stroke-width="0.2">0</text>
<text transform="translate(459.30,702.45) scale(0.9,1)" text-anchor="middle" font-size="10" font-weight="bold" stroke="#000" stroke-width="0.2">2</text>
<text transform="translate(521.90,702.45) scale(0.9,1)" text-anchor="middle" font-size="10" font-weight="bold" stroke="#000" stroke-width="0.2">4</text>
<text transform="translate(584.50,702.45) scale(0.9,1)" text-anchor="middle" font-size="10" font-weight="bold" stroke="#000" stroke-width="0.2">6</text>
<text transform="translate(647.10,702.45) scale(0.9,1)" text-anchor="middle" font-size="10" font-weight="bold" stroke="#000" stroke-width="0.2">8</text>
<text transform="translate(388.00,684.95) scale(0.9,1)" text-anchor="end" font-size="10" font-weight="bold" stroke="#000" stroke-width="0.2">0.00</text>
<text transform="translate(388.00,655.62) scale(0.9,1)" text-anchor="end" font-size="10" font-weight="bold" stroke="#000" stroke-width="0.2">0.05</text>
<text transform="translate(388.00,626.29) scale(0.9,1)" text-anchor="end" font-size="10" font-weight="bold" stroke="#000" stroke-width="0.2">0.10</text>
<text transform="translate(388.00,596.96) scale(0.9,1)" text-anchor="end" font-size="10" font-weight="bold" stroke="#000" stroke-width="0.2">0.15</text>
<text transform="translate(388.00,567.63) scale(0.9,1)" text-anchor="end" font-size="10" font-weight="bold" stroke="#000" stroke-width="0.2">0.20</text>
<text transform="translate(388.00,538.30) scale(0.9,1)" text-anchor="end" font-size="10" font-weight="bold" stroke="#000" stroke-width="0.2">0.25</text>
<text x="534.75" y="717.05" font-size="11.51" font-weight="bold" textLength="5.1" lengthAdjust="spacingAndGlyphs">x</text>
<g transform="translate(363.20,0) rotate(-90)">
<text x="-617.40" y="0" font-size="9.8" font-weight="bold" textLength="14.4" lengthAdjust="spacingAndGlyphs">var</text>
<text x="-600.00" y="0" font-size="8.2" stroke="#000" stroke-width="0.25" textLength="16.90" lengthAdjust="spacingAndGlyphs">(τ1)</text>
</g>
<text x="654.20" y="539.74" font-size="18.90" textLength="16.10" lengthAdjust="spacingAndGlyphs">(f)</text>
<path d="M566.20,577.70H602.70" fill="none" stroke="#ff0000" stroke-width="2.00"/>
<text x="607.60" y="582.05" font-size="10" font-weight="bold" textLength="19.7" lengthAdjust="spacingAndGlyphs">t=0.1</text>
<path d="M567.10,596.80H601.00" fill="none" stroke="#0000ff" stroke-width="2.10" stroke-dasharray="3.90 3.80"/>
<text x="607.60" y="601.15" font-size="10" font-weight="bold" textLength="19.7" lengthAdjust="spacingAndGlyphs">t=0.4</text>
<path d="M567.20,615.20H603.00" fill="none" stroke="#000000" stroke-width="2.00" stroke-dasharray="9.20 11.70" />
<text x="607.60" y="619.55" font-size="10" font-weight="bold" textLength="19.7" lengthAdjust="spacingAndGlyphs">t=0.7</text>
</g>
<g>
<rect x="178.1" y="744.7" width="369.30" height="227.70" fill="none" stroke="#9a9a9a" stroke-width="1.2"/>
<path d="M185.50,972.4v-4.32M185.50,744.7v4.32M205.22,972.4v-2.64M205.22,744.7v2.64M224.94,972.4v-2.64M224.94,744.7v2.64M244.66,972.4v-2.64M244.66,744.7v2.64M264.38,972.4v-4.32M264.38,744.7v4.32M284.10,972.4v-2.64M284.10,744.7v2.64M303.82,972.4v-2.64M303.82,744.7v2.64M323.54,972.4v-2.64M323.54,744.7v2.64M343.26,972.4v-4.32M343.26,744.7v4.32M362.98,972.4v-2.64M362.98,744.7v2.64M382.70,972.4v-2.64M382.70,744.7v2.64M402.42,972.4v-2.64M402.42,744.7v2.64M422.14,972.4v-4.32M422.14,744.7v4.32M441.86,972.4v-2.64M441.86,744.7v2.64M461.58,972.4v-2.64M461.58,744.7v2.64M481.30,972.4v-2.64M481.30,744.7v2.64M501.02,972.4v-4.32M501.02,744.7v4.32M520.74,972.4v-2.64M520.74,744.7v2.64M540.46,972.4v-2.64M540.46,744.7v2.64M178.1,966.77h2.64M547.4,966.77h-2.64M178.1,960.80h4.32M547.4,960.80h-4.32M178.1,954.83h2.64M547.4,954.83h-2.64M178.1,948.86h2.64M547.4,948.86h-2.64M178.1,942.89h2.64M547.4,942.89h-2.64M178.1,936.92h2.64M547.4,936.92h-2.64M178.1,930.95h4.32M547.4,930.95h-4.32M178.1,924.98h2.64M547.4,924.98h-2.64M178.1,919.01h2.64M547.4,919.01h-2.64M178.1,913.04h2.64M547.4,913.04h-2.64M178.1,907.07h2.64M547.4,907.07h-2.64M178.1,901.10h4.32M547.4,901.10h-4.32M178.1,895.13h2.64M547.4,895.13h-2.64M178.1,889.16h2.64M547.4,889.16h-2.64M178.1,883.19h2.64M547.4,883.19h-2.64M178.1,877.22h2.64M547.4,877.22h-2.64M178.1,871.25h4.32M547.4,871.25h-4.32M178.1,865.28h2.64M547.4,865.28h-2.64M178.1,859.31h2.64M547.4,859.31h-2.64M178.1,853.34h2.64M547.4,853.34h-2.64M178.1,847.37h2.64M547.4,847.37h-2.64M178.1,841.40h4.32M547.4,841.40h-4.32M178.1,835.43h2.64M547.4,835.43h-2.64M178.1,829.46h2.64M547.4,829.46h-2.64M178.1,823.49h2.64M547.4,823.49h-2.64M178.1,817.52h2.64M547.4,817.52h-2.64M178.1,811.55h4.32M547.4,811.55h-4.32M178.1,805.58h2.64M547.4,805.58h-2.64M178.1,799.61h2.64M547.4,799.61h-2.64M178.1,793.64h2.64M547.4,793.64h-2.64M178.1,787.67h2.64M547.4,787.67h-2.64M178.1,781.70h4.32M547.4,781.70h-4.32M178.1,775.73h2.64M547.4,775.73h-2.64M178.1,769.76h2.64M547.4,769.76h-2.64M178.1,763.79h2.64M547.4,763.79h-2.64M178.1,757.82h2.64M547.4,757.82h-2.64M178.1,751.85h4.32M547.4,751.85h-4.32M178.1,745.88h2.64M547.4,745.88h-2.64" stroke="#9a9a9a" stroke-width="1.08" fill="none"/>
<svg x="178.1" y="744.7" width="369.30" height="227.70" viewBox="178.1 744.7 369.30 227.70" overflow="hidden">
<path d="M185.50,960.80L186.39,960.75L187.28,960.60L188.17,960.39L189.06,960.12L189.95,959.81L190.84,959.47L191.73,958.96L192.62,958.30L193.51,957.60L194.40,956.80L195.29,955.89L196.18,954.94L197.07,954.00L197.95,953.12L198.84,952.25L199.73,951.37L200.62,950.50L201.51,949.66L202.40,948.88L203.29,948.18L204.18,947.57L205.07,947.03L205.96,946.52L206.85,946.04L207.74,945.60L208.63,945.20L209.52,944.83L210.41,944.50L211.30,944.20L212.19,943.90L213.08,943.62L213.97,943.37L214.86,943.14L215.75,942.95L216.64,942.82L217.53,942.73L218.42,942.65L219.31,942.57L220.20,942.51L221.08,942.45L221.97,942.40L222.86,942.36L223.75,942.32L224.64,942.30L225.53,942.29L226.42,942.30L227.31,942.34L228.20,942.39L229.09,942.47L229.98,942.57L230.87,942.69L231.76,942.81L232.65,942.95L233.54,943.09L234.43,943.23L235.32,943.38L236.21,943.52L237.10,943.69L237.99,943.87L238.88,944.08L239.77,944.31L240.66,944.55L241.55,944.81L242.44,945.07L243.33,945.35L244.22,945.63L245.10,945.92L245.99,946.20L246.88,946.49L247.77,946.77L248.66,947.04L249.55,947.31L250.44,947.56L251.33,947.81L252.22,948.07L253.11,948.33L254.00,948.59L254.89,948.85L255.78,949.11L256.67,949.36L257.56,949.62L258.45,949.88L259.34,950.13L260.23,950.38L261.12,950.62L262.01,950.86L262.90,951.09L263.79,951.32L264.68,951.54L265.57,951.76L266.46,951.98L267.35,952.20L268.24,952.42L269.12,952.64L270.01,952.85L270.90,953.06L271.79,953.27L272.68,953.46L273.57,953.66L274.46,953.84L275.35,954.02L276.24,954.19L277.13,954.35L278.02,954.50L278.91,954.65L279.80,954.79L280.69,954.92L281.58,955.06L282.47,955.19L283.36,955.31L284.25,955.44L285.14,955.56L286.03,955.67L286.92,955.79L287.81,955.90L288.70,956.01L289.59,956.12L290.48,956.22L291.37,956.32L292.25,956.42L293.14,956.52L294.03,956.62L294.92,956.71L295.81,956.81L296.70,956.90L297.59,956.99L298.48,957.08L299.37,957.17L300.26,957.26L301.15,957.34L302.04,957.43L302.93,957.51L303.82,957.59L304.71,957.67L305.60,957.75L306.49,957.83L307.38,957.91L308.27,957.98L309.16,958.06L310.05,958.13L310.94,958.20L311.83,958.27L312.72,958.34L313.61,958.41L314.50,958.47L315.39,958.53L316.27,958.60L317.16,958.65L318.05,958.71L318.94,958.77L319.83,958.83L320.72,958.88L321.61,958.93L322.50,958.99L323.39,959.04L324.28,959.09L325.17,959.13L326.06,959.18L326.95,959.22L327.84,959.26L328.73,959.29L329.62,959.33L330.51,959.36L331.40,959.39L332.29,959.43L333.18,959.46L334.07,959.49L334.96,959.52L335.85,959.55L336.74,959.58L337.63,959.61L338.52,959.64L339.40,959.67L340.29,959.70L341.18,959.72L342.07,959.75L342.96,959.78L343.85,959.80L344.74,959.83L345.63,959.85L346.52,959.88L347.41,959.90L348.30,959.93L349.19,959.95L350.08,959.97L350.97,959.99L351.86,960.01L352.75,960.03L353.64,960.05L354.53,960.07L355.42,960.08L356.31,960.10L357.20,960.12L358.09,960.13L358.98,960.15L359.87,960.16L360.76,960.17L361.65,960.19L362.54,960.20L363.42,960.21L364.31,960.22L365.20,960.23L366.09,960.24L366.98,960.25L367.87,960.26L368.76,960.27L369.65,960.28L370.54,960.29L371.43,960.30L372.32,960.31L373.21,960.31L374.10,960.32L374.99,960.33L375.88,960.34L376.77,960.35L377.66,960.36L378.55,960.37L379.44,960.37L380.33,960.38L381.22,960.39L382.11,960.40L383.00,960.41L383.89,960.41L384.78,960.42L385.67,960.43L386.56,960.43L387.44,960.44L388.33,960.45L389.22,960.45L390.11,960.46L391.00,960.47L391.89,960.47L392.78,960.48L393.67,960.49L394.56,960.49L395.45,960.50L396.34,960.50L397.23,960.51L398.12,960.52L399.01,960.52L399.90,960.53L400.79,960.53L401.68,960.54L402.57,960.54L403.46,960.55L404.35,960.55L405.24,960.56L406.13,960.56L407.02,960.56L407.91,960.57L408.80,960.57L409.69,960.58L410.57,960.58L411.46,960.58L412.35,960.59L413.24,960.59L414.13,960.59L415.02,960.60L415.91,960.60L416.80,960.60L417.69,960.61L418.58,960.61L419.47,960.61L420.36,960.62L421.25,960.62L422.14,960.62L423.03,960.62L423.92,960.63L424.81,960.63L425.70,960.63L426.59,960.63L427.48,960.64L428.37,960.64L429.26,960.64L430.15,960.64L431.04,960.64L431.93,960.65L432.82,960.65L433.71,960.65L434.59,960.65L435.48,960.66L436.37,960.66L437.26,960.66L438.15,960.66L439.04,960.66L439.93,960.67L440.82,960.67L441.71,960.67L442.60,960.67L443.49,960.67L444.38,960.68L445.27,960.68L446.16,960.68L447.05,960.68L447.94,960.69L448.83,960.69L449.72,960.69L450.61,960.69L451.50,960.69L452.39,960.70L453.28,960.70L454.17,960.70L455.06,960.70L455.95,960.70L456.84,960.70L457.72,960.71L458.61,960.71L459.50,960.71L460.39,960.71L461.28,960.71L462.17,960.72L463.06,960.72L463.95,960.72L464.84,960.72L465.73,960.72L466.62,960.72L467.51,960.73L468.40,960.73L469.29,960.73L470.18,960.73L471.07,960.73L471.96,960.73L472.85,960.74L473.74,960.74L474.63,960.74L475.52,960.74L476.41,960.74L477.30,960.74L478.19,960.75L479.08,960.75L479.97,960.75L480.86,960.75L481.74,960.75L482.63,960.75L483.52,960.75L484.41,960.76L485.30,960.76L486.19,960.76L487.08,960.76L487.97,960.76L488.86,960.76L489.75,960.76L490.64,960.76L491.53,960.77L492.42,960.77L493.31,960.77L494.20,960.77L495.09,960.77L495.98,960.77L496.87,960.77L497.76,960.77L498.65,960.77L499.54,960.78L500.43,960.78L501.32,960.78L502.21,960.78L503.10,960.78L503.99,960.78L504.88,960.78L505.76,960.78L506.65,960.78L507.54,960.78L508.43,960.78L509.32,960.79L510.21,960.79L511.10,960.79L511.99,960.79L512.88,960.79L513.77,960.79L514.66,960.79L515.55,960.79L516.44,960.79L517.33,960.79L518.22,960.79L519.11,960.79L520.00,960.79L520.89,960.79L521.78,960.79L522.67,960.80L523.56,960.80L524.45,960.80L525.34,960.80L526.23,960.80L527.12,960.80L528.01,960.80L528.89,960.80L529.78,960.80L530.67,960.80L531.56,960.80L532.45,960.80L533.34,960.80L534.23,960.80L535.12,960.80L536.01,960.80L536.90,960.80L537.79,960.80L538.68,960.80L539.57,960.80L540.46,960.80" fill="none" stroke="#ff0000" stroke-width="2.40" stroke-linejoin="round"/>
<path d="M185.50,960.80L186.39,960.29L187.28,959.07L188.17,956.92L189.06,954.14L189.95,951.01L190.84,947.83L191.73,944.85L192.62,941.79L193.51,938.57L194.40,935.24L195.29,931.85L196.18,928.46L197.07,925.02L197.95,921.50L198.84,917.93L199.73,914.35L200.62,910.81L201.51,907.34L202.40,903.81L203.29,900.24L204.18,896.76L205.07,893.48L205.96,890.50L206.85,887.77L207.74,885.11L208.63,882.56L209.52,880.14L210.41,877.89L211.30,875.83L212.19,874.00L213.08,872.41L213.97,870.91L214.86,869.50L215.75,868.20L216.64,867.02L217.53,866.00L218.42,865.15L219.31,864.49L220.20,863.89L221.08,863.31L221.97,862.77L222.86,862.29L223.75,861.89L224.64,861.57L225.53,861.36L226.42,861.28L227.31,861.34L228.20,861.54L229.09,861.85L229.98,862.26L230.87,862.74L231.76,863.27L232.65,863.83L233.54,864.39L234.43,864.96L235.32,865.63L236.21,866.40L237.10,867.24L237.99,868.11L238.88,868.99L239.77,869.88L240.66,870.78L241.55,871.70L242.44,872.65L243.33,873.61L244.22,874.59L245.10,875.60L245.99,876.62L246.88,877.67L247.77,878.75L248.66,879.84L249.55,880.96L250.44,882.11L251.33,883.28L252.22,884.48L253.11,885.73L254.00,887.06L254.89,888.45L255.78,889.90L256.67,891.39L257.56,892.92L258.45,894.46L259.34,896.03L260.23,897.59L261.12,899.15L262.01,900.69L262.90,902.21L263.79,903.68L264.68,905.11L265.57,906.49L266.46,907.80L267.35,909.11L268.24,910.40L269.12,911.68L270.01,912.95L270.90,914.20L271.79,915.44L272.68,916.66L273.57,917.85L274.46,919.03L275.35,920.17L276.24,921.29L277.13,922.38L278.02,923.44L278.91,924.47L279.80,925.46L280.69,926.44L281.58,927.41L282.47,928.37L283.36,929.32L284.25,930.25L285.14,931.17L286.03,932.07L286.92,932.95L287.81,933.81L288.70,934.64L289.59,935.46L290.48,936.24L291.37,937.01L292.25,937.74L293.14,938.44L294.03,939.11L294.92,939.75L295.81,940.36L296.70,940.96L297.59,941.54L298.48,942.11L299.37,942.66L300.26,943.20L301.15,943.73L302.04,944.24L302.93,944.74L303.82,945.22L304.71,945.69L305.60,946.15L306.49,946.60L307.38,947.04L308.27,947.46L309.16,947.87L310.05,948.27L310.94,948.65L311.83,949.02L312.72,949.39L313.61,949.74L314.50,950.08L315.39,950.42L316.27,950.74L317.16,951.05L318.05,951.34L318.94,951.62L319.83,951.89L320.72,952.13L321.61,952.36L322.50,952.57L323.39,952.77L324.28,952.96L325.17,953.16L326.06,953.34L326.95,953.53L327.84,953.70L328.73,953.88L329.62,954.05L330.51,954.21L331.40,954.37L332.29,954.53L333.18,954.68L334.07,954.83L334.96,954.98L335.85,955.12L336.74,955.25L337.63,955.39L338.52,955.52L339.40,955.65L340.29,955.77L341.18,955.89L342.07,956.01L342.96,956.12L343.85,956.23L344.74,956.34L345.63,956.44L346.52,956.54L347.41,956.64L348.30,956.74L349.19,956.84L350.08,956.93L350.97,957.03L351.86,957.12L352.75,957.22L353.64,957.31L354.53,957.40L355.42,957.49L356.31,957.58L357.20,957.67L358.09,957.75L358.98,957.84L359.87,957.92L360.76,958.00L361.65,958.08L362.54,958.16L363.42,958.23L364.31,958.31L365.20,958.38L366.09,958.45L366.98,958.52L367.87,958.59L368.76,958.66L369.65,958.72L370.54,958.78L371.43,958.84L372.32,958.90L373.21,958.95L374.10,959.01L374.99,959.06L375.88,959.10L376.77,959.15L377.66,959.19L378.55,959.23L379.44,959.27L380.33,959.31L381.22,959.34L382.11,959.37L383.00,959.41L383.89,959.44L384.78,959.47L385.67,959.50L386.56,959.53L387.44,959.56L388.33,959.59L389.22,959.62L390.11,959.65L391.00,959.68L391.89,959.71L392.78,959.74L393.67,959.76L394.56,959.79L395.45,959.82L396.34,959.84L397.23,959.87L398.12,959.89L399.01,959.92L399.90,959.94L400.79,959.96L401.68,959.98L402.57,960.01L403.46,960.03L404.35,960.05L405.24,960.07L406.13,960.09L407.02,960.11L407.91,960.12L408.80,960.14L409.69,960.16L410.57,960.17L411.46,960.19L412.35,960.20L413.24,960.22L414.13,960.23L415.02,960.24L415.91,960.26L416.80,960.27L417.69,960.28L418.58,960.29L419.47,960.30L420.36,960.31L421.25,960.32L422.14,960.32L423.03,960.33L423.92,960.34L424.81,960.34L425.70,960.35L426.59,960.36L427.48,960.36L428.37,960.37L429.26,960.38L430.15,960.38L431.04,960.39L431.93,960.40L432.82,960.40L433.71,960.41L434.59,960.42L435.48,960.42L436.37,960.43L437.26,960.43L438.15,960.44L439.04,960.45L439.93,960.45L440.82,960.46L441.71,960.46L442.60,960.47L443.49,960.48L444.38,960.48L445.27,960.49L446.16,960.49L447.05,960.50L447.94,960.50L448.83,960.51L449.72,960.51L450.61,960.52L451.50,960.53L452.39,960.53L453.28,960.54L454.17,960.54L455.06,960.55L455.95,960.55L456.84,960.56L457.72,960.56L458.61,960.57L459.50,960.57L460.39,960.58L461.28,960.58L462.17,960.59L463.06,960.59L463.95,960.60L464.84,960.60L465.73,960.60L466.62,960.61L467.51,960.61L468.40,960.62L469.29,960.62L470.18,960.63L471.07,960.63L471.96,960.64L472.85,960.64L473.74,960.64L474.63,960.65L475.52,960.65L476.41,960.66L477.30,960.66L478.19,960.66L479.08,960.67L479.97,960.67L480.86,960.67L481.74,960.68L482.63,960.68L483.52,960.69L484.41,960.69L485.30,960.69L486.19,960.70L487.08,960.70L487.97,960.70L488.86,960.71L489.75,960.71L490.64,960.71L491.53,960.72L492.42,960.72L493.31,960.72L494.20,960.72L495.09,960.73L495.98,960.73L496.87,960.73L497.76,960.74L498.65,960.74L499.54,960.74L500.43,960.74L501.32,960.75L502.21,960.75L503.10,960.75L503.99,960.75L504.88,960.75L505.76,960.76L506.65,960.76L507.54,960.76L508.43,960.76L509.32,960.77L510.21,960.77L511.10,960.77L511.99,960.77L512.88,960.77L513.77,960.77L514.66,960.78L515.55,960.78L516.44,960.78L517.33,960.78L518.22,960.78L519.11,960.78L520.00,960.78L520.89,960.79L521.78,960.79L522.67,960.79L523.56,960.79L524.45,960.79L525.34,960.79L526.23,960.79L527.12,960.79L528.01,960.79L528.89,960.80L529.78,960.80L530.67,960.80L531.56,960.80L532.45,960.80L533.34,960.80L534.23,960.80L535.12,960.80L536.01,960.80L536.90,960.80L537.79,960.80L538.68,960.80L539.57,960.80L540.46,960.80" fill="none" stroke="#0000ff" stroke-width="2.52" stroke-dasharray="4.68 4.56" stroke-linejoin="round"/>
<path d="M185.50,960.80L186.39,960.29L187.28,958.53L188.17,955.03L189.06,950.73L189.95,946.34L190.84,941.28L191.73,935.58L192.62,929.40L193.51,922.90L194.40,915.71L195.29,907.84L196.18,899.69L197.07,891.40L197.95,882.59L198.84,874.06L199.73,866.62L200.62,860.05L201.51,853.89L202.40,847.68L203.29,841.01L204.18,833.87L205.07,826.76L205.96,820.23L206.85,814.37L207.74,808.83L208.63,803.63L209.52,798.82L210.41,794.35L211.30,789.86L212.19,785.40L213.08,781.09L213.97,777.02L214.86,773.31L215.75,770.07L216.64,767.41L217.53,765.43L218.42,763.79L219.31,762.21L220.20,760.71L221.08,759.33L221.97,758.09L222.86,757.01L223.75,756.12L224.64,755.45L225.53,755.01L226.42,754.84L227.31,754.97L228.20,755.40L229.09,756.10L229.98,757.01L230.87,758.09L231.76,759.29L232.65,760.58L233.54,761.91L234.43,763.23L235.32,764.68L236.21,766.39L237.10,768.32L237.99,770.45L238.88,772.72L239.77,775.11L240.66,777.58L241.55,780.09L242.44,782.61L243.33,785.10L244.22,787.53L245.10,789.95L245.99,792.42L246.88,794.95L247.77,797.52L248.66,800.12L249.55,802.74L250.44,805.38L251.33,808.02L252.22,810.66L253.11,813.28L254.00,815.88L254.89,818.50L255.78,821.13L256.67,823.77L257.56,826.41L258.45,829.04L259.34,831.67L260.23,834.30L261.12,836.91L262.01,839.52L262.90,842.16L263.79,844.82L264.68,847.48L265.57,850.12L266.46,852.74L267.35,855.33L268.24,857.87L269.12,860.34L270.01,862.75L270.90,865.07L271.79,867.36L272.68,869.62L273.57,871.83L274.46,874.01L275.35,876.16L276.24,878.26L277.13,880.34L278.02,882.37L278.91,884.37L279.80,886.34L280.69,888.27L281.58,890.18L282.47,892.08L283.36,893.97L284.25,895.83L285.14,897.67L286.03,899.49L286.92,901.27L287.81,903.01L288.70,904.71L289.59,906.37L290.48,907.97L291.37,909.52L292.25,911.00L293.14,912.43L294.03,913.82L294.92,915.18L295.81,916.51L296.70,917.80L297.59,919.06L298.48,920.29L299.37,921.47L300.26,922.62L301.15,923.72L302.04,924.78L302.93,925.80L303.82,926.77L304.71,927.68L305.60,928.54L306.49,929.34L307.38,930.12L308.27,930.88L309.16,931.64L310.05,932.42L310.94,933.21L311.83,934.02L312.72,934.85L313.61,935.67L314.50,936.51L315.39,937.34L316.27,938.16L317.16,938.97L318.05,939.77L318.94,940.55L319.83,941.31L320.72,942.03L321.61,942.73L322.50,943.39L323.39,944.00L324.28,944.57L325.17,945.09L326.06,945.57L326.95,946.03L327.84,946.49L328.73,946.94L329.62,947.37L330.51,947.81L331.40,948.23L332.29,948.64L333.18,949.04L334.07,949.44L334.96,949.82L335.85,950.20L336.74,950.56L337.63,950.91L338.52,951.26L339.40,951.59L340.29,951.91L341.18,952.22L342.07,952.52L342.96,952.80L343.85,953.08L344.74,953.34L345.63,953.59L346.52,953.82L347.41,954.04L348.30,954.25L349.19,954.45L350.08,954.63L350.97,954.80L351.86,954.95L352.75,955.11L353.64,955.25L354.53,955.39L355.42,955.53L356.31,955.66L357.20,955.78L358.09,955.90L358.98,956.02L359.87,956.13L360.76,956.24L361.65,956.35L362.54,956.45L363.42,956.55L364.31,956.65L365.20,956.74L366.09,956.83L366.98,956.92L367.87,957.01L368.76,957.10L369.65,957.18L370.54,957.26L371.43,957.34L372.32,957.42L373.21,957.50L374.10,957.58L374.99,957.66L375.88,957.74L376.77,957.81L377.66,957.89L378.55,957.97L379.44,958.05L380.33,958.13L381.22,958.20L382.11,958.28L383.00,958.36L383.89,958.43L384.78,958.51L385.67,958.58L386.56,958.65L387.44,958.73L388.33,958.80L389.22,958.87L390.11,958.93L391.00,959.00L391.89,959.06L392.78,959.12L393.67,959.18L394.56,959.24L395.45,959.29L396.34,959.34L397.23,959.39L398.12,959.43L399.01,959.48L399.90,959.52L400.79,959.55L401.68,959.58L402.57,959.61L403.46,959.64L404.35,959.66L405.24,959.69L406.13,959.71L407.02,959.74L407.91,959.76L408.80,959.78L409.69,959.81L410.57,959.83L411.46,959.85L412.35,959.87L413.24,959.89L414.13,959.91L415.02,959.93L415.91,959.95L416.80,959.97L417.69,959.99L418.58,960.01L419.47,960.02L420.36,960.04L421.25,960.06L422.14,960.07L423.03,960.09L423.92,960.10L424.81,960.12L425.70,960.13L426.59,960.14L427.48,960.16L428.37,960.17L429.26,960.18L430.15,960.20L431.04,960.21L431.93,960.22L432.82,960.23L433.71,960.24L434.59,960.25L435.48,960.26L436.37,960.27L437.26,960.28L438.15,960.29L439.04,960.30L439.93,960.31L440.82,960.31L441.71,960.32L442.60,960.33L443.49,960.34L444.38,960.34L445.27,960.35L446.16,960.36L447.05,960.37L447.94,960.37L448.83,960.38L449.72,960.39L450.61,960.39L451.50,960.40L452.39,960.41L453.28,960.41L454.17,960.42L455.06,960.43L455.95,960.44L456.84,960.44L457.72,960.45L458.61,960.46L459.50,960.46L460.39,960.47L461.28,960.48L462.17,960.48L463.06,960.49L463.95,960.49L464.84,960.50L465.73,960.51L466.62,960.51L467.51,960.52L468.40,960.53L469.29,960.53L470.18,960.54L471.07,960.54L471.96,960.55L472.85,960.56L473.74,960.56L474.63,960.57L475.52,960.57L476.41,960.58L477.30,960.58L478.19,960.59L479.08,960.60L479.97,960.60L480.86,960.61L481.74,960.61L482.63,960.62L483.52,960.62L484.41,960.63L485.30,960.63L486.19,960.64L487.08,960.64L487.97,960.65L488.86,960.65L489.75,960.66L490.64,960.66L491.53,960.67L492.42,960.67L493.31,960.67L494.20,960.68L495.09,960.68L495.98,960.69L496.87,960.69L497.76,960.70L498.65,960.70L499.54,960.70L500.43,960.71L501.32,960.71L502.21,960.72L503.10,960.72L503.99,960.72L504.88,960.73L505.76,960.73L506.65,960.73L507.54,960.74L508.43,960.74L509.32,960.74L510.21,960.75L511.10,960.75L511.99,960.75L512.88,960.76L513.77,960.76L514.66,960.76L515.55,960.76L516.44,960.77L517.33,960.77L518.22,960.77L519.11,960.77L520.00,960.77L520.89,960.78L521.78,960.78L522.67,960.78L523.56,960.78L524.45,960.78L525.34,960.79L526.23,960.79L527.12,960.79L528.01,960.79L528.89,960.79L529.78,960.79L530.67,960.79L531.56,960.80L532.45,960.80L533.34,960.80L534.23,960.80L535.12,960.80L536.01,960.80L536.90,960.80L537.79,960.80L538.68,960.80L539.57,960.80L540.46,960.80" fill="none" stroke="#000000" stroke-width="2.40" stroke-dasharray="11.40 15.20" stroke-dashoffset="0.00" stroke-linejoin="round"/>
</svg>
<text transform="translate(185.50,986.40) scale(1.0,1)" text-anchor="middle" font-size="11" font-weight="bold">0</text>
<text transform="translate(264.38,986.40) scale(1.0,1)" text-anchor="middle" font-size="11" font-weight="bold">2</text>
<text transform="translate(343.26,986.40) scale(1.0,1)" text-anchor="middle" font-size="11" font-weight="bold">4</text>
<text transform="translate(422.14,986.40) scale(1.0,1)" text-anchor="middle" font-size="11" font-weight="bold">6</text>
<text transform="translate(501.02,986.40) scale(1.0,1)" text-anchor="middle" font-size="11" font-weight="bold">8</text>
<text transform="translate(173.80,964.70) scale(1.0,1)" text-anchor="end" font-size="11" font-weight="bold">0.00</text>
<text transform="translate(173.80,934.85) scale(1.0,1)" text-anchor="end" font-size="11" font-weight="bold">0.05</text>
<text transform="translate(173.80,905.00) scale(1.0,1)" text-anchor="end" font-size="11" font-weight="bold">0.10</text>
<text transform="translate(173.80,875.15) scale(1.0,1)" text-anchor="end" font-size="11" font-weight="bold">0.15</text>
<text transform="translate(173.80,845.30) scale(1.0,1)" text-anchor="end" font-size="11" font-weight="bold">0.20</text>
<text transform="translate(173.80,815.45) scale(1.0,1)" text-anchor="end" font-size="11" font-weight="bold">0.25</text>
<text transform="translate(173.80,785.60) scale(1.0,1)" text-anchor="end" font-size="11" font-weight="bold">0.30</text>
<text transform="translate(173.80,755.75) scale(1.0,1)" text-anchor="end" font-size="11" font-weight="bold">0.35</text>
<text x="359.80" y="1006.45" font-size="14.53" font-weight="bold" textLength="6.2" lengthAdjust="spacingAndGlyphs">x</text>
<g transform="translate(142.50,0) rotate(-90)">
<text x="-881.20" y="0" font-size="11.8" font-weight="bold" textLength="18.2" lengthAdjust="spacingAndGlyphs">var</text>
<text x="-859.80" y="0" font-size="10.5" stroke="#000" stroke-width="0.25" textLength="22.10" lengthAdjust="spacingAndGlyphs">(σ1)</text>
</g>
<text x="507.40" y="770.95" font-size="24.40" textLength="26.30" lengthAdjust="spacingAndGlyphs">(g)</text>
<path d="M396.60,808.80H442.80" fill="none" stroke="#ff0000" stroke-width="2.40"/>
<text x="448.80" y="812.70" font-size="11" font-weight="bold" textLength="25.0" lengthAdjust="spacingAndGlyphs">t=0.1</text>
<path d="M397.50,832.30H440.00" fill="none" stroke="#0000ff" stroke-width="2.52" stroke-dasharray="4.68 4.56"/>
<text x="448.80" y="836.20" font-size="11" font-weight="bold" textLength="25.0" lengthAdjust="spacingAndGlyphs">t=0.4</text>
<path d="M397.70,855.70H443.00" fill="none" stroke="#000000" stroke-width="2.40" stroke-dasharray="11.40 15.20" />
<text x="448.80" y="859.61" font-size="11" font-weight="bold" textLength="25.0" lengthAdjust="spacingAndGlyphs">t=0.7</text>
</g>
</svg></body></html>
